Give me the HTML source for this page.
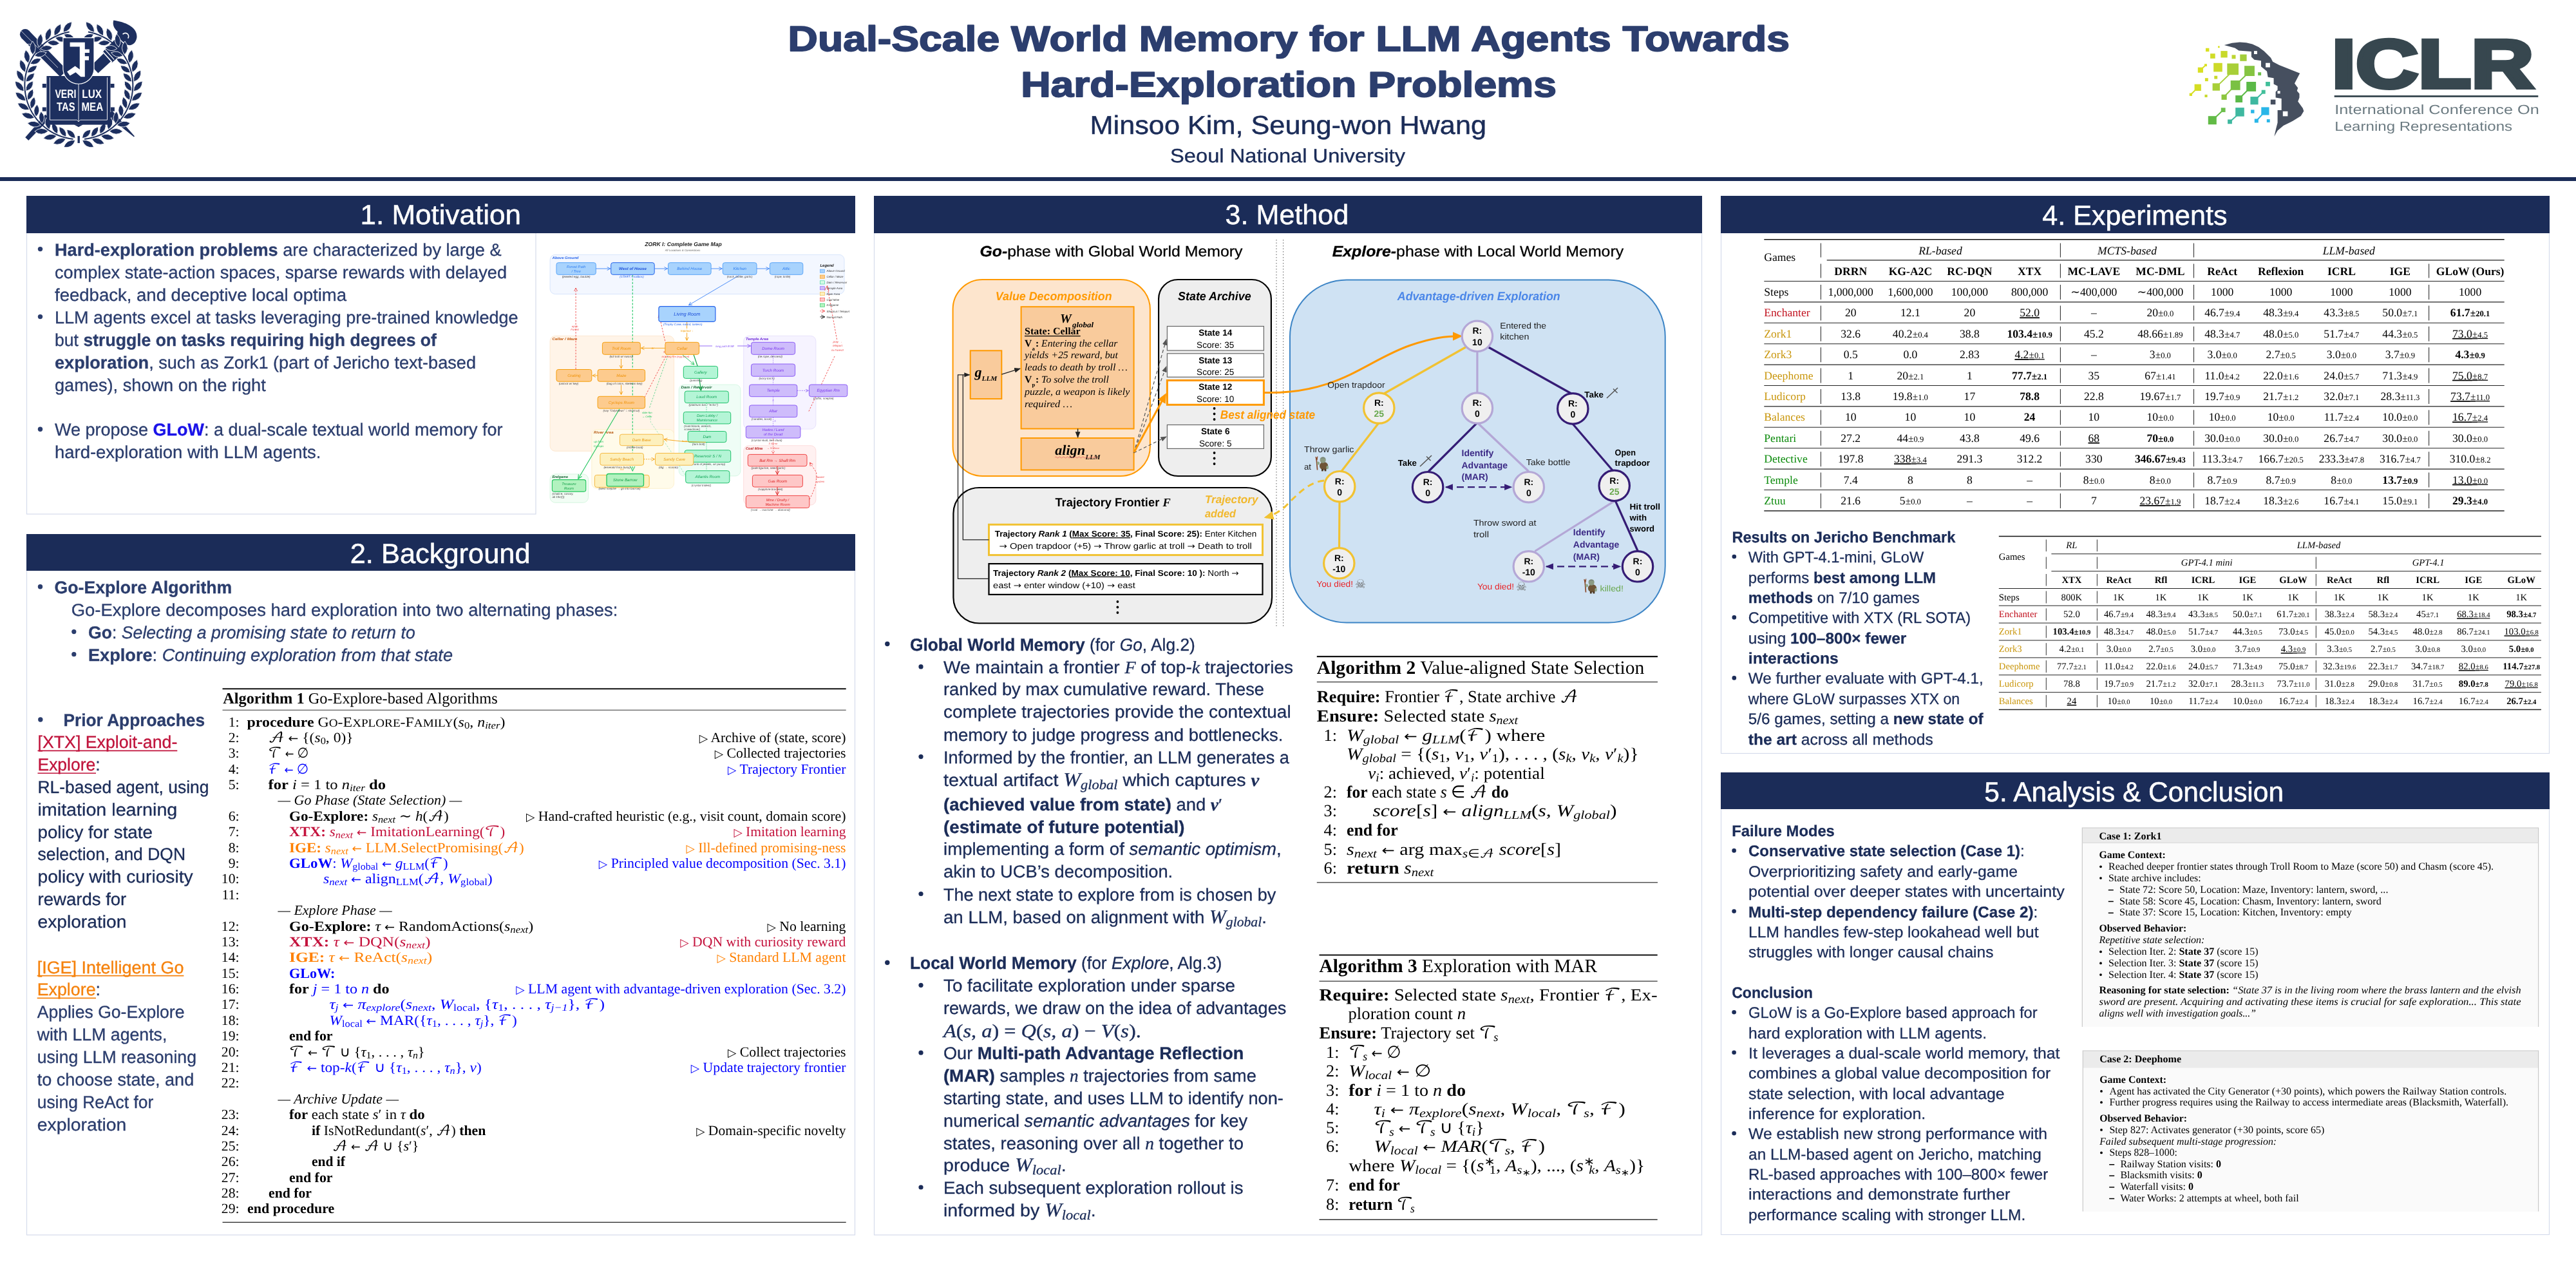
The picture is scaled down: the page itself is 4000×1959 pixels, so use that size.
<!DOCTYPE html>
<html lang="en"><head><meta charset="utf-8">
<title>Dual-Scale World Memory for LLM Agents Towards Hard-Exploration Problems</title>
<style>html,body{margin:0;padding:0;background:#fff}body{width:4000px;height:1959px}svg{display:block;will-change:transform}</style>
</head><body>
<svg width="4000" height="1959" viewBox="0 0 4000 1959" font-family="'Liberation Sans', sans-serif" text-rendering="geometricPrecision">
<rect x="0" y="0" width="4000" height="1959" fill="#ffffff"/>
<text x="1223.6" y="79.2" font-size="55.00" fill="#2c3e6e" font-weight="bold" textLength="1555.4" lengthAdjust="spacingAndGlyphs" stroke="#2c3e6e" stroke-width="1.8" stroke-linejoin="round">Dual-Scale World Memory for LLM Agents Towards</text>
<text x="1585.2" y="149.6" font-size="55.00" fill="#2c3e6e" font-weight="bold" textLength="831.8" lengthAdjust="spacingAndGlyphs" stroke="#2c3e6e" stroke-width="1.8" stroke-linejoin="round">Hard-Exploration Problems</text>
<text x="1692.5" y="207.5" font-size="40.50" fill="#1b2c58" textLength="615.5" lengthAdjust="spacingAndGlyphs" stroke="#1b2c58" stroke-width="0.49">Minsoo Kim, Seung-won Hwang</text>
<text x="1817.0" y="252.0" font-size="30.00" fill="#1b2c58" textLength="365.0" lengthAdjust="spacingAndGlyphs" stroke="#1b2c58" stroke-width="0.36">Seoul National University</text>
<rect x="0.0" y="275.0" width="4000.0" height="6.0" fill="#1b2c58" />
<rect x="41.5" y="361.5" width="790.5" height="436.5" fill="#fff" stroke="#d5dbec" stroke-width="1.2" />
<rect x="41.0" y="304.0" width="1287.0" height="58.0" fill="#1b2c58" />
<text x="559.5" y="348.4" font-size="43.00" fill="#ffffff" textLength="249.5" lengthAdjust="spacingAndGlyphs" stroke="#ffffff" stroke-width="0.52">1. Motivation</text>
<rect x="41.5" y="885.5" width="1286.0" height="1031.5" fill="#fff" stroke="#d5dbec" stroke-width="1.2" />
<rect x="41.0" y="829.0" width="1287.0" height="57.0" fill="#1b2c58" />
<text x="543.7" y="874.3" font-size="43.00" fill="#ffffff" textLength="279.9" lengthAdjust="spacingAndGlyphs" stroke="#ffffff" stroke-width="0.52">2. Background</text>
<rect x="1357.5" y="361.5" width="1285.0" height="1555.5" fill="#fff" stroke="#d5dbec" stroke-width="1.2" />
<rect x="1357.0" y="304.0" width="1286.0" height="58.0" fill="#1b2c58" />
<text x="1902.6" y="348.1" font-size="43.00" fill="#ffffff" textLength="191.7" lengthAdjust="spacingAndGlyphs" stroke="#ffffff" stroke-width="0.52">3. Method</text>
<rect x="2672.5" y="361.5" width="1286.0" height="808.0" fill="#fff" stroke="#d5dbec" stroke-width="1.2" />
<rect x="2672.0" y="304.0" width="1287.0" height="58.0" fill="#1b2c58" />
<text x="3171.3" y="348.6" font-size="43.00" fill="#ffffff" textLength="287.2" lengthAdjust="spacingAndGlyphs" stroke="#ffffff" stroke-width="0.52">4. Experiments</text>
<rect x="2672.5" y="1255.5" width="1286.0" height="661.0" fill="#fff" stroke="#d5dbec" stroke-width="1.2" />
<rect x="2672.0" y="1199.0" width="1287.0" height="57.0" fill="#1b2c58" />
<text x="3081.3" y="1243.9" font-size="43.00" fill="#ffffff" textLength="464.7" lengthAdjust="spacingAndGlyphs" stroke="#ffffff" stroke-width="0.52">5. Analysis &amp; Conclusion</text>
<text x="85.0" y="396.6" font-size="27.00" fill="#2b3d6d" textLength="693.5" lengthAdjust="spacingAndGlyphs" stroke="#2b3d6d" stroke-width="0.32"><tspan font-weight="bold">Hard-exploration problems</tspan> are characterized by large &amp;</text>
<circle cx="62.5" cy="386.6" r="3.7" fill="#2b3d6d" />
<text x="85.0" y="431.7" font-size="27.00" fill="#2b3d6d" textLength="702.0" lengthAdjust="spacingAndGlyphs" stroke="#2b3d6d" stroke-width="0.32">complex state-action spaces, sparse rewards with delayed</text>
<text x="85.0" y="466.6" font-size="27.00" fill="#2b3d6d" textLength="453.0" lengthAdjust="spacingAndGlyphs" stroke="#2b3d6d" stroke-width="0.32">feedback, and deceptive local optima</text>
<text x="85.0" y="501.6" font-size="27.00" fill="#2b3d6d" textLength="719.6" lengthAdjust="spacingAndGlyphs" stroke="#2b3d6d" stroke-width="0.32">LLM agents excel at tasks leveraging pre-trained knowledge</text>
<circle cx="62.5" cy="491.6" r="3.7" fill="#2b3d6d" />
<text x="85.0" y="536.7" font-size="27.00" fill="#2b3d6d" textLength="593.0" lengthAdjust="spacingAndGlyphs" stroke="#2b3d6d" stroke-width="0.32">but <tspan font-weight="bold">struggle on tasks requiring high degrees of</tspan></text>
<text x="85.0" y="571.7" font-size="27.00" fill="#2b3d6d" textLength="654.0" lengthAdjust="spacingAndGlyphs" stroke="#2b3d6d" stroke-width="0.32"><tspan font-weight="bold">exploration</tspan>, such as Zork1 (part of Jericho text-based</text>
<text x="85.0" y="606.6" font-size="27.00" fill="#2b3d6d" textLength="327.7" lengthAdjust="spacingAndGlyphs" stroke="#2b3d6d" stroke-width="0.32">games), shown on the right</text>
<text x="85.0" y="676.2" font-size="27.00" fill="#2b3d6d" textLength="695.4" lengthAdjust="spacingAndGlyphs" stroke="#2b3d6d" stroke-width="0.32">We propose <tspan font-weight="bold"><tspan fill="#1a12e8" stroke="#1a12e8">GLoW</tspan></tspan>: a dual-scale textual world memory for</text>
<circle cx="62.5" cy="666.2" r="3.7" fill="#2b3d6d" />
<text x="85.0" y="711.2" font-size="27.00" fill="#2b3d6d" textLength="413.4" lengthAdjust="spacingAndGlyphs" stroke="#2b3d6d" stroke-width="0.32">hard-exploration with LLM agents.</text>
<circle cx="62.5" cy="910.8" r="3.7" fill="#2b3d6d" />
<text x="84.6" y="920.8" font-size="27.00" fill="#2b3d6d" textLength="275.7" lengthAdjust="spacingAndGlyphs" stroke="#2b3d6d" stroke-width="0.32"><tspan font-weight="bold">Go-Explore Algorithm</tspan></text>
<text x="110.7" y="955.7" font-size="27.00" fill="#2b3d6d" textLength="848.6" lengthAdjust="spacingAndGlyphs" stroke="#2b3d6d" stroke-width="0.32">Go-Explore decomposes hard exploration into two alternating phases:</text>
<circle cx="114.8" cy="980.6" r="3.6" fill="#2b3d6d" />
<text x="137.0" y="990.6" font-size="27.00" fill="#2b3d6d" textLength="507.8" lengthAdjust="spacingAndGlyphs" stroke="#2b3d6d" stroke-width="0.32"><tspan font-weight="bold">Go</tspan>: <tspan font-style="italic">Selecting a promising state to return to</tspan></text>
<circle cx="114.8" cy="1015.6" r="3.6" fill="#2b3d6d" />
<text x="137.0" y="1025.6" font-size="27.00" fill="#2b3d6d" textLength="566.0" lengthAdjust="spacingAndGlyphs" stroke="#2b3d6d" stroke-width="0.32"><tspan font-weight="bold">Explore</tspan>: <tspan font-style="italic">Continuing exploration from that state</tspan></text>
<circle cx="62.8" cy="1117.0" r="3.7" fill="#2b3d6d" />
<text x="98.5" y="1127.0" font-size="27.00" fill="#2b3d6d" textLength="219.5" lengthAdjust="spacingAndGlyphs" stroke="#2b3d6d" stroke-width="0.32"><tspan font-weight="bold">Prior Approaches</tspan></text>
<text x="58.5" y="1161.4" font-size="27.00" fill="#c0143c" textLength="216.8" lengthAdjust="spacingAndGlyphs" stroke="#c0143c" stroke-width="0.32">[XTX] Exploit-and-</text>
<line x1="58.5" y1="1165.4" x2="275.3" y2="1165.4" stroke="#c0143c" stroke-width="1.6" />
<text x="58.5" y="1196.2" font-size="27.00" fill="#2b3d6d" textLength="97.0" lengthAdjust="spacingAndGlyphs" stroke="#2b3d6d" stroke-width="0.32"><tspan fill="#c0143c" stroke="#c0143c">Explore</tspan>:</text>
<line x1="58.5" y1="1200.2" x2="149.0" y2="1200.2" stroke="#c0143c" stroke-width="1.6" />
<text x="58.5" y="1231.2" font-size="27.00" fill="#1b2c58" textLength="265.9" lengthAdjust="spacingAndGlyphs" stroke="#1b2c58" stroke-width="0.32">RL-based agent, using</text>
<text x="58.5" y="1265.8" font-size="27.00" fill="#1b2c58" textLength="216.8" lengthAdjust="spacingAndGlyphs" stroke="#1b2c58" stroke-width="0.32">imitation learning</text>
<text x="58.5" y="1300.6" font-size="27.00" fill="#1b2c58" textLength="178.3" lengthAdjust="spacingAndGlyphs" stroke="#1b2c58" stroke-width="0.32">policy for state</text>
<text x="58.5" y="1335.4" font-size="27.00" fill="#1b2c58" textLength="229.5" lengthAdjust="spacingAndGlyphs" stroke="#1b2c58" stroke-width="0.32">selection, and DQN</text>
<text x="58.5" y="1370.2" font-size="27.00" fill="#1b2c58" textLength="241.1" lengthAdjust="spacingAndGlyphs" stroke="#1b2c58" stroke-width="0.32">policy with curiosity</text>
<text x="58.5" y="1405.0" font-size="27.00" fill="#1b2c58" textLength="137.8" lengthAdjust="spacingAndGlyphs" stroke="#1b2c58" stroke-width="0.32">rewards for</text>
<text x="58.5" y="1439.6" font-size="27.00" fill="#1b2c58" textLength="137.8" lengthAdjust="spacingAndGlyphs" stroke="#1b2c58" stroke-width="0.32">exploration</text>
<text x="57.7" y="1510.6" font-size="27.00" fill="#f5820d" textLength="227.7" lengthAdjust="spacingAndGlyphs" stroke="#f5820d" stroke-width="0.32">[IGE] Intelligent Go</text>
<line x1="57.7" y1="1514.6" x2="285.4" y2="1514.6" stroke="#f5820d" stroke-width="1.6" />
<text x="57.7" y="1545.4" font-size="27.00" fill="#2b3d6d" textLength="98.3" lengthAdjust="spacingAndGlyphs" stroke="#2b3d6d" stroke-width="0.32"><tspan fill="#f5820d" stroke="#f5820d">Explore</tspan>:</text>
<line x1="57.7" y1="1549.4" x2="149.0" y2="1549.4" stroke="#f5820d" stroke-width="1.6" />
<text x="57.7" y="1580.3" font-size="27.00" fill="#2b3d6d" textLength="228.8" lengthAdjust="spacingAndGlyphs" stroke="#2b3d6d" stroke-width="0.32">Applies Go-Explore</text>
<text x="57.7" y="1615.2" font-size="27.00" fill="#2b3d6d" textLength="201.6" lengthAdjust="spacingAndGlyphs" stroke="#2b3d6d" stroke-width="0.32">with LLM agents,</text>
<text x="57.7" y="1650.0" font-size="27.00" fill="#2b3d6d" textLength="247.3" lengthAdjust="spacingAndGlyphs" stroke="#2b3d6d" stroke-width="0.32">using LLM reasoning</text>
<text x="57.7" y="1684.9" font-size="27.00" fill="#2b3d6d" textLength="243.5" lengthAdjust="spacingAndGlyphs" stroke="#2b3d6d" stroke-width="0.32">to choose state, and</text>
<text x="57.7" y="1719.7" font-size="27.00" fill="#2b3d6d" textLength="180.6" lengthAdjust="spacingAndGlyphs" stroke="#2b3d6d" stroke-width="0.32">using ReAct for</text>
<text x="57.7" y="1754.5" font-size="27.00" fill="#2b3d6d" textLength="138.7" lengthAdjust="spacingAndGlyphs" stroke="#2b3d6d" stroke-width="0.32">exploration</text>
<line x1="345.5" y1="1069.3" x2="1313.7" y2="1069.3" stroke="#111" stroke-width="2" />
<text x="346.2" y="1092.4" font-size="24.20" fill="#000000" font-family="'Liberation Serif', serif" textLength="426.5" lengthAdjust="spacingAndGlyphs" stroke-width="0"><tspan font-weight="bold">Algorithm 1</tspan> Go-Explore-based Algorithms</text>
<line x1="345.5" y1="1102.2" x2="1313.7" y2="1102.2" stroke="#333" stroke-width="1.1" />
<line x1="345.5" y1="1897.3" x2="1313.7" y2="1897.3" stroke="#222" stroke-width="1.3" />
<text x="371.5" y="1127.5" font-size="21.70" fill="#000000" font-family="'Liberation Serif', serif" text-anchor="end" stroke-width="0">1:</text>
<text x="383.5" y="1127.5" font-size="21.70" fill="#000000" font-family="'Liberation Serif', serif" textLength="400.9" lengthAdjust="spacingAndGlyphs" stroke-width="0"><tspan font-weight="bold">procedure</tspan> G<tspan style="font-size:.8em">O</tspan>-E<tspan style="font-size:.8em">XPLORE</tspan>-F<tspan style="font-size:.8em">AMILY</tspan>(<tspan font-style="italic">s</tspan><tspan style="font-size:.7em" baseline-shift="-0.22em">0</tspan>, <tspan font-style="italic">n<tspan style="font-size:.7em" baseline-shift="-0.22em">iter</tspan></tspan>)</text>
<text x="371.5" y="1151.9" font-size="21.70" fill="#000000" font-family="'Liberation Serif', serif" text-anchor="end" stroke-width="0">2:</text>
<text x="416.5" y="1151.9" font-size="21.70" fill="#000000" font-family="'Liberation Serif', serif" textLength="132.1" lengthAdjust="spacingAndGlyphs" stroke-width="0"><tspan font-family="'DejaVu Math TeX Gyre', 'DejaVu Serif', serif" font-style="normal" font-weight="normal">𝒜</tspan> <tspan font-family="'DejaVu Sans', sans-serif" font-style="normal"><tspan style="font-size:.8em">←</tspan></tspan> {(<tspan font-style="italic">s</tspan><tspan style="font-size:.7em" baseline-shift="-0.22em">0</tspan>, 0)}</text>
<text x="1085.8" y="1151.9" font-size="21.70" fill="#000000" font-family="'Liberation Serif', serif" textLength="227.7" lengthAdjust="spacingAndGlyphs" stroke-width="0"><tspan font-family="'DejaVu Sans', sans-serif" font-style="normal"><tspan style="font-size:.8em">▷</tspan></tspan> Archive of (state, score)</text>
<text x="371.5" y="1176.3" font-size="21.70" fill="#000000" font-family="'Liberation Serif', serif" text-anchor="end" stroke-width="0">3:</text>
<text x="416.5" y="1176.3" font-size="21.70" fill="#000000" font-family="'Liberation Serif', serif" textLength="62.8" lengthAdjust="spacingAndGlyphs" stroke-width="0"><tspan font-family="'DejaVu Math TeX Gyre', 'DejaVu Serif', serif" font-style="normal" font-weight="normal">𝒯</tspan> <tspan font-family="'DejaVu Sans', sans-serif" font-style="normal"><tspan style="font-size:.8em">←</tspan></tspan> ∅</text>
<text x="1109.8" y="1176.3" font-size="21.70" fill="#000000" font-family="'Liberation Serif', serif" textLength="203.7" lengthAdjust="spacingAndGlyphs" stroke-width="0"><tspan font-family="'DejaVu Sans', sans-serif" font-style="normal"><tspan style="font-size:.8em">▷</tspan></tspan> Collected trajectories</text>
<text x="371.5" y="1200.7" font-size="21.70" fill="#000000" font-family="'Liberation Serif', serif" text-anchor="end" stroke-width="0">4:</text>
<text x="416.5" y="1200.7" font-size="21.70" fill="#0000ff" font-family="'Liberation Serif', serif" textLength="62.8" lengthAdjust="spacingAndGlyphs" stroke-width="0"><tspan font-family="'DejaVu Math TeX Gyre', 'DejaVu Serif', serif" font-style="normal" font-weight="normal">ℱ</tspan> <tspan font-family="'DejaVu Sans', sans-serif" font-style="normal"><tspan style="font-size:.8em">←</tspan></tspan> ∅</text>
<text x="1130.0" y="1200.7" font-size="21.70" fill="#0000ff" font-family="'Liberation Serif', serif" textLength="183.5" lengthAdjust="spacingAndGlyphs" stroke-width="0"><tspan font-family="'DejaVu Sans', sans-serif" font-style="normal"><tspan style="font-size:.8em">▷</tspan></tspan> Trajectory Frontier</text>
<text x="371.5" y="1225.0" font-size="21.70" fill="#000000" font-family="'Liberation Serif', serif" text-anchor="end" stroke-width="0">5:</text>
<text x="416.5" y="1225.0" font-size="21.70" fill="#000000" font-family="'Liberation Serif', serif" textLength="182.5" lengthAdjust="spacingAndGlyphs" stroke-width="0"><tspan font-weight="bold">for</tspan> <tspan font-style="italic">i</tspan> = 1 to <tspan font-style="italic">n<tspan style="font-size:.7em" baseline-shift="-0.22em">iter</tspan></tspan> <tspan font-weight="bold">do</tspan></text>
<text x="431.6" y="1249.4" font-size="21.70" fill="#000000" font-family="'Liberation Serif', serif" textLength="285.6" lengthAdjust="spacingAndGlyphs" stroke-width="0"><tspan font-style="italic">— Go Phase (State Selection) —</tspan></text>
<text x="371.5" y="1273.8" font-size="21.70" fill="#000000" font-family="'Liberation Serif', serif" text-anchor="end" stroke-width="0">6:</text>
<text x="449.0" y="1273.8" font-size="21.70" fill="#000000" font-family="'Liberation Serif', serif" textLength="247.8" lengthAdjust="spacingAndGlyphs" stroke-width="0"><tspan font-weight="bold">Go-Explore:</tspan> <tspan font-style="italic">s<tspan style="font-size:.7em" baseline-shift="-0.22em">next</tspan></tspan> ∼ <tspan font-style="italic">h</tspan>(<tspan font-family="'DejaVu Math TeX Gyre', 'DejaVu Serif', serif" font-style="normal" font-weight="normal">𝒜</tspan>)</text>
<text x="816.9" y="1273.8" font-size="21.70" fill="#000000" font-family="'Liberation Serif', serif" textLength="496.6" lengthAdjust="spacingAndGlyphs" stroke-width="0"><tspan font-family="'DejaVu Sans', sans-serif" font-style="normal"><tspan style="font-size:.8em">▷</tspan></tspan> Hand-crafted heuristic (e.g., visit count, domain score)</text>
<text x="371.5" y="1298.2" font-size="21.70" fill="#000000" font-family="'Liberation Serif', serif" text-anchor="end" stroke-width="0">7:</text>
<text x="449.0" y="1298.2" font-size="21.70" fill="#c4133d" font-family="'Liberation Serif', serif" textLength="335.4" lengthAdjust="spacingAndGlyphs" stroke-width="0"><tspan font-weight="bold">XTX:</tspan> <tspan font-style="italic">s<tspan style="font-size:.7em" baseline-shift="-0.22em">next</tspan></tspan> <tspan font-family="'DejaVu Sans', sans-serif" font-style="normal"><tspan style="font-size:.8em">←</tspan></tspan> ImitationLearning(<tspan font-family="'DejaVu Math TeX Gyre', 'DejaVu Serif', serif" font-style="normal" font-weight="normal">𝒯</tspan>)</text>
<text x="1139.4" y="1298.2" font-size="21.70" fill="#c4133d" font-family="'Liberation Serif', serif" textLength="174.1" lengthAdjust="spacingAndGlyphs" stroke-width="0"><tspan font-family="'DejaVu Sans', sans-serif" font-style="normal"><tspan style="font-size:.8em">▷</tspan></tspan> Imitation learning</text>
<text x="371.5" y="1322.6" font-size="21.70" fill="#000000" font-family="'Liberation Serif', serif" text-anchor="end" stroke-width="0">8:</text>
<text x="449.0" y="1322.6" font-size="21.70" fill="#ff8000" font-family="'Liberation Serif', serif" textLength="364.7" lengthAdjust="spacingAndGlyphs" stroke-width="0"><tspan font-weight="bold">IGE:</tspan> <tspan font-style="italic">s<tspan style="font-size:.7em" baseline-shift="-0.22em">next</tspan></tspan> <tspan font-family="'DejaVu Sans', sans-serif" font-style="normal"><tspan style="font-size:.8em">←</tspan></tspan> LLM.SelectPromising(<tspan font-family="'DejaVu Math TeX Gyre', 'DejaVu Serif', serif" font-style="normal" font-weight="normal">𝒜</tspan>)</text>
<text x="1065.6" y="1322.6" font-size="21.70" fill="#ff8000" font-family="'Liberation Serif', serif" textLength="247.9" lengthAdjust="spacingAndGlyphs" stroke-width="0"><tspan font-family="'DejaVu Sans', sans-serif" font-style="normal"><tspan style="font-size:.8em">▷</tspan></tspan> Ill-defined promising-ness</text>
<text x="371.5" y="1347.0" font-size="21.70" fill="#000000" font-family="'Liberation Serif', serif" text-anchor="end" stroke-width="0">9:</text>
<text x="449.0" y="1347.0" font-size="21.70" fill="#0000ff" font-family="'Liberation Serif', serif" textLength="246.6" lengthAdjust="spacingAndGlyphs" stroke-width="0"><tspan font-weight="bold">GLoW</tspan>: <tspan font-style="italic">W</tspan><tspan style="font-size:.7em" baseline-shift="-0.22em">global</tspan> <tspan font-family="'DejaVu Sans', sans-serif" font-style="normal"><tspan style="font-size:.8em">←</tspan></tspan> <tspan font-style="italic">g</tspan><tspan style="font-size:.7em" baseline-shift="-0.22em">LLM</tspan>(<tspan font-family="'DejaVu Math TeX Gyre', 'DejaVu Serif', serif" font-style="normal" font-weight="normal">ℱ</tspan>)</text>
<text x="929.8" y="1347.0" font-size="21.70" fill="#0000ff" font-family="'Liberation Serif', serif" textLength="383.7" lengthAdjust="spacingAndGlyphs" stroke-width="0"><tspan font-family="'DejaVu Sans', sans-serif" font-style="normal"><tspan style="font-size:.8em">▷</tspan></tspan> Principled value decomposition (Sec. 3.1)</text>
<text x="371.5" y="1371.3" font-size="21.70" fill="#000000" font-family="'Liberation Serif', serif" text-anchor="end" stroke-width="0">10:</text>
<text x="502.0" y="1371.3" font-size="21.70" fill="#0000ff" font-family="'Liberation Serif', serif" textLength="262.8" lengthAdjust="spacingAndGlyphs" stroke-width="0"><tspan font-style="italic">s<tspan style="font-size:.7em" baseline-shift="-0.22em">next</tspan></tspan> <tspan font-family="'DejaVu Sans', sans-serif" font-style="normal"><tspan style="font-size:.8em">←</tspan></tspan> align<tspan style="font-size:.7em" baseline-shift="-0.22em">LLM</tspan>(<tspan font-family="'DejaVu Math TeX Gyre', 'DejaVu Serif', serif" font-style="normal" font-weight="normal">𝒜</tspan>, <tspan font-style="italic">W</tspan><tspan style="font-size:.7em" baseline-shift="-0.22em">global</tspan>)</text>
<text x="371.5" y="1395.7" font-size="21.70" fill="#000000" font-family="'Liberation Serif', serif" text-anchor="end" stroke-width="0">11:</text>
<text x="431.6" y="1420.1" font-size="21.70" fill="#000000" font-family="'Liberation Serif', serif" textLength="177.1" lengthAdjust="spacingAndGlyphs" stroke-width="0"><tspan font-style="italic">— Explore Phase —</tspan></text>
<text x="371.5" y="1444.5" font-size="21.70" fill="#000000" font-family="'Liberation Serif', serif" text-anchor="end" stroke-width="0">12:</text>
<text x="449.0" y="1444.5" font-size="21.70" fill="#000000" font-family="'Liberation Serif', serif" textLength="379.3" lengthAdjust="spacingAndGlyphs" stroke-width="0"><tspan font-weight="bold">Go-Explore:</tspan> <tspan font-style="italic">τ</tspan> <tspan font-family="'DejaVu Sans', sans-serif" font-style="normal"><tspan style="font-size:.8em">←</tspan></tspan> RandomActions(<tspan font-style="italic">s<tspan style="font-size:.7em" baseline-shift="-0.22em">next</tspan></tspan>)</text>
<text x="1191.5" y="1444.5" font-size="21.70" fill="#000000" font-family="'Liberation Serif', serif" textLength="122.0" lengthAdjust="spacingAndGlyphs" stroke-width="0"><tspan font-family="'DejaVu Sans', sans-serif" font-style="normal"><tspan style="font-size:.8em">▷</tspan></tspan> No learning</text>
<text x="371.5" y="1468.9" font-size="21.70" fill="#000000" font-family="'Liberation Serif', serif" text-anchor="end" stroke-width="0">13:</text>
<text x="449.0" y="1468.9" font-size="21.70" fill="#c4133d" font-family="'Liberation Serif', serif" textLength="219.6" lengthAdjust="spacingAndGlyphs" stroke-width="0"><tspan font-weight="bold">XTX:</tspan> <tspan font-style="italic">τ</tspan> <tspan font-family="'DejaVu Sans', sans-serif" font-style="normal"><tspan style="font-size:.8em">←</tspan></tspan> DQN(<tspan font-style="italic">s<tspan style="font-size:.7em" baseline-shift="-0.22em">next</tspan></tspan>)</text>
<text x="1056.2" y="1468.9" font-size="21.70" fill="#c4133d" font-family="'Liberation Serif', serif" textLength="257.3" lengthAdjust="spacingAndGlyphs" stroke-width="0"><tspan font-family="'DejaVu Sans', sans-serif" font-style="normal"><tspan style="font-size:.8em">▷</tspan></tspan> DQN with curiosity reward</text>
<text x="371.5" y="1493.3" font-size="21.70" fill="#000000" font-family="'Liberation Serif', serif" text-anchor="end" stroke-width="0">14:</text>
<text x="449.0" y="1493.3" font-size="21.70" fill="#ff8000" font-family="'Liberation Serif', serif" textLength="222.2" lengthAdjust="spacingAndGlyphs" stroke-width="0"><tspan font-weight="bold">IGE:</tspan> <tspan font-style="italic">τ</tspan> <tspan font-family="'DejaVu Sans', sans-serif" font-style="normal"><tspan style="font-size:.8em">←</tspan></tspan> ReAct(<tspan font-style="italic">s<tspan style="font-size:.7em" baseline-shift="-0.22em">next</tspan></tspan>)</text>
<text x="1113.4" y="1493.3" font-size="21.70" fill="#ff8000" font-family="'Liberation Serif', serif" textLength="200.1" lengthAdjust="spacingAndGlyphs" stroke-width="0"><tspan font-family="'DejaVu Sans', sans-serif" font-style="normal"><tspan style="font-size:.8em">▷</tspan></tspan> Standard LLM agent</text>
<text x="371.5" y="1517.7" font-size="21.70" fill="#000000" font-family="'Liberation Serif', serif" text-anchor="end" stroke-width="0">15:</text>
<text x="449.0" y="1517.7" font-size="21.70" fill="#0000ff" font-family="'Liberation Serif', serif" textLength="71.3" lengthAdjust="spacingAndGlyphs" stroke-width="0"><tspan font-weight="bold">GLoW:</tspan></text>
<text x="371.5" y="1542.0" font-size="21.70" fill="#000000" font-family="'Liberation Serif', serif" text-anchor="end" stroke-width="0">16:</text>
<text x="449.0" y="1542.0" font-size="21.70" fill="#0000ff" font-family="'Liberation Serif', serif" textLength="155.6" lengthAdjust="spacingAndGlyphs" stroke-width="0"><tspan fill="#000" stroke="#000"><tspan font-weight="bold">for</tspan></tspan> <tspan font-style="italic">j</tspan> = 1 to <tspan font-style="italic">n</tspan> <tspan fill="#000" stroke="#000"><tspan font-weight="bold">do</tspan></tspan></text>
<text x="801.2" y="1542.0" font-size="21.70" fill="#0000ff" font-family="'Liberation Serif', serif" textLength="512.3" lengthAdjust="spacingAndGlyphs" stroke-width="0"><tspan font-family="'DejaVu Sans', sans-serif" font-style="normal"><tspan style="font-size:.8em">▷</tspan></tspan> LLM agent with advantage-driven exploration (Sec. 3.2)</text>
<text x="371.5" y="1566.4" font-size="21.70" fill="#000000" font-family="'Liberation Serif', serif" text-anchor="end" stroke-width="0">17:</text>
<text x="511.4" y="1566.4" font-size="21.70" fill="#0000ff" font-family="'Liberation Serif', serif" textLength="427.6" lengthAdjust="spacingAndGlyphs" stroke-width="0"><tspan font-style="italic">τ<tspan style="font-size:.7em" baseline-shift="-0.22em">j</tspan></tspan> <tspan font-family="'DejaVu Sans', sans-serif" font-style="normal"><tspan style="font-size:.8em">←</tspan></tspan> <tspan font-style="italic">π<tspan style="font-size:.7em" baseline-shift="-0.22em">explore</tspan></tspan>(<tspan font-style="italic">s<tspan style="font-size:.7em" baseline-shift="-0.22em">next</tspan></tspan>, <tspan font-style="italic">W</tspan><tspan style="font-size:.7em" baseline-shift="-0.22em">local</tspan>, {<tspan font-style="italic">τ</tspan><tspan style="font-size:.7em" baseline-shift="-0.22em">1</tspan>, . . . , <tspan font-style="italic">τ<tspan style="font-size:.7em" baseline-shift="-0.22em">j−1</tspan></tspan>}, <tspan font-family="'DejaVu Math TeX Gyre', 'DejaVu Serif', serif" font-style="normal" font-weight="normal">ℱ</tspan>)</text>
<text x="371.5" y="1590.8" font-size="21.70" fill="#000000" font-family="'Liberation Serif', serif" text-anchor="end" stroke-width="0">18:</text>
<text x="511.4" y="1590.8" font-size="21.70" fill="#0000ff" font-family="'Liberation Serif', serif" textLength="291.4" lengthAdjust="spacingAndGlyphs" stroke-width="0"><tspan font-style="italic">W</tspan><tspan style="font-size:.7em" baseline-shift="-0.22em">local</tspan> <tspan font-family="'DejaVu Sans', sans-serif" font-style="normal"><tspan style="font-size:.8em">←</tspan></tspan> MAR({<tspan font-style="italic">τ</tspan><tspan style="font-size:.7em" baseline-shift="-0.22em">1</tspan>, . . . , <tspan font-style="italic">τ<tspan style="font-size:.7em" baseline-shift="-0.22em">j</tspan></tspan>}, <tspan font-family="'DejaVu Math TeX Gyre', 'DejaVu Serif', serif" font-style="normal" font-weight="normal">ℱ</tspan>)</text>
<text x="371.5" y="1615.2" font-size="21.70" fill="#000000" font-family="'Liberation Serif', serif" text-anchor="end" stroke-width="0">19:</text>
<text x="449.0" y="1615.2" font-size="21.70" fill="#000000" font-family="'Liberation Serif', serif" textLength="67.6" lengthAdjust="spacingAndGlyphs" stroke-width="0"><tspan font-weight="bold">end for</tspan></text>
<text x="371.5" y="1639.6" font-size="21.70" fill="#000000" font-family="'Liberation Serif', serif" text-anchor="end" stroke-width="0">20:</text>
<text x="449.0" y="1639.6" font-size="21.70" fill="#000000" font-family="'Liberation Serif', serif" textLength="210.7" lengthAdjust="spacingAndGlyphs" stroke-width="0"><tspan font-family="'DejaVu Math TeX Gyre', 'DejaVu Serif', serif" font-style="normal" font-weight="normal">𝒯</tspan> <tspan font-family="'DejaVu Sans', sans-serif" font-style="normal"><tspan style="font-size:.8em">←</tspan></tspan> <tspan font-family="'DejaVu Math TeX Gyre', 'DejaVu Serif', serif" font-style="normal" font-weight="normal">𝒯</tspan> ∪ {<tspan font-style="italic">τ</tspan><tspan style="font-size:.7em" baseline-shift="-0.22em">1</tspan>, . . . , <tspan font-style="italic">τ<tspan style="font-size:.7em" baseline-shift="-0.22em">n</tspan></tspan>}</text>
<text x="1130.0" y="1639.6" font-size="21.70" fill="#000000" font-family="'Liberation Serif', serif" textLength="183.5" lengthAdjust="spacingAndGlyphs" stroke-width="0"><tspan font-family="'DejaVu Sans', sans-serif" font-style="normal"><tspan style="font-size:.8em">▷</tspan></tspan> Collect trajectories</text>
<text x="371.5" y="1664.0" font-size="21.70" fill="#000000" font-family="'Liberation Serif', serif" text-anchor="end" stroke-width="0">21:</text>
<text x="449.0" y="1664.0" font-size="21.70" fill="#0000ff" font-family="'Liberation Serif', serif" textLength="298.7" lengthAdjust="spacingAndGlyphs" stroke-width="0"><tspan font-family="'DejaVu Math TeX Gyre', 'DejaVu Serif', serif" font-style="normal" font-weight="normal">ℱ</tspan> <tspan font-family="'DejaVu Sans', sans-serif" font-style="normal"><tspan style="font-size:.8em">←</tspan></tspan> top-<tspan font-style="italic">k</tspan>(<tspan font-family="'DejaVu Math TeX Gyre', 'DejaVu Serif', serif" font-style="normal" font-weight="normal">ℱ</tspan> ∪ {<tspan font-style="italic">τ</tspan><tspan style="font-size:.7em" baseline-shift="-0.22em">1</tspan>, . . . , <tspan font-style="italic">τ<tspan style="font-size:.7em" baseline-shift="-0.22em">n</tspan></tspan>}, <tspan font-style="italic">v</tspan>)</text>
<text x="1072.8" y="1664.0" font-size="21.70" fill="#0000ff" font-family="'Liberation Serif', serif" textLength="240.7" lengthAdjust="spacingAndGlyphs" stroke-width="0"><tspan font-family="'DejaVu Sans', sans-serif" font-style="normal"><tspan style="font-size:.8em">▷</tspan></tspan> Update trajectory frontier</text>
<text x="371.5" y="1688.4" font-size="21.70" fill="#000000" font-family="'Liberation Serif', serif" text-anchor="end" stroke-width="0">22:</text>
<text x="431.6" y="1712.7" font-size="21.70" fill="#000000" font-family="'Liberation Serif', serif" textLength="187.4" lengthAdjust="spacingAndGlyphs" stroke-width="0"><tspan font-style="italic">— Archive Update —</tspan></text>
<text x="371.5" y="1737.1" font-size="21.70" fill="#000000" font-family="'Liberation Serif', serif" text-anchor="end" stroke-width="0">23:</text>
<text x="449.0" y="1737.1" font-size="21.70" fill="#000000" font-family="'Liberation Serif', serif" textLength="210.7" lengthAdjust="spacingAndGlyphs" stroke-width="0"><tspan font-weight="bold">for</tspan> each state <tspan font-style="italic">s</tspan>′ in <tspan font-style="italic">τ</tspan> <tspan font-weight="bold">do</tspan></text>
<text x="371.5" y="1761.5" font-size="21.70" fill="#000000" font-family="'Liberation Serif', serif" text-anchor="end" stroke-width="0">24:</text>
<text x="484.0" y="1761.5" font-size="21.70" fill="#000000" font-family="'Liberation Serif', serif" textLength="270.4" lengthAdjust="spacingAndGlyphs" stroke-width="0"><tspan font-weight="bold">if</tspan> IsNotRedundant(<tspan font-style="italic">s</tspan>′, <tspan font-family="'DejaVu Math TeX Gyre', 'DejaVu Serif', serif" font-style="normal" font-weight="normal">𝒜</tspan>) <tspan font-weight="bold">then</tspan></text>
<text x="1081.2" y="1761.5" font-size="21.70" fill="#000000" font-family="'Liberation Serif', serif" textLength="232.3" lengthAdjust="spacingAndGlyphs" stroke-width="0"><tspan font-family="'DejaVu Sans', sans-serif" font-style="normal"><tspan style="font-size:.8em">▷</tspan></tspan> Domain-specific novelty</text>
<text x="371.5" y="1785.9" font-size="21.70" fill="#000000" font-family="'Liberation Serif', serif" text-anchor="end" stroke-width="0">25:</text>
<text x="516.0" y="1785.9" font-size="21.70" fill="#000000" font-family="'Liberation Serif', serif" textLength="134.4" lengthAdjust="spacingAndGlyphs" stroke-width="0"><tspan font-family="'DejaVu Math TeX Gyre', 'DejaVu Serif', serif" font-style="normal" font-weight="normal">𝒜</tspan> <tspan font-family="'DejaVu Sans', sans-serif" font-style="normal"><tspan style="font-size:.8em">←</tspan></tspan> <tspan font-family="'DejaVu Math TeX Gyre', 'DejaVu Serif', serif" font-style="normal" font-weight="normal">𝒜</tspan> ∪ {<tspan font-style="italic">s</tspan>′}</text>
<text x="371.5" y="1810.3" font-size="21.70" fill="#000000" font-family="'Liberation Serif', serif" text-anchor="end" stroke-width="0">26:</text>
<text x="484.0" y="1810.3" font-size="21.70" fill="#000000" font-family="'Liberation Serif', serif" textLength="51.9" lengthAdjust="spacingAndGlyphs" stroke-width="0"><tspan font-weight="bold">end if</tspan></text>
<text x="371.5" y="1834.7" font-size="21.70" fill="#000000" font-family="'Liberation Serif', serif" text-anchor="end" stroke-width="0">27:</text>
<text x="449.0" y="1834.7" font-size="21.70" fill="#000000" font-family="'Liberation Serif', serif" textLength="67.6" lengthAdjust="spacingAndGlyphs" stroke-width="0"><tspan font-weight="bold">end for</tspan></text>
<text x="371.5" y="1859.1" font-size="21.70" fill="#000000" font-family="'Liberation Serif', serif" text-anchor="end" stroke-width="0">28:</text>
<text x="417.0" y="1859.1" font-size="21.70" fill="#000000" font-family="'Liberation Serif', serif" textLength="66.9" lengthAdjust="spacingAndGlyphs" stroke-width="0"><tspan font-weight="bold">end for</tspan></text>
<text x="371.5" y="1883.4" font-size="21.70" fill="#000000" font-family="'Liberation Serif', serif" text-anchor="end" stroke-width="0">29:</text>
<text x="384.0" y="1883.4" font-size="21.70" fill="#000000" font-family="'Liberation Serif', serif" textLength="135.3" lengthAdjust="spacingAndGlyphs" stroke-width="0"><tspan font-weight="bold">end procedure</tspan></text>
<circle cx="1377.8" cy="999.5" r="3.7" fill="#1b2c58" />
<text x="1413.0" y="1009.5" font-size="27.00" fill="#1b2c58" textLength="442.8" lengthAdjust="spacingAndGlyphs" stroke="#1b2c58" stroke-width="0.32"><tspan font-weight="bold">Global World Memory</tspan> (for <tspan font-style="italic">Go</tspan>, Alg.2)</text>
<text x="1465.0" y="1044.9" font-size="27.00" fill="#1b2c58" textLength="543.0" lengthAdjust="spacingAndGlyphs" stroke="#1b2c58" stroke-width="0.32">We maintain a frontier <tspan font-family="'Liberation Serif', serif"><tspan font-style="italic">F</tspan></tspan> of top-<tspan font-family="'Liberation Serif', serif"><tspan font-style="italic">k</tspan></tspan> trajectories</text>
<circle cx="1430.0" cy="1034.9" r="3.6" fill="#1b2c58" />
<text x="1465.0" y="1079.3" font-size="27.00" fill="#1b2c58" textLength="498.0" lengthAdjust="spacingAndGlyphs" stroke="#1b2c58" stroke-width="0.32">ranked by max cumulative reward. These</text>
<text x="1465.0" y="1114.4" font-size="27.00" fill="#1b2c58" textLength="539.6" lengthAdjust="spacingAndGlyphs" stroke="#1b2c58" stroke-width="0.32">complete trajectories provide the contextual</text>
<text x="1465.0" y="1149.5" font-size="27.00" fill="#1b2c58" textLength="527.4" lengthAdjust="spacingAndGlyphs" stroke="#1b2c58" stroke-width="0.32">memory to judge progress and bottlenecks.</text>
<text x="1465.0" y="1184.6" font-size="27.00" fill="#1b2c58" textLength="537.0" lengthAdjust="spacingAndGlyphs" stroke="#1b2c58" stroke-width="0.32">Informed by the frontier, an LLM generates a</text>
<circle cx="1430.0" cy="1174.6" r="3.6" fill="#1b2c58" />
<text x="1465.0" y="1220.4" font-size="27.00" fill="#1b2c58" textLength="490.2" lengthAdjust="spacingAndGlyphs" stroke="#1b2c58" stroke-width="0.32">textual artifact <tspan font-family="'Liberation Serif', serif"><tspan style="font-size:1.12em"><tspan font-style="italic">W<tspan style="font-size:.7em" baseline-shift="-0.22em">global</tspan></tspan></tspan></tspan> which captures <tspan font-family="'Liberation Serif', serif"><tspan font-weight="bold"><tspan font-style="italic">v</tspan></tspan></tspan></text>
<text x="1465.0" y="1257.6" font-size="27.00" fill="#1b2c58" textLength="433.0" lengthAdjust="spacingAndGlyphs" stroke="#1b2c58" stroke-width="0.32"><tspan font-weight="bold">(achieved value from state)</tspan> and <tspan font-family="'Liberation Serif', serif"><tspan font-weight="bold"><tspan font-style="italic">v</tspan></tspan>′</tspan></text>
<text x="1465.0" y="1292.7" font-size="27.00" fill="#1b2c58" textLength="374.4" lengthAdjust="spacingAndGlyphs" stroke="#1b2c58" stroke-width="0.32"><tspan font-weight="bold">(estimate of future potential)</tspan></text>
<text x="1465.0" y="1327.4" font-size="27.00" fill="#1b2c58" textLength="524.8" lengthAdjust="spacingAndGlyphs" stroke="#1b2c58" stroke-width="0.32">implementing a form of <tspan font-style="italic">semantic optimism</tspan>,</text>
<text x="1465.0" y="1362.4" font-size="27.00" fill="#1b2c58" textLength="356.2" lengthAdjust="spacingAndGlyphs" stroke="#1b2c58" stroke-width="0.32">akin to UCB’s decomposition.</text>
<text x="1465.0" y="1397.5" font-size="27.00" fill="#1b2c58" textLength="516.2" lengthAdjust="spacingAndGlyphs" stroke="#1b2c58" stroke-width="0.32">The next state to explore from is chosen by</text>
<circle cx="1430.0" cy="1387.5" r="3.6" fill="#1b2c58" />
<text x="1465.0" y="1433.2" font-size="27.00" fill="#1b2c58" textLength="501.9" lengthAdjust="spacingAndGlyphs" stroke="#1b2c58" stroke-width="0.32">an LLM, based on alignment with <tspan font-family="'Liberation Serif', serif"><tspan style="font-size:1.12em"><tspan font-style="italic">W<tspan style="font-size:.7em" baseline-shift="-0.22em">global</tspan></tspan></tspan></tspan>.</text>
<circle cx="1377.8" cy="1494.2" r="3.7" fill="#1b2c58" />
<text x="1413.0" y="1504.2" font-size="27.00" fill="#1b2c58" textLength="484.4" lengthAdjust="spacingAndGlyphs" stroke="#1b2c58" stroke-width="0.32"><tspan font-weight="bold">Local World Memory</tspan> (for <tspan font-style="italic">Explore</tspan>, Alg.3)</text>
<text x="1465.0" y="1539.3" font-size="27.00" fill="#1b2c58" textLength="453.0" lengthAdjust="spacingAndGlyphs" stroke="#1b2c58" stroke-width="0.32">To facilitate exploration under sparse</text>
<circle cx="1430.0" cy="1529.3" r="3.6" fill="#1b2c58" />
<text x="1465.0" y="1574.4" font-size="27.00" fill="#1b2c58" textLength="532.3" lengthAdjust="spacingAndGlyphs" stroke="#1b2c58" stroke-width="0.32">rewards, we draw on the idea of advantages</text>
<text x="1465.0" y="1609.5" font-size="29.00" fill="#1b2c58" textLength="306.8" lengthAdjust="spacingAndGlyphs" stroke="#1b2c58" stroke-width="0.35"><tspan font-family="'Liberation Serif', serif"><tspan font-style="italic">A</tspan>(<tspan font-style="italic">s</tspan>, <tspan font-style="italic">a</tspan>) = <tspan font-style="italic">Q</tspan>(<tspan font-style="italic">s</tspan>, <tspan font-style="italic">a</tspan>) − <tspan font-style="italic">V</tspan>(<tspan font-style="italic">s</tspan>).</tspan></text>
<text x="1465.0" y="1644.2" font-size="27.00" fill="#1b2c58" textLength="466.3" lengthAdjust="spacingAndGlyphs" stroke="#1b2c58" stroke-width="0.32">Our <tspan font-weight="bold">Multi-path Advantage Reflection</tspan></text>
<circle cx="1430.0" cy="1634.2" r="3.6" fill="#1b2c58" />
<text x="1465.0" y="1679.2" font-size="27.00" fill="#1b2c58" textLength="485.8" lengthAdjust="spacingAndGlyphs" stroke="#1b2c58" stroke-width="0.32"><tspan font-weight="bold">(MAR)</tspan> samples <tspan font-family="'Liberation Serif', serif"><tspan font-style="italic">n</tspan></tspan> trajectories from same</text>
<text x="1465.0" y="1714.3" font-size="27.00" fill="#1b2c58" textLength="527.9" lengthAdjust="spacingAndGlyphs" stroke="#1b2c58" stroke-width="0.32">starting state, and uses LLM to identify non-</text>
<text x="1465.0" y="1749.4" font-size="27.00" fill="#1b2c58" textLength="472.0" lengthAdjust="spacingAndGlyphs" stroke="#1b2c58" stroke-width="0.32">numerical <tspan font-style="italic">semantic advantages</tspan> for key</text>
<text x="1465.0" y="1784.0" font-size="27.00" fill="#1b2c58" textLength="466.0" lengthAdjust="spacingAndGlyphs" stroke="#1b2c58" stroke-width="0.32">states, reasoning over all <tspan font-family="'Liberation Serif', serif"><tspan font-style="italic">n</tspan></tspan> together to</text>
<text x="1465.0" y="1818.4" font-size="27.00" fill="#1b2c58" textLength="190.6" lengthAdjust="spacingAndGlyphs" stroke="#1b2c58" stroke-width="0.32">produce <tspan font-family="'Liberation Serif', serif"><tspan style="font-size:1.12em"><tspan font-style="italic">W<tspan style="font-size:.7em" baseline-shift="-0.22em">local</tspan></tspan></tspan></tspan>.</text>
<text x="1465.0" y="1853.0" font-size="27.00" fill="#1b2c58" textLength="465.5" lengthAdjust="spacingAndGlyphs" stroke="#1b2c58" stroke-width="0.32">Each subsequent exploration rollout is</text>
<circle cx="1430.0" cy="1843.0" r="3.6" fill="#1b2c58" />
<text x="1465.0" y="1888.0" font-size="27.00" fill="#1b2c58" textLength="236.6" lengthAdjust="spacingAndGlyphs" stroke="#1b2c58" stroke-width="0.32">informed by <tspan font-family="'Liberation Serif', serif"><tspan style="font-size:1.12em"><tspan font-style="italic">W<tspan style="font-size:.7em" baseline-shift="-0.22em">local</tspan></tspan></tspan></tspan>.</text>
<line x1="2044.8" y1="1019.2" x2="2574.0" y2="1019.2" stroke="#111" stroke-width="2.2" />
<text x="2044.8" y="1046.4" font-size="29.30" fill="#000000" font-family="'Liberation Serif', serif" textLength="508.4" lengthAdjust="spacingAndGlyphs" stroke-width="0"><tspan font-weight="bold">Algorithm 2</tspan> Value-aligned State Selection</text>
<line x1="2044.8" y1="1058.7" x2="2574.0" y2="1058.7" stroke="#333" stroke-width="1.2" />
<line x1="2044.8" y1="1369.9" x2="2574.0" y2="1369.9" stroke="#333" stroke-width="1.4" />
<text x="2044.8" y="1089.6" font-size="26.30" fill="#000000" font-family="'Liberation Serif', serif" textLength="405.5" lengthAdjust="spacingAndGlyphs" stroke-width="0"><tspan font-weight="bold">Require:</tspan>  Frontier <tspan font-family="'DejaVu Math TeX Gyre', 'DejaVu Serif', serif" font-style="normal" font-weight="normal">ℱ</tspan>, State archive <tspan font-family="'DejaVu Math TeX Gyre', 'DejaVu Serif', serif" font-style="normal" font-weight="normal">𝒜</tspan></text>
<text x="2044.8" y="1119.9" font-size="26.30" fill="#000000" font-family="'Liberation Serif', serif" textLength="312.2" lengthAdjust="spacingAndGlyphs" stroke-width="0"><tspan font-weight="bold">Ensure:</tspan>  Selected state <tspan font-style="italic">s<tspan style="font-size:.7em" baseline-shift="-0.22em">next</tspan></tspan></text>
<text x="2076.0" y="1149.9" font-size="26.30" fill="#000000" font-family="'Liberation Serif', serif" text-anchor="end" stroke-width="0">1:</text>
<text x="2091.0" y="1149.9" font-size="26.30" fill="#000000" font-family="'Liberation Serif', serif" textLength="308.3" lengthAdjust="spacingAndGlyphs" stroke-width="0"><tspan font-style="italic">W<tspan style="font-size:.7em" baseline-shift="-0.22em">global</tspan></tspan> <tspan font-family="'DejaVu Sans', sans-serif" font-style="normal"><tspan style="font-size:.8em">←</tspan></tspan> <tspan font-style="italic">g<tspan style="font-size:.7em" baseline-shift="-0.22em">LLM</tspan></tspan>(<tspan font-family="'DejaVu Math TeX Gyre', 'DejaVu Serif', serif" font-style="normal" font-weight="normal">ℱ</tspan>) where</text>
<text x="2091.0" y="1179.3" font-size="26.30" fill="#000000" font-family="'Liberation Serif', serif" textLength="453.5" lengthAdjust="spacingAndGlyphs" stroke-width="0"><tspan font-style="italic">W<tspan style="font-size:.7em" baseline-shift="-0.22em">global</tspan></tspan> = {(<tspan font-style="italic">s</tspan><tspan style="font-size:.7em" baseline-shift="-0.22em">1</tspan>, <tspan font-style="italic">v</tspan><tspan style="font-size:.7em" baseline-shift="-0.22em">1</tspan>, <tspan font-style="italic">v</tspan>′<tspan style="font-size:.7em" baseline-shift="-0.22em">1</tspan>), . . . , (<tspan font-style="italic">s<tspan style="font-size:.7em" baseline-shift="-0.22em">k</tspan></tspan>, <tspan font-style="italic">v<tspan style="font-size:.7em" baseline-shift="-0.22em">k</tspan></tspan>, <tspan font-style="italic">v</tspan>′<tspan font-style="italic"><tspan style="font-size:.7em" baseline-shift="-0.22em">k</tspan></tspan>)}</text>
<text x="2124.3" y="1208.6" font-size="26.30" fill="#000000" font-family="'Liberation Serif', serif" textLength="274.4" lengthAdjust="spacingAndGlyphs" stroke-width="0"><tspan font-style="italic">v<tspan style="font-size:.7em" baseline-shift="-0.22em">i</tspan></tspan>: achieved, <tspan font-style="italic">v</tspan>′<tspan font-style="italic"><tspan style="font-size:.7em" baseline-shift="-0.22em">i</tspan></tspan>: potential</text>
<text x="2076.0" y="1238.0" font-size="26.30" fill="#000000" font-family="'Liberation Serif', serif" text-anchor="end" stroke-width="0">2:</text>
<text x="2091.0" y="1238.0" font-size="26.30" fill="#000000" font-family="'Liberation Serif', serif" textLength="251.7" lengthAdjust="spacingAndGlyphs" stroke-width="0"><tspan font-weight="bold">for</tspan> each state <tspan font-style="italic">s</tspan> ∈ <tspan font-family="'DejaVu Math TeX Gyre', 'DejaVu Serif', serif" font-style="normal" font-weight="normal">𝒜</tspan> <tspan font-weight="bold">do</tspan></text>
<text x="2076.0" y="1267.4" font-size="26.30" fill="#000000" font-family="'Liberation Serif', serif" text-anchor="end" stroke-width="0">3:</text>
<text x="2131.4" y="1267.4" font-size="26.30" fill="#000000" font-family="'Liberation Serif', serif" textLength="379.1" lengthAdjust="spacingAndGlyphs" stroke-width="0"><tspan font-style="italic">score</tspan>[<tspan font-style="italic">s</tspan>] <tspan font-family="'DejaVu Sans', sans-serif" font-style="normal"><tspan style="font-size:.8em">←</tspan></tspan> <tspan font-style="italic">align<tspan style="font-size:.7em" baseline-shift="-0.22em">LLM</tspan></tspan>(<tspan font-style="italic">s</tspan>, <tspan font-style="italic">W<tspan style="font-size:.7em" baseline-shift="-0.22em">global</tspan></tspan>)</text>
<text x="2076.0" y="1296.8" font-size="26.30" fill="#000000" font-family="'Liberation Serif', serif" text-anchor="end" stroke-width="0">4:</text>
<text x="2091.0" y="1296.8" font-size="26.30" fill="#000000" font-family="'Liberation Serif', serif" textLength="79.6" lengthAdjust="spacingAndGlyphs" stroke-width="0"><tspan font-weight="bold">end for</tspan></text>
<text x="2076.0" y="1326.6" font-size="26.30" fill="#000000" font-family="'Liberation Serif', serif" text-anchor="end" stroke-width="0">5:</text>
<text x="2091.0" y="1326.6" font-size="26.30" fill="#000000" font-family="'Liberation Serif', serif" textLength="333.0" lengthAdjust="spacingAndGlyphs" stroke-width="0"><tspan font-style="italic">s<tspan style="font-size:.7em" baseline-shift="-0.22em">next</tspan></tspan> <tspan font-family="'DejaVu Sans', sans-serif" font-style="normal"><tspan style="font-size:.8em">←</tspan></tspan> arg max<tspan style="font-size:.7em" baseline-shift="-0.22em"><tspan font-style="italic">s</tspan>∈<tspan font-family="'DejaVu Math TeX Gyre', 'DejaVu Serif', serif" font-style="normal" font-weight="normal">𝒜</tspan></tspan> <tspan font-style="italic">score</tspan>[<tspan font-style="italic">s</tspan>]</text>
<text x="2076.0" y="1356.0" font-size="26.30" fill="#000000" font-family="'Liberation Serif', serif" text-anchor="end" stroke-width="0">6:</text>
<text x="2091.0" y="1356.0" font-size="26.30" fill="#000000" font-family="'Liberation Serif', serif" textLength="135.2" lengthAdjust="spacingAndGlyphs" stroke-width="0"><tspan font-weight="bold">return</tspan> <tspan font-style="italic">s<tspan style="font-size:.7em" baseline-shift="-0.22em">next</tspan></tspan></text>
<line x1="2048.5" y1="1482.5" x2="2573.7" y2="1482.5" stroke="#111" stroke-width="2.2" />
<text x="2048.5" y="1509.2" font-size="29.30" fill="#000000" font-family="'Liberation Serif', serif" textLength="431.5" lengthAdjust="spacingAndGlyphs" stroke-width="0"><tspan font-weight="bold">Algorithm 3</tspan> Exploration with MAR</text>
<line x1="2048.5" y1="1523.1" x2="2573.7" y2="1523.1" stroke="#333" stroke-width="1.2" />
<line x1="2048.5" y1="1893.2" x2="2573.7" y2="1893.2" stroke="#333" stroke-width="1.4" />
<text x="2048.5" y="1553.4" font-size="26.30" fill="#000000" font-family="'Liberation Serif', serif" textLength="525.2" lengthAdjust="spacingAndGlyphs" stroke-width="0"><tspan font-weight="bold">Require:</tspan>  Selected  state  <tspan font-style="italic">s<tspan style="font-size:.7em" baseline-shift="-0.22em">next</tspan></tspan>,  Frontier  <tspan font-family="'DejaVu Math TeX Gyre', 'DejaVu Serif', serif" font-style="normal" font-weight="normal">ℱ</tspan>,  Ex-</text>
<text x="2093.5" y="1582.3" font-size="26.30" fill="#000000" font-family="'Liberation Serif', serif" textLength="182.5" lengthAdjust="spacingAndGlyphs" stroke-width="0">ploration count <tspan font-style="italic">n</tspan></text>
<text x="2048.5" y="1612.2" font-size="26.30" fill="#000000" font-family="'Liberation Serif', serif" textLength="278.1" lengthAdjust="spacingAndGlyphs" stroke-width="0"><tspan font-weight="bold">Ensure:</tspan>  Trajectory set <tspan font-family="'DejaVu Math TeX Gyre', 'DejaVu Serif', serif" font-style="normal" font-weight="normal">𝒯</tspan><tspan dx="-4.5"><tspan font-style="italic"><tspan style="font-size:.7em" baseline-shift="-0.22em">s</tspan></tspan></tspan></text>
<text x="2079.5" y="1641.8" font-size="26.30" fill="#000000" font-family="'Liberation Serif', serif" text-anchor="end" stroke-width="0">1:</text>
<text x="2094.2" y="1641.8" font-size="26.30" fill="#000000" font-family="'Liberation Serif', serif" textLength="81.3" lengthAdjust="spacingAndGlyphs" stroke-width="0"><tspan font-family="'DejaVu Math TeX Gyre', 'DejaVu Serif', serif" font-style="normal" font-weight="normal">𝒯</tspan><tspan dx="-4.5"><tspan font-style="italic"><tspan style="font-size:.7em" baseline-shift="-0.22em">s</tspan></tspan></tspan> <tspan font-family="'DejaVu Sans', sans-serif" font-style="normal"><tspan style="font-size:.8em">←</tspan></tspan> ∅</text>
<text x="2079.5" y="1671.1" font-size="26.30" fill="#000000" font-family="'Liberation Serif', serif" text-anchor="end" stroke-width="0">2:</text>
<text x="2094.2" y="1671.1" font-size="26.30" fill="#000000" font-family="'Liberation Serif', serif" textLength="128.3" lengthAdjust="spacingAndGlyphs" stroke-width="0"><tspan font-style="italic">W<tspan style="font-size:.7em" baseline-shift="-0.22em">local</tspan></tspan> <tspan font-family="'DejaVu Sans', sans-serif" font-style="normal"><tspan style="font-size:.8em">←</tspan></tspan> ∅</text>
<text x="2079.5" y="1700.6" font-size="26.30" fill="#000000" font-family="'Liberation Serif', serif" text-anchor="end" stroke-width="0">3:</text>
<text x="2094.2" y="1700.6" font-size="26.30" fill="#000000" font-family="'Liberation Serif', serif" textLength="181.8" lengthAdjust="spacingAndGlyphs" stroke-width="0"><tspan font-weight="bold">for</tspan> <tspan font-style="italic">i</tspan> = 1 to <tspan font-style="italic">n</tspan> <tspan font-weight="bold">do</tspan></text>
<text x="2079.5" y="1729.9" font-size="26.30" fill="#000000" font-family="'Liberation Serif', serif" text-anchor="end" stroke-width="0">4:</text>
<text x="2133.4" y="1729.9" font-size="26.30" fill="#000000" font-family="'Liberation Serif', serif" textLength="390.4" lengthAdjust="spacingAndGlyphs" stroke-width="0"><tspan font-style="italic">τ<tspan style="font-size:.7em" baseline-shift="-0.22em">i</tspan></tspan> <tspan font-family="'DejaVu Sans', sans-serif" font-style="normal"><tspan style="font-size:.8em">←</tspan></tspan> <tspan font-style="italic">π<tspan style="font-size:.7em" baseline-shift="-0.22em">explore</tspan></tspan>(<tspan font-style="italic">s<tspan style="font-size:.7em" baseline-shift="-0.22em">next</tspan></tspan>, <tspan font-style="italic">W<tspan style="font-size:.7em" baseline-shift="-0.22em">local</tspan></tspan>, <tspan font-family="'DejaVu Math TeX Gyre', 'DejaVu Serif', serif" font-style="normal" font-weight="normal">𝒯</tspan><tspan dx="-4.5"><tspan font-style="italic"><tspan style="font-size:.7em" baseline-shift="-0.22em">s</tspan></tspan></tspan>, <tspan font-family="'DejaVu Math TeX Gyre', 'DejaVu Serif', serif" font-style="normal" font-weight="normal">ℱ</tspan>)</text>
<text x="2079.5" y="1758.8" font-size="26.30" fill="#000000" font-family="'Liberation Serif', serif" text-anchor="end" stroke-width="0">5:</text>
<text x="2133.4" y="1758.8" font-size="26.30" fill="#000000" font-family="'Liberation Serif', serif" textLength="171.1" lengthAdjust="spacingAndGlyphs" stroke-width="0"><tspan font-family="'DejaVu Math TeX Gyre', 'DejaVu Serif', serif" font-style="normal" font-weight="normal">𝒯</tspan><tspan dx="-4.5"><tspan font-style="italic"><tspan style="font-size:.7em" baseline-shift="-0.22em">s</tspan></tspan></tspan> <tspan font-family="'DejaVu Sans', sans-serif" font-style="normal"><tspan style="font-size:.8em">←</tspan></tspan> <tspan font-family="'DejaVu Math TeX Gyre', 'DejaVu Serif', serif" font-style="normal" font-weight="normal">𝒯</tspan><tspan dx="-4.5"><tspan font-style="italic"><tspan style="font-size:.7em" baseline-shift="-0.22em">s</tspan></tspan></tspan> ∪ {<tspan font-style="italic">τ<tspan style="font-size:.7em" baseline-shift="-0.22em">i</tspan></tspan>}</text>
<text x="2079.5" y="1787.5" font-size="26.30" fill="#000000" font-family="'Liberation Serif', serif" text-anchor="end" stroke-width="0">6:</text>
<text x="2133.4" y="1787.5" font-size="26.30" fill="#000000" font-family="'Liberation Serif', serif" textLength="265.6" lengthAdjust="spacingAndGlyphs" stroke-width="0"><tspan font-style="italic">W<tspan style="font-size:.7em" baseline-shift="-0.22em">local</tspan></tspan> <tspan font-family="'DejaVu Sans', sans-serif" font-style="normal"><tspan style="font-size:.8em">←</tspan></tspan> <tspan font-style="italic">MAR</tspan>(<tspan font-family="'DejaVu Math TeX Gyre', 'DejaVu Serif', serif" font-style="normal" font-weight="normal">𝒯</tspan><tspan dx="-4.5"><tspan font-style="italic"><tspan style="font-size:.7em" baseline-shift="-0.22em">s</tspan></tspan></tspan>, <tspan font-family="'DejaVu Math TeX Gyre', 'DejaVu Serif', serif" font-style="normal" font-weight="normal">ℱ</tspan>)</text>
<text x="2094.2" y="1817.6" font-size="26.30" fill="#000000" font-family="'Liberation Serif', serif" textLength="459.8" lengthAdjust="spacingAndGlyphs" stroke-width="0">where <tspan font-style="italic">W<tspan style="font-size:.7em" baseline-shift="-0.22em">local</tspan></tspan> = {(<tspan font-style="italic">s</tspan><tspan style="font-size:.7em" baseline-shift="0.5em">∗</tspan><tspan dx="-8"><tspan style="font-size:.7em" baseline-shift="-0.22em">1</tspan></tspan>, <tspan font-style="italic">A<tspan style="font-size:.7em" baseline-shift="-0.22em">s</tspan></tspan><tspan style="font-size:.55em" baseline-shift="-0.5em">∗</tspan>), ..., (<tspan font-style="italic">s</tspan><tspan style="font-size:.7em" baseline-shift="0.5em">∗</tspan><tspan dx="-8"><tspan style="font-size:.7em" baseline-shift="-0.22em"><tspan font-style="italic">k</tspan></tspan></tspan>, <tspan font-style="italic">A<tspan style="font-size:.7em" baseline-shift="-0.22em">s</tspan></tspan><tspan style="font-size:.55em" baseline-shift="-0.5em">∗</tspan>)}</text>
<text x="2079.5" y="1847.9" font-size="26.30" fill="#000000" font-family="'Liberation Serif', serif" text-anchor="end" stroke-width="0">7:</text>
<text x="2094.2" y="1847.9" font-size="26.30" fill="#000000" font-family="'Liberation Serif', serif" textLength="79.5" lengthAdjust="spacingAndGlyphs" stroke-width="0"><tspan font-weight="bold">end for</tspan></text>
<text x="2079.5" y="1877.8" font-size="26.30" fill="#000000" font-family="'Liberation Serif', serif" text-anchor="end" stroke-width="0">8:</text>
<text x="2094.2" y="1877.8" font-size="26.30" fill="#000000" font-family="'Liberation Serif', serif" textLength="102.6" lengthAdjust="spacingAndGlyphs" stroke-width="0"><tspan font-weight="bold">return</tspan> <tspan font-family="'DejaVu Math TeX Gyre', 'DejaVu Serif', serif" font-style="normal" font-weight="normal">𝒯</tspan><tspan dx="-4.5"><tspan font-style="italic"><tspan style="font-size:.7em" baseline-shift="-0.22em">s</tspan></tspan></tspan></text>
<defs><marker id="ak" viewBox="0 0 10 10" refX="9" refY="5" markerWidth="7" markerHeight="7" orient="auto-start-reverse"><path d="M0,1 L10,5 L0,9 z" fill="#222"/></marker><marker id="ag" viewBox="0 0 10 10" refX="9" refY="5" markerWidth="8" markerHeight="8" orient="auto-start-reverse"><path d="M0,1 L10,5 L0,9 z" fill="#555"/></marker><marker id="ao" viewBox="0 0 10 10" refX="8" refY="5" markerWidth="5" markerHeight="5" orient="auto-start-reverse"><path d="M0,0.5 L10,5 L0,9.5 z" fill="#ff9900"/></marker><marker id="ay" viewBox="0 0 10 10" refX="8" refY="5" markerWidth="5" markerHeight="5" orient="auto-start-reverse"><path d="M0,0.5 L10,5 L0,9.5 z" fill="#f1c232"/></marker><marker id="ap" viewBox="0 0 10 10" refX="9" refY="5" markerWidth="5.5" markerHeight="5.5" orient="auto-start-reverse"><path d="M0,1 L10,5 L0,9 z" fill="#351c75"/></marker></defs>
<text x="1521.5" y="398.3" font-size="23.30" fill="#000000" textLength="407.9" lengthAdjust="spacingAndGlyphs" stroke="#000000" stroke-width="0.28"><tspan font-weight="bold"><tspan font-style="italic">Go-</tspan></tspan>phase with Global World Memory</text>
<text x="2068.7" y="398.3" font-size="23.30" fill="#000000" textLength="452.4" lengthAdjust="spacingAndGlyphs" stroke="#000000" stroke-width="0.28"><tspan font-weight="bold"><tspan font-style="italic">Explore-</tspan></tspan>phase with Local World Memory</text>
<line x1="1982.0" y1="372.0" x2="1982.0" y2="972.0" stroke="#777" stroke-width="1.2" stroke-dasharray="1.5 3"/>
<line x1="1992.6" y1="372.0" x2="1992.6" y2="972.0" stroke="#777" stroke-width="1.2" stroke-dasharray="1.5 3"/>
<rect x="1479.6" y="434.0" width="306.3" height="305.0" fill="#fde5cd" stroke="#ff9900" stroke-width="2" rx="46" />
<text x="1545.8" y="465.5" font-size="18.50" fill="#ff9900" textLength="180.8" lengthAdjust="spacingAndGlyphs" stroke-width="0"><tspan font-weight="bold"><tspan font-style="italic">Value Decomposition</tspan></tspan></text>
<rect x="1585.6" y="476.2" width="175.0" height="189.3" fill="#f9cb9c" stroke="#ff9900" stroke-width="2" />
<rect x="1506.7" y="544.3" width="48.6" height="74.8" fill="#f9cb9c" stroke="#ff9900" stroke-width="2" />
<rect x="1585.6" y="680.0" width="175.0" height="49.5" fill="#f9cb9c" stroke="#ff9900" stroke-width="2" />
<text x="1646.0" y="500.5" font-size="20.00" fill="#000000" font-family="'Liberation Serif', serif" stroke-width="0"><tspan font-weight="bold"><tspan font-style="italic">W</tspan></tspan></text>
<text x="1665.0" y="507.5" font-size="11.50" fill="#000000" font-family="'Liberation Serif', serif" textLength="33.0" lengthAdjust="spacingAndGlyphs" stroke-width="0"><tspan font-weight="bold"><tspan font-style="italic">global</tspan></tspan></text>
<text x="1591.0" y="519.3" font-size="15.50" fill="#000000" font-family="'Liberation Serif', serif" textLength="86.7" lengthAdjust="spacingAndGlyphs" stroke-width="0"><tspan font-weight="bold">State: Cellar</tspan></text>
<line x1="1591.0" y1="521.6" x2="1677.7" y2="521.6" stroke="#000000" stroke-width="1.1" />
<text x="1591.0" y="537.8" font-size="15.50" fill="#000000" font-family="'Liberation Serif', serif" textLength="144.4" lengthAdjust="spacingAndGlyphs" stroke-width="0"><tspan font-weight="bold">V</tspan><tspan dx="7"><tspan font-weight="bold">:</tspan></tspan><tspan font-style="italic"> Entering the cellar</tspan></text>
<text x="1602.5" y="543.5" font-size="8.50" fill="#000000" font-family="'Liberation Serif', serif" stroke-width="0"><tspan font-weight="bold">a</tspan></text>
<text x="1591.0" y="556.2" font-size="15.50" fill="#000000" font-family="'Liberation Serif', serif" textLength="145.0" lengthAdjust="spacingAndGlyphs" stroke-width="0"><tspan font-style="italic">yields +25 reward, but</tspan></text>
<text x="1591.0" y="575.0" font-size="15.50" fill="#000000" font-family="'Liberation Serif', serif" textLength="160.0" lengthAdjust="spacingAndGlyphs" stroke-width="0"><tspan font-style="italic">leads to death by troll …</tspan></text>
<text x="1591.0" y="594.0" font-size="15.50" fill="#000000" font-family="'Liberation Serif', serif" textLength="130.8" lengthAdjust="spacingAndGlyphs" stroke-width="0"><tspan font-weight="bold">V</tspan><tspan dx="7"><tspan font-weight="bold">:</tspan></tspan><tspan font-style="italic"> To solve the troll</tspan></text>
<text x="1602.5" y="599.7" font-size="8.50" fill="#000000" font-family="'Liberation Serif', serif" stroke-width="0"><tspan font-weight="bold">p</tspan></text>
<text x="1591.0" y="612.9" font-size="15.50" fill="#000000" font-family="'Liberation Serif', serif" textLength="163.3" lengthAdjust="spacingAndGlyphs" stroke-width="0"><tspan font-style="italic">puzzle, a weapon is likely</tspan></text>
<text x="1591.0" y="631.8" font-size="15.50" fill="#000000" font-family="'Liberation Serif', serif" textLength="74.0" lengthAdjust="spacingAndGlyphs" stroke-width="0"><tspan font-style="italic">required …</tspan></text>
<text x="1513.5" y="584.5" font-size="22.00" fill="#000000" font-family="'Liberation Serif', serif" stroke-width="0"><tspan font-weight="bold"><tspan font-style="italic">g</tspan></tspan></text>
<text x="1524.5" y="590.5" font-size="10.50" fill="#000000" font-family="'Liberation Serif', serif" textLength="23.8" lengthAdjust="spacingAndGlyphs" stroke-width="0"><tspan font-weight="bold"><tspan font-style="italic">LLM</tspan></tspan></text>
<text x="1638.2" y="706.0" font-size="22.00" fill="#000000" font-family="'Liberation Serif', serif" textLength="46.8" lengthAdjust="spacingAndGlyphs" stroke-width="0"><tspan font-weight="bold"><tspan font-style="italic">align</tspan></tspan></text>
<text x="1685.5" y="713.0" font-size="10.50" fill="#000000" font-family="'Liberation Serif', serif" textLength="23.1" lengthAdjust="spacingAndGlyphs" stroke-width="0"><tspan font-weight="bold"><tspan font-style="italic">LLM</tspan></tspan></text>
<path d="M1638 710 q1.5 -2 3 0 t3 0 t3 0 t3 0 t3 0 t3 0 t3 0 t3 0 t3 0 t3 0 t3 0 t3 0 t3 0 t3 0 t3 0 t3 0 t3 0 t3 0 t3 0 t3 0 t3 0 t3 0" fill="none" stroke="#e06666" stroke-width="0.8" />
<line x1="1555.3" y1="581.2" x2="1584.0" y2="572.2" stroke="#222" stroke-width="1.4" marker-end="url(#ak)"/>
<line x1="1673.6" y1="665.5" x2="1673.6" y2="679.0" stroke="#222" stroke-width="1.4" marker-end="url(#ak)"/>
<rect x="1799.1" y="434.0" width="174.8" height="305.0" fill="#eeeeee" stroke="#000000" stroke-width="2.2" rx="30" />
<text x="1829.1" y="465.5" font-size="18.50" fill="#000000" textLength="113.5" lengthAdjust="spacingAndGlyphs" stroke-width="0"><tspan font-weight="bold"><tspan font-style="italic">State Archive</tspan></tspan></text>
<rect x="1812.4" y="506.5" width="150.0" height="37.5" fill="#fff" stroke="#666" stroke-width="1.2" />
<text x="1887.2" y="521.3" font-size="13.60" fill="#000000" text-anchor="middle" stroke-width="0"><tspan font-weight="bold">State 14</tspan></text>
<text x="1887.2" y="540.1" font-size="13.60" fill="#000000" text-anchor="middle" stroke-width="0">Score: 35</text>
<rect x="1812.4" y="548.8" width="150.0" height="36.5" fill="#fff" stroke="#666" stroke-width="1.2" />
<text x="1887.2" y="563.6" font-size="13.60" fill="#000000" text-anchor="middle" stroke-width="0"><tspan font-weight="bold">State 13</tspan></text>
<text x="1887.2" y="582.4" font-size="13.60" fill="#000000" text-anchor="middle" stroke-width="0">Score: 25</text>
<rect x="1812.4" y="659.5" width="150.0" height="36.9" fill="#fff" stroke="#666" stroke-width="1.2" />
<text x="1887.2" y="674.3" font-size="13.60" fill="#000000" text-anchor="middle" stroke-width="0"><tspan font-weight="bold">State 6</tspan></text>
<text x="1887.2" y="693.1" font-size="13.60" fill="#000000" text-anchor="middle" stroke-width="0">Score: 5</text>
<rect x="1812.4" y="590.5" width="150.0" height="37.8" fill="#fff" stroke="#ff9900" stroke-width="3" />
<text x="1887.2" y="605.3" font-size="13.60" fill="#000000" text-anchor="middle" stroke-width="0"><tspan font-weight="bold">State 12</tspan></text>
<text x="1887.2" y="624.1" font-size="13.60" fill="#000000" text-anchor="middle" stroke-width="0">Score: 10</text>
<circle cx="1885.6" cy="634.0" r="1.9" fill="#000000" />
<circle cx="1885.6" cy="642.5" r="1.9" fill="#000000" />
<circle cx="1885.6" cy="651.0" r="1.9" fill="#000000" />
<circle cx="1885.6" cy="703.0" r="1.9" fill="#000000" />
<circle cx="1885.6" cy="711.5" r="1.9" fill="#000000" />
<circle cx="1885.6" cy="720.0" r="1.9" fill="#000000" />
<line x1="1760.6" y1="703.0" x2="1811.0" y2="527.0" stroke="#555" stroke-width="1.2" stroke-dasharray="5 3.5" marker-end="url(#ag)"/>
<line x1="1760.6" y1="703.0" x2="1811.0" y2="569.0" stroke="#555" stroke-width="1.2" stroke-dasharray="5 3.5" marker-end="url(#ag)"/>
<line x1="1760.6" y1="703.0" x2="1811.0" y2="678.0" stroke="#555" stroke-width="1.2" stroke-dasharray="5 3.5" marker-end="url(#ag)"/>
<line x1="1761.0" y1="702.0" x2="1809.5" y2="613.0" stroke="#ff9900" stroke-width="3" marker-end="url(#ao)"/>
<rect x="1480.4" y="757.0" width="494.7" height="210.5" fill="#eeeeee" stroke="#000000" stroke-width="2.2" rx="40" />
<text x="1638.4" y="786.0" font-size="18.50" fill="#000000" textLength="179.2" lengthAdjust="spacingAndGlyphs" stroke-width="0"><tspan font-weight="bold">Trajectory Frontier <tspan font-family="'Liberation Serif', serif"><tspan font-style="italic">F</tspan></tspan></tspan></text>
<text x="1870.9" y="781.3" font-size="17.00" fill="#f1b82d" textLength="82.7" lengthAdjust="spacingAndGlyphs" stroke-width="0"><tspan font-weight="bold"><tspan font-style="italic">Trajectory</tspan></tspan></text>
<text x="1870.9" y="803.0" font-size="17.00" fill="#f1b82d" textLength="48.1" lengthAdjust="spacingAndGlyphs" stroke-width="0"><tspan font-weight="bold"><tspan font-style="italic">added</tspan></tspan></text>
<rect x="1535.5" y="814.3" width="425.0" height="47.3" fill="#fff" stroke="#f1c232" stroke-width="3" />
<text x="1544.7" y="833.2" font-size="13.00" fill="#000000" textLength="406.6" lengthAdjust="spacingAndGlyphs" stroke-width="0"><tspan font-weight="bold">Trajectory <tspan font-style="italic">Rank 1</tspan> (<tspan text-decoration="underline">Max Score: 35</tspan>, Final Score: 25):</tspan> Enter Kitchen</text>
<text x="1551.6" y="851.6" font-size="13.00" fill="#000000" textLength="392.3" lengthAdjust="spacingAndGlyphs" stroke-width="0"><tspan font-family="'DejaVu Sans', sans-serif" font-style="normal">→</tspan> Open trapdoor (+5) <tspan font-family="'DejaVu Sans', sans-serif" font-style="normal">→</tspan> Throw garlic at troll <tspan font-family="'DejaVu Sans', sans-serif" font-style="normal">→</tspan> Death to troll</text>
<rect x="1535.5" y="875.1" width="425.0" height="47.8" fill="#fff" stroke="#000000" stroke-width="2.2" />
<text x="1542.0" y="893.8" font-size="13.00" fill="#000000" textLength="381.7" lengthAdjust="spacingAndGlyphs" stroke-width="0"><tspan font-weight="bold">Trajectory <tspan font-style="italic">Rank 2</tspan> (<tspan text-decoration="underline">Max Score: 10</tspan>, Final Score: 10 ):</tspan> North <tspan font-family="'DejaVu Sans', sans-serif" font-style="normal">→</tspan></text>
<text x="1542.0" y="913.2" font-size="13.00" fill="#000000" textLength="220.9" lengthAdjust="spacingAndGlyphs" stroke-width="0">east <tspan font-family="'DejaVu Sans', sans-serif" font-style="normal">→</tspan> enter window (+10) <tspan font-family="'DejaVu Sans', sans-serif" font-style="normal">→</tspan> east</text>
<circle cx="1735.4" cy="934.0" r="1.9" fill="#000000" />
<circle cx="1735.4" cy="942.5" r="1.9" fill="#000000" />
<circle cx="1735.4" cy="951.0" r="1.9" fill="#000000" />
<path d="M1535.5 837.8 H1495.3 V581.8" fill="none" stroke="#222" stroke-width="1.3" />
<path d="M1535.5 898.4 H1487.5 V581.8 H1505.5" fill="none" stroke="#222" stroke-width="1.3" marker-end="url(#ak)"/>
<rect x="2003.0" y="434.5" width="582.7" height="532.0" fill="#cfe2f3" stroke="#3d85c6" stroke-width="2" rx="88" />
<text x="2169.8" y="465.7" font-size="18.50" fill="#4a86e8" textLength="252.8" lengthAdjust="spacingAndGlyphs" stroke-width="0"><tspan font-weight="bold"><tspan font-style="italic">Advantage-driven Exploration</tspan></tspan></text>
<line x1="2277.5" y1="538.0" x2="2150.0" y2="610.5" stroke="#f1c232" stroke-width="3.2" stroke-linecap="round"/>
<line x1="2293.9" y1="544.0" x2="2293.9" y2="611.0" stroke="#b4a7d6" stroke-width="3.2" stroke-linecap="round"/>
<line x1="2141.3" y1="656.0" x2="2083.4" y2="731.0" stroke="#f1c232" stroke-width="3.2" stroke-linecap="round"/>
<line x1="2080.0" y1="778.0" x2="2079.5" y2="852.0" stroke="#f1c232" stroke-width="3.2" stroke-linecap="round"/>
<line x1="2293.9" y1="656.0" x2="2372.9" y2="731.0" stroke="#b4a7d6" stroke-width="3.2" stroke-linecap="round"/>
<line x1="2506.7" y1="777.8" x2="2384.4" y2="855.0" stroke="#b4a7d6" stroke-width="3.2" stroke-linecap="round"/>
<line x1="2310.5" y1="538.5" x2="2440.0" y2="611.0" stroke="#351c75" stroke-width="3.2" stroke-linecap="round"/>
<line x1="2293.9" y1="656.0" x2="2219.0" y2="731.0" stroke="#351c75" stroke-width="3.2" stroke-linecap="round"/>
<line x1="2442.3" y1="658.3" x2="2503.9" y2="730.0" stroke="#351c75" stroke-width="3.2" stroke-linecap="round"/>
<line x1="2508.5" y1="777.8" x2="2543.0" y2="855.0" stroke="#351c75" stroke-width="3.2" stroke-linecap="round"/>
<path d="M1962.5 609.5 C2080 612 2120 560 2190 536 C2225 524 2245 522 2268 521.8" fill="none" stroke="#ff9900" stroke-width="3" marker-end="url(#ao)"/>
<path d="M2056 746 C2032 748 2014 768 1996 786 Q1981 799 1965.5 803" fill="none" stroke="#f1c232" stroke-width="3" stroke-dasharray="10 7" marker-end="url(#ay)"/>
<line x1="2245.0" y1="756.2" x2="2347.0" y2="756.2" stroke="#351c75" stroke-width="2.2" stroke-dasharray="11 6" marker-start="url(#ap)" marker-end="url(#ap)"/>
<line x1="2401.0" y1="879.3" x2="2516.0" y2="879.3" stroke="#351c75" stroke-width="2.2" stroke-dasharray="11 6" marker-start="url(#ap)" marker-end="url(#ap)"/>
<circle cx="2293.9" cy="521.8" r="23.7" fill="#efefef" stroke="#b4a7d6" stroke-width="3.2" />
<text x="2293.9" y="518.4" font-size="14.00" fill="#000000" text-anchor="middle" stroke-width="0"><tspan font-weight="bold">R:</tspan></text>
<text x="2293.9" y="535.6" font-size="14.00" fill="#000000" text-anchor="middle" stroke-width="0"><tspan font-weight="bold">10</tspan></text>
<circle cx="2141.3" cy="633.5" r="23.7" fill="#efefef" stroke="#f1c232" stroke-width="3.2" />
<text x="2141.3" y="630.1" font-size="14.00" fill="#000000" text-anchor="middle" stroke-width="0"><tspan font-weight="bold">R:</tspan></text>
<text x="2141.3" y="647.3" font-size="14.00" fill="#6aa84f" text-anchor="middle" stroke-width="0"><tspan font-weight="bold">25</tspan></text>
<circle cx="2293.9" cy="633.5" r="23.7" fill="#efefef" stroke="#b4a7d6" stroke-width="3.2" />
<text x="2293.9" y="630.1" font-size="14.00" fill="#000000" text-anchor="middle" stroke-width="0"><tspan font-weight="bold">R:</tspan></text>
<text x="2293.9" y="647.3" font-size="14.00" fill="#000000" text-anchor="middle" stroke-width="0"><tspan font-weight="bold">0</tspan></text>
<circle cx="2442.3" cy="634.4" r="23.7" fill="#efefef" stroke="#351c75" stroke-width="3.2" />
<text x="2442.3" y="631.0" font-size="14.00" fill="#000000" text-anchor="middle" stroke-width="0"><tspan font-weight="bold">R:</tspan></text>
<text x="2442.3" y="648.2" font-size="14.00" fill="#000000" text-anchor="middle" stroke-width="0"><tspan font-weight="bold">0</tspan></text>
<circle cx="2080.2" cy="755.2" r="23.7" fill="#efefef" stroke="#f1c232" stroke-width="3.2" />
<text x="2080.2" y="751.8" font-size="14.00" fill="#000000" text-anchor="middle" stroke-width="0"><tspan font-weight="bold">R:</tspan></text>
<text x="2080.2" y="769.0" font-size="14.00" fill="#000000" text-anchor="middle" stroke-width="0"><tspan font-weight="bold">0</tspan></text>
<circle cx="2217.1" cy="756.2" r="23.7" fill="#efefef" stroke="#351c75" stroke-width="3.2" />
<text x="2217.1" y="752.8" font-size="14.00" fill="#000000" text-anchor="middle" stroke-width="0"><tspan font-weight="bold">R:</tspan></text>
<text x="2217.1" y="770.0" font-size="14.00" fill="#000000" text-anchor="middle" stroke-width="0"><tspan font-weight="bold">0</tspan></text>
<circle cx="2373.8" cy="756.2" r="23.7" fill="#efefef" stroke="#b4a7d6" stroke-width="3.2" />
<text x="2373.8" y="752.8" font-size="14.00" fill="#000000" text-anchor="middle" stroke-width="0"><tspan font-weight="bold">R:</tspan></text>
<text x="2373.8" y="770.0" font-size="14.00" fill="#000000" text-anchor="middle" stroke-width="0"><tspan font-weight="bold">0</tspan></text>
<circle cx="2506.7" cy="753.9" r="23.7" fill="#efefef" stroke="#351c75" stroke-width="3.2" />
<text x="2506.7" y="750.5" font-size="14.00" fill="#000000" text-anchor="middle" stroke-width="0"><tspan font-weight="bold">R:</tspan></text>
<text x="2506.7" y="767.7" font-size="14.00" fill="#6aa84f" text-anchor="middle" stroke-width="0"><tspan font-weight="bold">25</tspan></text>
<circle cx="2079.3" cy="874.3" r="23.7" fill="#efefef" stroke="#f1c232" stroke-width="3.2" />
<text x="2079.3" y="870.9" font-size="14.00" fill="#000000" text-anchor="middle" stroke-width="0"><tspan font-weight="bold">R:</tspan></text>
<text x="2079.3" y="888.1" font-size="14.00" fill="#000000" text-anchor="middle" stroke-width="0"><tspan font-weight="bold">-10</tspan></text>
<circle cx="2373.8" cy="879.3" r="23.7" fill="#efefef" stroke="#b4a7d6" stroke-width="3.2" />
<text x="2373.8" y="875.9" font-size="14.00" fill="#000000" text-anchor="middle" stroke-width="0"><tspan font-weight="bold">R:</tspan></text>
<text x="2373.8" y="893.1" font-size="14.00" fill="#000000" text-anchor="middle" stroke-width="0"><tspan font-weight="bold">-10</tspan></text>
<circle cx="2543.0" cy="879.3" r="23.7" fill="#efefef" stroke="#351c75" stroke-width="3.2" />
<text x="2543.0" y="875.9" font-size="14.00" fill="#000000" text-anchor="middle" stroke-width="0"><tspan font-weight="bold">R:</tspan></text>
<text x="2543.0" y="893.1" font-size="14.00" fill="#000000" text-anchor="middle" stroke-width="0"><tspan font-weight="bold">0</tspan></text>
<text x="2329.3" y="510.3" font-size="13.20" fill="#222" textLength="71.7" lengthAdjust="spacingAndGlyphs" stroke-width="0">Entered the</text>
<text x="2329.3" y="527.4" font-size="13.20" fill="#222" textLength="45.2" lengthAdjust="spacingAndGlyphs" stroke-width="0">kitchen</text>
<text x="2061.3" y="602.3" font-size="13.20" fill="#222" textLength="89.2" lengthAdjust="spacingAndGlyphs" stroke-width="0">Open trapdoor</text>
<text x="2460.2" y="617.0" font-size="13.20" fill="#000000" textLength="29.8" lengthAdjust="spacingAndGlyphs" stroke-width="0"><tspan font-weight="bold">Take</tspan></text>
<line x1="2495.0" y1="618.0" x2="2512.0" y2="602.0" stroke="#555" stroke-width="1.6" />
<line x1="2505.0" y1="603.5" x2="2511.5" y2="610.0" stroke="#555" stroke-width="1.4" />
<text x="2025.0" y="702.4" font-size="13.20" fill="#222" textLength="77.5" lengthAdjust="spacingAndGlyphs" stroke-width="0">Throw garlic</text>
<text x="2025.0" y="728.6" font-size="13.20" fill="#222" stroke-width="0">at</text>
<text x="2170.7" y="723.0" font-size="13.20" fill="#000000" textLength="29.3" lengthAdjust="spacingAndGlyphs" stroke-width="0"><tspan font-weight="bold">Take</tspan></text>
<line x1="2205.0" y1="724.0" x2="2223.0" y2="707.0" stroke="#555" stroke-width="1.6" />
<line x1="2215.0" y1="708.5" x2="2221.5" y2="715.0" stroke="#555" stroke-width="1.4" />
<text x="2269.5" y="708.0" font-size="14.00" fill="#3c2a86" stroke-width="0"><tspan font-weight="bold">Identify</tspan></text>
<text x="2442.8" y="831.2" font-size="14.00" fill="#3c2a86" stroke-width="0"><tspan font-weight="bold">Identify</tspan></text>
<text x="2269.5" y="726.5" font-size="14.00" fill="#3c2a86" stroke-width="0"><tspan font-weight="bold">Advantage</tspan></text>
<text x="2442.8" y="850.0" font-size="14.00" fill="#3c2a86" stroke-width="0"><tspan font-weight="bold">Advantage</tspan></text>
<text x="2269.5" y="745.0" font-size="14.00" fill="#3c2a86" stroke-width="0"><tspan font-weight="bold">(MAR)</tspan></text>
<text x="2442.8" y="868.8" font-size="14.00" fill="#3c2a86" stroke-width="0"><tspan font-weight="bold">(MAR)</tspan></text>
<text x="2369.7" y="721.8" font-size="13.20" fill="#222" textLength="68.8" lengthAdjust="spacingAndGlyphs" stroke-width="0">Take bottle</text>
<text x="2507.6" y="706.6" font-size="13.20" fill="#000000" textLength="32.4" lengthAdjust="spacingAndGlyphs" stroke-width="0"><tspan font-weight="bold">Open</tspan></text>
<text x="2507.6" y="723.2" font-size="13.20" fill="#000000" textLength="54.4" lengthAdjust="spacingAndGlyphs" stroke-width="0"><tspan font-weight="bold">trapdoor</tspan></text>
<text x="2530.6" y="790.8" font-size="13.20" fill="#000000" textLength="47.4" lengthAdjust="spacingAndGlyphs" stroke-width="0"><tspan font-weight="bold">Hit troll</tspan></text>
<text x="2530.6" y="807.8" font-size="13.20" fill="#000000" textLength="26.4" lengthAdjust="spacingAndGlyphs" stroke-width="0"><tspan font-weight="bold">with</tspan></text>
<text x="2530.6" y="825.0" font-size="13.20" fill="#000000" textLength="38.4" lengthAdjust="spacingAndGlyphs" stroke-width="0"><tspan font-weight="bold">sword</tspan></text>
<text x="2287.9" y="816.0" font-size="13.20" fill="#222" textLength="97.6" lengthAdjust="spacingAndGlyphs" stroke-width="0">Throw sword at</text>
<text x="2287.9" y="833.5" font-size="13.20" fill="#222" textLength="24.1" lengthAdjust="spacingAndGlyphs" stroke-width="0">troll</text>
<text x="2044.3" y="911.0" font-size="13.20" fill="#e8262a" textLength="56.7" lengthAdjust="spacingAndGlyphs" stroke-width="0">You died!</text>
<text x="2104.0" y="912.5" font-size="19.00" fill="#666" font-family="'DejaVu Sans', sans-serif" stroke-width="0">☠</text>
<text x="2293.9" y="914.8" font-size="13.20" fill="#e8262a" textLength="57.1" lengthAdjust="spacingAndGlyphs" stroke-width="0">You died!</text>
<text x="2354.0" y="916.5" font-size="19.00" fill="#666" font-family="'DejaVu Sans', sans-serif" stroke-width="0">☠</text>
<text x="2484.6" y="918.0" font-size="13.20" fill="#6aa84f" textLength="36.4" lengthAdjust="spacingAndGlyphs" stroke-width="0">killed!</text>
<text x="1894.8" y="650.3" font-size="18.50" fill="#ff9900" textLength="147.2" lengthAdjust="spacingAndGlyphs" stroke-width="0"><tspan font-weight="bold"><tspan font-style="italic">Best aligned state</tspan></tspan></text>
<g transform="translate(2052.6 720.0) scale(1.00)"><path d="M-8.6 -10 L-7 9.5" stroke="#8b4a2b" stroke-width="1.7" fill="none"/><path d="M-9.6 -11 L-8.4 -6 M-6.8 -11.5 L-7.6 -6" stroke="#8b4a2b" stroke-width="1.2" fill="none"/><ellipse cx="3" cy="3.2" rx="6.6" ry="6.2" fill="#6e5537"/><ellipse cx="1.6" cy="-6" rx="4.6" ry="4.8" fill="#8c9c84"/><path d="M-3 -7.5 Q1.6 -13 6.2 -7.5 Q1.6 -10 -3 -7.5Z" fill="#77807a"/><ellipse cx="-5.6" cy="-1" rx="2.2" ry="2.6" fill="#8fa88a"/><ellipse cx="8.6" cy="5.5" rx="1.8" ry="2.8" fill="#8fa88a"/><rect x="-0.6" y="8" width="2.8" height="3.4" fill="#4a3520"/><rect x="4" y="8" width="2.8" height="3.4" fill="#4a3520"/></g>
<g transform="translate(2469.5 910.0) scale(1.00)"><path d="M-8.6 -10 L-7 9.5" stroke="#8b4a2b" stroke-width="1.7" fill="none"/><path d="M-9.6 -11 L-8.4 -6 M-6.8 -11.5 L-7.6 -6" stroke="#8b4a2b" stroke-width="1.2" fill="none"/><ellipse cx="3" cy="3.2" rx="6.6" ry="6.2" fill="#6e5537"/><ellipse cx="1.6" cy="-6" rx="4.6" ry="4.8" fill="#8c9c84"/><path d="M-3 -7.5 Q1.6 -13 6.2 -7.5 Q1.6 -10 -3 -7.5Z" fill="#77807a"/><ellipse cx="-5.6" cy="-1" rx="2.2" ry="2.6" fill="#8fa88a"/><ellipse cx="8.6" cy="5.5" rx="1.8" ry="2.8" fill="#8fa88a"/><rect x="-0.6" y="8" width="2.8" height="3.4" fill="#4a3520"/><rect x="4" y="8" width="2.8" height="3.4" fill="#4a3520"/></g>
<line x1="2739.3" y1="371.7" x2="3888.7" y2="371.7" stroke="#111" stroke-width="1.6" />
<line x1="2836.7" y1="403.9" x2="3888.7" y2="403.9" stroke="#222" stroke-width="1.1" />
<line x1="2739.3" y1="436.5" x2="3888.7" y2="436.5" stroke="#222" stroke-width="1.1" />
<text x="2739.3" y="405.4" font-size="17.60" fill="#000000" font-family="'Liberation Serif', serif" stroke-width="0">Games</text>
<text x="3013.0" y="395.0" font-size="17.60" fill="#000000" font-family="'Liberation Serif', serif" text-anchor="middle" stroke-width="0"><tspan font-style="italic">RL-based</tspan></text>
<text x="3303.0" y="395.0" font-size="17.60" fill="#000000" font-family="'Liberation Serif', serif" text-anchor="middle" stroke-width="0"><tspan font-style="italic">MCTS-based</tspan></text>
<text x="3647.3" y="395.0" font-size="17.60" fill="#000000" font-family="'Liberation Serif', serif" text-anchor="middle" stroke-width="0"><tspan font-style="italic">LLM-based</tspan></text>
<text x="2873.7" y="426.9" font-size="17.60" fill="#000000" font-family="'Liberation Serif', serif" text-anchor="middle" stroke-width="0"><tspan font-weight="bold">DRRN</tspan></text>
<text x="2966.4" y="426.9" font-size="17.60" fill="#000000" font-family="'Liberation Serif', serif" text-anchor="middle" stroke-width="0"><tspan font-weight="bold">KG-A2C</tspan></text>
<text x="3058.4" y="426.9" font-size="17.60" fill="#000000" font-family="'Liberation Serif', serif" text-anchor="middle" stroke-width="0"><tspan font-weight="bold">RC-DQN</tspan></text>
<text x="3151.6" y="426.9" font-size="17.60" fill="#000000" font-family="'Liberation Serif', serif" text-anchor="middle" stroke-width="0"><tspan font-weight="bold">XTX</tspan></text>
<text x="3251.3" y="426.9" font-size="17.60" fill="#000000" font-family="'Liberation Serif', serif" text-anchor="middle" stroke-width="0"><tspan font-weight="bold">MC-LAVE</tspan></text>
<text x="3354.4" y="426.9" font-size="17.60" fill="#000000" font-family="'Liberation Serif', serif" text-anchor="middle" stroke-width="0"><tspan font-weight="bold">MC-DML</tspan></text>
<text x="3450.7" y="426.9" font-size="17.60" fill="#000000" font-family="'Liberation Serif', serif" text-anchor="middle" stroke-width="0"><tspan font-weight="bold">ReAct</tspan></text>
<text x="3541.7" y="426.9" font-size="17.60" fill="#000000" font-family="'Liberation Serif', serif" text-anchor="middle" stroke-width="0"><tspan font-weight="bold">Reflexion</tspan></text>
<text x="3635.9" y="426.9" font-size="17.60" fill="#000000" font-family="'Liberation Serif', serif" text-anchor="middle" stroke-width="0"><tspan font-weight="bold">ICRL</tspan></text>
<text x="3726.9" y="426.9" font-size="17.60" fill="#000000" font-family="'Liberation Serif', serif" text-anchor="middle" stroke-width="0"><tspan font-weight="bold">IGE</tspan></text>
<text x="3835.6" y="426.9" font-size="17.60" fill="#000000" font-family="'Liberation Serif', serif" text-anchor="middle" stroke-width="0"><tspan font-weight="bold">GLoW (Ours)</tspan></text>
<line x1="2827.4" y1="377.5" x2="2827.4" y2="399.5" stroke="#333" stroke-width="1.1" />
<line x1="2827.4" y1="409.5" x2="2827.4" y2="431.5" stroke="#333" stroke-width="1.1" />
<line x1="3199.4" y1="377.5" x2="3199.4" y2="399.5" stroke="#333" stroke-width="1.1" />
<line x1="3199.4" y1="409.5" x2="3199.4" y2="431.5" stroke="#333" stroke-width="1.1" />
<line x1="3406.5" y1="377.5" x2="3406.5" y2="399.5" stroke="#333" stroke-width="1.1" />
<line x1="3406.5" y1="409.5" x2="3406.5" y2="431.5" stroke="#333" stroke-width="1.1" />
<line x1="3771.6" y1="409.5" x2="3771.6" y2="431.5" stroke="#333" stroke-width="1.1" />
<text x="2739.3" y="459.0" font-size="17.60" fill="#000000" font-family="'Liberation Serif', serif" stroke-width="0">Steps</text>
<text x="2873.7" y="459.0" font-size="17.60" fill="#000000" font-family="'Liberation Serif', serif" text-anchor="middle" stroke-width="0">1,000,000</text>
<text x="2966.4" y="459.0" font-size="17.60" fill="#000000" font-family="'Liberation Serif', serif" text-anchor="middle" stroke-width="0">1,600,000</text>
<text x="3058.4" y="459.0" font-size="17.60" fill="#000000" font-family="'Liberation Serif', serif" text-anchor="middle" stroke-width="0">100,000</text>
<text x="3151.6" y="459.0" font-size="17.60" fill="#000000" font-family="'Liberation Serif', serif" text-anchor="middle" stroke-width="0">800,000</text>
<text x="3251.3" y="459.0" font-size="17.60" fill="#000000" font-family="'Liberation Serif', serif" text-anchor="middle" stroke-width="0">∼400,000</text>
<text x="3354.4" y="459.0" font-size="17.60" fill="#000000" font-family="'Liberation Serif', serif" text-anchor="middle" stroke-width="0">∼400,000</text>
<text x="3450.7" y="459.0" font-size="17.60" fill="#000000" font-family="'Liberation Serif', serif" text-anchor="middle" stroke-width="0">1000</text>
<text x="3541.7" y="459.0" font-size="17.60" fill="#000000" font-family="'Liberation Serif', serif" text-anchor="middle" stroke-width="0">1000</text>
<text x="3635.9" y="459.0" font-size="17.60" fill="#000000" font-family="'Liberation Serif', serif" text-anchor="middle" stroke-width="0">1000</text>
<text x="3726.9" y="459.0" font-size="17.60" fill="#000000" font-family="'Liberation Serif', serif" text-anchor="middle" stroke-width="0">1000</text>
<text x="3835.6" y="459.0" font-size="17.60" fill="#000000" font-family="'Liberation Serif', serif" text-anchor="middle" stroke-width="0">1000</text>
<line x1="2827.4" y1="442.0" x2="2827.4" y2="465.0" stroke="#333" stroke-width="1.1" />
<line x1="3199.4" y1="442.0" x2="3199.4" y2="465.0" stroke="#333" stroke-width="1.1" />
<line x1="3406.5" y1="442.0" x2="3406.5" y2="465.0" stroke="#333" stroke-width="1.1" />
<line x1="3771.6" y1="442.0" x2="3771.6" y2="465.0" stroke="#333" stroke-width="1.1" />
<line x1="2739.3" y1="468.9" x2="3888.7" y2="468.9" stroke="#222" stroke-width="1.1" />
<text x="2739.3" y="491.4" font-size="17.60" fill="#c1121f" font-family="'Liberation Serif', serif" stroke-width="0">Enchanter</text>
<text x="2873.7" y="491.4" font-size="17.60" fill="#000000" font-family="'Liberation Serif', serif" text-anchor="middle" stroke-width="0">20</text>
<text x="2966.4" y="491.4" font-size="17.60" fill="#000000" font-family="'Liberation Serif', serif" text-anchor="middle" stroke-width="0">12.1</text>
<text x="3058.4" y="491.4" font-size="17.60" fill="#000000" font-family="'Liberation Serif', serif" text-anchor="middle" stroke-width="0">20</text>
<text x="3151.6" y="491.4" font-size="17.60" fill="#000000" font-family="'Liberation Serif', serif" text-anchor="middle" stroke-width="0"><tspan text-decoration="underline">52.0</tspan></text>
<text x="3251.3" y="491.4" font-size="17.60" fill="#000000" font-family="'Liberation Serif', serif" text-anchor="middle" stroke-width="0">–</text>
<text x="3354.4" y="491.4" font-size="17.60" fill="#000000" font-family="'Liberation Serif', serif" text-anchor="middle" stroke-width="0">20<tspan style="font-size:.88em">±</tspan><tspan style="font-size:.72em">0.0</tspan></text>
<text x="3450.7" y="491.4" font-size="17.60" fill="#000000" font-family="'Liberation Serif', serif" text-anchor="middle" stroke-width="0">46.7<tspan style="font-size:.88em">±</tspan><tspan style="font-size:.72em">9.4</tspan></text>
<text x="3541.7" y="491.4" font-size="17.60" fill="#000000" font-family="'Liberation Serif', serif" text-anchor="middle" stroke-width="0">48.3<tspan style="font-size:.88em">±</tspan><tspan style="font-size:.72em">9.4</tspan></text>
<text x="3635.9" y="491.4" font-size="17.60" fill="#000000" font-family="'Liberation Serif', serif" text-anchor="middle" stroke-width="0">43.3<tspan style="font-size:.88em">±</tspan><tspan style="font-size:.72em">8.5</tspan></text>
<text x="3726.9" y="491.4" font-size="17.60" fill="#000000" font-family="'Liberation Serif', serif" text-anchor="middle" stroke-width="0">50.0<tspan style="font-size:.88em">±</tspan><tspan style="font-size:.72em">7.1</tspan></text>
<text x="3835.6" y="491.4" font-size="17.60" fill="#000000" font-family="'Liberation Serif', serif" text-anchor="middle" stroke-width="0"><tspan font-weight="bold">61.7<tspan style="font-size:.88em">±</tspan><tspan style="font-size:.72em">20.1</tspan></tspan></text>
<line x1="2827.4" y1="474.4" x2="2827.4" y2="497.4" stroke="#333" stroke-width="1.1" />
<line x1="3199.4" y1="474.4" x2="3199.4" y2="497.4" stroke="#333" stroke-width="1.1" />
<line x1="3406.5" y1="474.4" x2="3406.5" y2="497.4" stroke="#333" stroke-width="1.1" />
<line x1="3771.6" y1="474.4" x2="3771.6" y2="497.4" stroke="#333" stroke-width="1.1" />
<line x1="2739.3" y1="501.3" x2="3888.7" y2="501.3" stroke="#222" stroke-width="1.1" />
<text x="2739.3" y="523.8" font-size="17.60" fill="#c9960c" font-family="'Liberation Serif', serif" stroke-width="0">Zork1</text>
<text x="2873.7" y="523.8" font-size="17.60" fill="#000000" font-family="'Liberation Serif', serif" text-anchor="middle" stroke-width="0">32.6</text>
<text x="2966.4" y="523.8" font-size="17.60" fill="#000000" font-family="'Liberation Serif', serif" text-anchor="middle" stroke-width="0">40.2<tspan style="font-size:.88em">±</tspan><tspan style="font-size:.72em">0.4</tspan></text>
<text x="3058.4" y="523.8" font-size="17.60" fill="#000000" font-family="'Liberation Serif', serif" text-anchor="middle" stroke-width="0">38.8</text>
<text x="3151.6" y="523.8" font-size="17.60" fill="#000000" font-family="'Liberation Serif', serif" text-anchor="middle" stroke-width="0"><tspan font-weight="bold">103.4<tspan style="font-size:.88em">±</tspan><tspan style="font-size:.72em">10.9</tspan></tspan></text>
<text x="3251.3" y="523.8" font-size="17.60" fill="#000000" font-family="'Liberation Serif', serif" text-anchor="middle" stroke-width="0">45.2</text>
<text x="3354.4" y="523.8" font-size="17.60" fill="#000000" font-family="'Liberation Serif', serif" text-anchor="middle" stroke-width="0">48.66<tspan style="font-size:.88em">±</tspan><tspan style="font-size:.72em">1.89</tspan></text>
<text x="3450.7" y="523.8" font-size="17.60" fill="#000000" font-family="'Liberation Serif', serif" text-anchor="middle" stroke-width="0">48.3<tspan style="font-size:.88em">±</tspan><tspan style="font-size:.72em">4.7</tspan></text>
<text x="3541.7" y="523.8" font-size="17.60" fill="#000000" font-family="'Liberation Serif', serif" text-anchor="middle" stroke-width="0">48.0<tspan style="font-size:.88em">±</tspan><tspan style="font-size:.72em">5.0</tspan></text>
<text x="3635.9" y="523.8" font-size="17.60" fill="#000000" font-family="'Liberation Serif', serif" text-anchor="middle" stroke-width="0">51.7<tspan style="font-size:.88em">±</tspan><tspan style="font-size:.72em">4.7</tspan></text>
<text x="3726.9" y="523.8" font-size="17.60" fill="#000000" font-family="'Liberation Serif', serif" text-anchor="middle" stroke-width="0">44.3<tspan style="font-size:.88em">±</tspan><tspan style="font-size:.72em">0.5</tspan></text>
<text x="3835.6" y="523.8" font-size="17.60" fill="#000000" font-family="'Liberation Serif', serif" text-anchor="middle" stroke-width="0"><tspan text-decoration="underline">73.0<tspan style="font-size:.88em">±</tspan><tspan style="font-size:.72em">4.5</tspan></tspan></text>
<line x1="2827.4" y1="506.8" x2="2827.4" y2="529.8" stroke="#333" stroke-width="1.1" />
<line x1="3199.4" y1="506.8" x2="3199.4" y2="529.8" stroke="#333" stroke-width="1.1" />
<line x1="3406.5" y1="506.8" x2="3406.5" y2="529.8" stroke="#333" stroke-width="1.1" />
<line x1="3771.6" y1="506.8" x2="3771.6" y2="529.8" stroke="#333" stroke-width="1.1" />
<line x1="2739.3" y1="533.7" x2="3888.7" y2="533.7" stroke="#222" stroke-width="1.1" />
<text x="2739.3" y="556.2" font-size="17.60" fill="#c9960c" font-family="'Liberation Serif', serif" stroke-width="0">Zork3</text>
<text x="2873.7" y="556.2" font-size="17.60" fill="#000000" font-family="'Liberation Serif', serif" text-anchor="middle" stroke-width="0">0.5</text>
<text x="2966.4" y="556.2" font-size="17.60" fill="#000000" font-family="'Liberation Serif', serif" text-anchor="middle" stroke-width="0">0.0</text>
<text x="3058.4" y="556.2" font-size="17.60" fill="#000000" font-family="'Liberation Serif', serif" text-anchor="middle" stroke-width="0">2.83</text>
<text x="3151.6" y="556.2" font-size="17.60" fill="#000000" font-family="'Liberation Serif', serif" text-anchor="middle" stroke-width="0"><tspan text-decoration="underline">4.2<tspan style="font-size:.88em">±</tspan><tspan style="font-size:.72em">0.1</tspan></tspan></text>
<text x="3251.3" y="556.2" font-size="17.60" fill="#000000" font-family="'Liberation Serif', serif" text-anchor="middle" stroke-width="0">–</text>
<text x="3354.4" y="556.2" font-size="17.60" fill="#000000" font-family="'Liberation Serif', serif" text-anchor="middle" stroke-width="0">3<tspan style="font-size:.88em">±</tspan><tspan style="font-size:.72em">0.0</tspan></text>
<text x="3450.7" y="556.2" font-size="17.60" fill="#000000" font-family="'Liberation Serif', serif" text-anchor="middle" stroke-width="0">3.0<tspan style="font-size:.88em">±</tspan><tspan style="font-size:.72em">0.0</tspan></text>
<text x="3541.7" y="556.2" font-size="17.60" fill="#000000" font-family="'Liberation Serif', serif" text-anchor="middle" stroke-width="0">2.7<tspan style="font-size:.88em">±</tspan><tspan style="font-size:.72em">0.5</tspan></text>
<text x="3635.9" y="556.2" font-size="17.60" fill="#000000" font-family="'Liberation Serif', serif" text-anchor="middle" stroke-width="0">3.0<tspan style="font-size:.88em">±</tspan><tspan style="font-size:.72em">0.0</tspan></text>
<text x="3726.9" y="556.2" font-size="17.60" fill="#000000" font-family="'Liberation Serif', serif" text-anchor="middle" stroke-width="0">3.7<tspan style="font-size:.88em">±</tspan><tspan style="font-size:.72em">0.9</tspan></text>
<text x="3835.6" y="556.2" font-size="17.60" fill="#000000" font-family="'Liberation Serif', serif" text-anchor="middle" stroke-width="0"><tspan font-weight="bold">4.3<tspan style="font-size:.88em">±</tspan><tspan style="font-size:.72em">0.9</tspan></tspan></text>
<line x1="2827.4" y1="539.2" x2="2827.4" y2="562.2" stroke="#333" stroke-width="1.1" />
<line x1="3199.4" y1="539.2" x2="3199.4" y2="562.2" stroke="#333" stroke-width="1.1" />
<line x1="3406.5" y1="539.2" x2="3406.5" y2="562.2" stroke="#333" stroke-width="1.1" />
<line x1="3771.6" y1="539.2" x2="3771.6" y2="562.2" stroke="#333" stroke-width="1.1" />
<line x1="2739.3" y1="566.1" x2="3888.7" y2="566.1" stroke="#222" stroke-width="1.1" />
<text x="2739.3" y="588.6" font-size="17.60" fill="#c9960c" font-family="'Liberation Serif', serif" stroke-width="0">Deephome</text>
<text x="2873.7" y="588.6" font-size="17.60" fill="#000000" font-family="'Liberation Serif', serif" text-anchor="middle" stroke-width="0">1</text>
<text x="2966.4" y="588.6" font-size="17.60" fill="#000000" font-family="'Liberation Serif', serif" text-anchor="middle" stroke-width="0">20<tspan style="font-size:.88em">±</tspan><tspan style="font-size:.72em">2.1</tspan></text>
<text x="3058.4" y="588.6" font-size="17.60" fill="#000000" font-family="'Liberation Serif', serif" text-anchor="middle" stroke-width="0">1</text>
<text x="3151.6" y="588.6" font-size="17.60" fill="#000000" font-family="'Liberation Serif', serif" text-anchor="middle" stroke-width="0"><tspan font-weight="bold">77.7<tspan style="font-size:.88em">±</tspan><tspan style="font-size:.72em">2.1</tspan></tspan></text>
<text x="3251.3" y="588.6" font-size="17.60" fill="#000000" font-family="'Liberation Serif', serif" text-anchor="middle" stroke-width="0">35</text>
<text x="3354.4" y="588.6" font-size="17.60" fill="#000000" font-family="'Liberation Serif', serif" text-anchor="middle" stroke-width="0">67<tspan style="font-size:.88em">±</tspan><tspan style="font-size:.72em">1.41</tspan></text>
<text x="3450.7" y="588.6" font-size="17.60" fill="#000000" font-family="'Liberation Serif', serif" text-anchor="middle" stroke-width="0">11.0<tspan style="font-size:.88em">±</tspan><tspan style="font-size:.72em">4.2</tspan></text>
<text x="3541.7" y="588.6" font-size="17.60" fill="#000000" font-family="'Liberation Serif', serif" text-anchor="middle" stroke-width="0">22.0<tspan style="font-size:.88em">±</tspan><tspan style="font-size:.72em">1.6</tspan></text>
<text x="3635.9" y="588.6" font-size="17.60" fill="#000000" font-family="'Liberation Serif', serif" text-anchor="middle" stroke-width="0">24.0<tspan style="font-size:.88em">±</tspan><tspan style="font-size:.72em">5.7</tspan></text>
<text x="3726.9" y="588.6" font-size="17.60" fill="#000000" font-family="'Liberation Serif', serif" text-anchor="middle" stroke-width="0">71.3<tspan style="font-size:.88em">±</tspan><tspan style="font-size:.72em">4.9</tspan></text>
<text x="3835.6" y="588.6" font-size="17.60" fill="#000000" font-family="'Liberation Serif', serif" text-anchor="middle" stroke-width="0"><tspan text-decoration="underline">75.0<tspan style="font-size:.88em">±</tspan><tspan style="font-size:.72em">8.7</tspan></tspan></text>
<line x1="2827.4" y1="571.6" x2="2827.4" y2="594.6" stroke="#333" stroke-width="1.1" />
<line x1="3199.4" y1="571.6" x2="3199.4" y2="594.6" stroke="#333" stroke-width="1.1" />
<line x1="3406.5" y1="571.6" x2="3406.5" y2="594.6" stroke="#333" stroke-width="1.1" />
<line x1="3771.6" y1="571.6" x2="3771.6" y2="594.6" stroke="#333" stroke-width="1.1" />
<line x1="2739.3" y1="598.5" x2="3888.7" y2="598.5" stroke="#222" stroke-width="1.1" />
<text x="2739.3" y="621.0" font-size="17.60" fill="#c9960c" font-family="'Liberation Serif', serif" stroke-width="0">Ludicorp</text>
<text x="2873.7" y="621.0" font-size="17.60" fill="#000000" font-family="'Liberation Serif', serif" text-anchor="middle" stroke-width="0">13.8</text>
<text x="2966.4" y="621.0" font-size="17.60" fill="#000000" font-family="'Liberation Serif', serif" text-anchor="middle" stroke-width="0">19.8<tspan style="font-size:.88em">±</tspan><tspan style="font-size:.72em">1.0</tspan></text>
<text x="3058.4" y="621.0" font-size="17.60" fill="#000000" font-family="'Liberation Serif', serif" text-anchor="middle" stroke-width="0">17</text>
<text x="3151.6" y="621.0" font-size="17.60" fill="#000000" font-family="'Liberation Serif', serif" text-anchor="middle" stroke-width="0"><tspan font-weight="bold">78.8</tspan></text>
<text x="3251.3" y="621.0" font-size="17.60" fill="#000000" font-family="'Liberation Serif', serif" text-anchor="middle" stroke-width="0">22.8</text>
<text x="3354.4" y="621.0" font-size="17.60" fill="#000000" font-family="'Liberation Serif', serif" text-anchor="middle" stroke-width="0">19.67<tspan style="font-size:.88em">±</tspan><tspan style="font-size:.72em">1.7</tspan></text>
<text x="3450.7" y="621.0" font-size="17.60" fill="#000000" font-family="'Liberation Serif', serif" text-anchor="middle" stroke-width="0">19.7<tspan style="font-size:.88em">±</tspan><tspan style="font-size:.72em">0.9</tspan></text>
<text x="3541.7" y="621.0" font-size="17.60" fill="#000000" font-family="'Liberation Serif', serif" text-anchor="middle" stroke-width="0">21.7<tspan style="font-size:.88em">±</tspan><tspan style="font-size:.72em">1.2</tspan></text>
<text x="3635.9" y="621.0" font-size="17.60" fill="#000000" font-family="'Liberation Serif', serif" text-anchor="middle" stroke-width="0">32.0<tspan style="font-size:.88em">±</tspan><tspan style="font-size:.72em">7.1</tspan></text>
<text x="3726.9" y="621.0" font-size="17.60" fill="#000000" font-family="'Liberation Serif', serif" text-anchor="middle" stroke-width="0">28.3<tspan style="font-size:.88em">±</tspan><tspan style="font-size:.72em">11.3</tspan></text>
<text x="3835.6" y="621.0" font-size="17.60" fill="#000000" font-family="'Liberation Serif', serif" text-anchor="middle" stroke-width="0"><tspan text-decoration="underline">73.7<tspan style="font-size:.88em">±</tspan><tspan style="font-size:.72em">11.0</tspan></tspan></text>
<line x1="2827.4" y1="604.0" x2="2827.4" y2="627.0" stroke="#333" stroke-width="1.1" />
<line x1="3199.4" y1="604.0" x2="3199.4" y2="627.0" stroke="#333" stroke-width="1.1" />
<line x1="3406.5" y1="604.0" x2="3406.5" y2="627.0" stroke="#333" stroke-width="1.1" />
<line x1="3771.6" y1="604.0" x2="3771.6" y2="627.0" stroke="#333" stroke-width="1.1" />
<line x1="2739.3" y1="630.9" x2="3888.7" y2="630.9" stroke="#222" stroke-width="1.1" />
<text x="2739.3" y="653.4" font-size="17.60" fill="#c9960c" font-family="'Liberation Serif', serif" stroke-width="0">Balances</text>
<text x="2873.7" y="653.4" font-size="17.60" fill="#000000" font-family="'Liberation Serif', serif" text-anchor="middle" stroke-width="0">10</text>
<text x="2966.4" y="653.4" font-size="17.60" fill="#000000" font-family="'Liberation Serif', serif" text-anchor="middle" stroke-width="0">10</text>
<text x="3058.4" y="653.4" font-size="17.60" fill="#000000" font-family="'Liberation Serif', serif" text-anchor="middle" stroke-width="0">10</text>
<text x="3151.6" y="653.4" font-size="17.60" fill="#000000" font-family="'Liberation Serif', serif" text-anchor="middle" stroke-width="0"><tspan font-weight="bold">24</tspan></text>
<text x="3251.3" y="653.4" font-size="17.60" fill="#000000" font-family="'Liberation Serif', serif" text-anchor="middle" stroke-width="0">10</text>
<text x="3354.4" y="653.4" font-size="17.60" fill="#000000" font-family="'Liberation Serif', serif" text-anchor="middle" stroke-width="0">10<tspan style="font-size:.88em">±</tspan><tspan style="font-size:.72em">0.0</tspan></text>
<text x="3450.7" y="653.4" font-size="17.60" fill="#000000" font-family="'Liberation Serif', serif" text-anchor="middle" stroke-width="0">10<tspan style="font-size:.88em">±</tspan><tspan style="font-size:.72em">0.0</tspan></text>
<text x="3541.7" y="653.4" font-size="17.60" fill="#000000" font-family="'Liberation Serif', serif" text-anchor="middle" stroke-width="0">10<tspan style="font-size:.88em">±</tspan><tspan style="font-size:.72em">0.0</tspan></text>
<text x="3635.9" y="653.4" font-size="17.60" fill="#000000" font-family="'Liberation Serif', serif" text-anchor="middle" stroke-width="0">11.7<tspan style="font-size:.88em">±</tspan><tspan style="font-size:.72em">2.4</tspan></text>
<text x="3726.9" y="653.4" font-size="17.60" fill="#000000" font-family="'Liberation Serif', serif" text-anchor="middle" stroke-width="0">10.0<tspan style="font-size:.88em">±</tspan><tspan style="font-size:.72em">0.0</tspan></text>
<text x="3835.6" y="653.4" font-size="17.60" fill="#000000" font-family="'Liberation Serif', serif" text-anchor="middle" stroke-width="0"><tspan text-decoration="underline">16.7<tspan style="font-size:.88em">±</tspan><tspan style="font-size:.72em">2.4</tspan></tspan></text>
<line x1="2827.4" y1="636.4" x2="2827.4" y2="659.4" stroke="#333" stroke-width="1.1" />
<line x1="3199.4" y1="636.4" x2="3199.4" y2="659.4" stroke="#333" stroke-width="1.1" />
<line x1="3406.5" y1="636.4" x2="3406.5" y2="659.4" stroke="#333" stroke-width="1.1" />
<line x1="3771.6" y1="636.4" x2="3771.6" y2="659.4" stroke="#333" stroke-width="1.1" />
<line x1="2739.3" y1="663.3" x2="3888.7" y2="663.3" stroke="#222" stroke-width="1.1" />
<text x="2739.3" y="685.8" font-size="17.60" fill="#0b8a0b" font-family="'Liberation Serif', serif" stroke-width="0">Pentari</text>
<text x="2873.7" y="685.8" font-size="17.60" fill="#000000" font-family="'Liberation Serif', serif" text-anchor="middle" stroke-width="0">27.2</text>
<text x="2966.4" y="685.8" font-size="17.60" fill="#000000" font-family="'Liberation Serif', serif" text-anchor="middle" stroke-width="0">44<tspan style="font-size:.88em">±</tspan><tspan style="font-size:.72em">0.9</tspan></text>
<text x="3058.4" y="685.8" font-size="17.60" fill="#000000" font-family="'Liberation Serif', serif" text-anchor="middle" stroke-width="0">43.8</text>
<text x="3151.6" y="685.8" font-size="17.60" fill="#000000" font-family="'Liberation Serif', serif" text-anchor="middle" stroke-width="0">49.6</text>
<text x="3251.3" y="685.8" font-size="17.60" fill="#000000" font-family="'Liberation Serif', serif" text-anchor="middle" stroke-width="0"><tspan text-decoration="underline">68</tspan></text>
<text x="3354.4" y="685.8" font-size="17.60" fill="#000000" font-family="'Liberation Serif', serif" text-anchor="middle" stroke-width="0"><tspan font-weight="bold">70<tspan style="font-size:.88em">±</tspan><tspan style="font-size:.72em">0.0</tspan></tspan></text>
<text x="3450.7" y="685.8" font-size="17.60" fill="#000000" font-family="'Liberation Serif', serif" text-anchor="middle" stroke-width="0">30.0<tspan style="font-size:.88em">±</tspan><tspan style="font-size:.72em">0.0</tspan></text>
<text x="3541.7" y="685.8" font-size="17.60" fill="#000000" font-family="'Liberation Serif', serif" text-anchor="middle" stroke-width="0">30.0<tspan style="font-size:.88em">±</tspan><tspan style="font-size:.72em">0.0</tspan></text>
<text x="3635.9" y="685.8" font-size="17.60" fill="#000000" font-family="'Liberation Serif', serif" text-anchor="middle" stroke-width="0">26.7<tspan style="font-size:.88em">±</tspan><tspan style="font-size:.72em">4.7</tspan></text>
<text x="3726.9" y="685.8" font-size="17.60" fill="#000000" font-family="'Liberation Serif', serif" text-anchor="middle" stroke-width="0">30.0<tspan style="font-size:.88em">±</tspan><tspan style="font-size:.72em">0.0</tspan></text>
<text x="3835.6" y="685.8" font-size="17.60" fill="#000000" font-family="'Liberation Serif', serif" text-anchor="middle" stroke-width="0">30.0<tspan style="font-size:.88em">±</tspan><tspan style="font-size:.72em">0.0</tspan></text>
<line x1="2827.4" y1="668.8" x2="2827.4" y2="691.8" stroke="#333" stroke-width="1.1" />
<line x1="3199.4" y1="668.8" x2="3199.4" y2="691.8" stroke="#333" stroke-width="1.1" />
<line x1="3406.5" y1="668.8" x2="3406.5" y2="691.8" stroke="#333" stroke-width="1.1" />
<line x1="3771.6" y1="668.8" x2="3771.6" y2="691.8" stroke="#333" stroke-width="1.1" />
<line x1="2739.3" y1="695.7" x2="3888.7" y2="695.7" stroke="#222" stroke-width="1.1" />
<text x="2739.3" y="718.2" font-size="17.60" fill="#0b8a0b" font-family="'Liberation Serif', serif" stroke-width="0">Detective</text>
<text x="2873.7" y="718.2" font-size="17.60" fill="#000000" font-family="'Liberation Serif', serif" text-anchor="middle" stroke-width="0">197.8</text>
<text x="2966.4" y="718.2" font-size="17.60" fill="#000000" font-family="'Liberation Serif', serif" text-anchor="middle" stroke-width="0"><tspan text-decoration="underline">338<tspan style="font-size:.88em">±</tspan><tspan style="font-size:.72em">3.4</tspan></tspan></text>
<text x="3058.4" y="718.2" font-size="17.60" fill="#000000" font-family="'Liberation Serif', serif" text-anchor="middle" stroke-width="0">291.3</text>
<text x="3151.6" y="718.2" font-size="17.60" fill="#000000" font-family="'Liberation Serif', serif" text-anchor="middle" stroke-width="0">312.2</text>
<text x="3251.3" y="718.2" font-size="17.60" fill="#000000" font-family="'Liberation Serif', serif" text-anchor="middle" stroke-width="0">330</text>
<text x="3354.4" y="718.2" font-size="17.60" fill="#000000" font-family="'Liberation Serif', serif" text-anchor="middle" stroke-width="0"><tspan font-weight="bold">346.67<tspan style="font-size:.88em">±</tspan><tspan style="font-size:.72em">9.43</tspan></tspan></text>
<text x="3450.7" y="718.2" font-size="17.60" fill="#000000" font-family="'Liberation Serif', serif" text-anchor="middle" stroke-width="0">113.3<tspan style="font-size:.88em">±</tspan><tspan style="font-size:.72em">4.7</tspan></text>
<text x="3541.7" y="718.2" font-size="17.60" fill="#000000" font-family="'Liberation Serif', serif" text-anchor="middle" stroke-width="0">166.7<tspan style="font-size:.88em">±</tspan><tspan style="font-size:.72em">20.5</tspan></text>
<text x="3635.9" y="718.2" font-size="17.60" fill="#000000" font-family="'Liberation Serif', serif" text-anchor="middle" stroke-width="0">233.3<tspan style="font-size:.88em">±</tspan><tspan style="font-size:.72em">47.8</tspan></text>
<text x="3726.9" y="718.2" font-size="17.60" fill="#000000" font-family="'Liberation Serif', serif" text-anchor="middle" stroke-width="0">316.7<tspan style="font-size:.88em">±</tspan><tspan style="font-size:.72em">4.7</tspan></text>
<text x="3835.6" y="718.2" font-size="17.60" fill="#000000" font-family="'Liberation Serif', serif" text-anchor="middle" stroke-width="0">310.0<tspan style="font-size:.88em">±</tspan><tspan style="font-size:.72em">8.2</tspan></text>
<line x1="2827.4" y1="701.2" x2="2827.4" y2="724.2" stroke="#333" stroke-width="1.1" />
<line x1="3199.4" y1="701.2" x2="3199.4" y2="724.2" stroke="#333" stroke-width="1.1" />
<line x1="3406.5" y1="701.2" x2="3406.5" y2="724.2" stroke="#333" stroke-width="1.1" />
<line x1="3771.6" y1="701.2" x2="3771.6" y2="724.2" stroke="#333" stroke-width="1.1" />
<line x1="2739.3" y1="728.1" x2="3888.7" y2="728.1" stroke="#222" stroke-width="1.1" />
<text x="2739.3" y="750.6" font-size="17.60" fill="#0b8a0b" font-family="'Liberation Serif', serif" stroke-width="0">Temple</text>
<text x="2873.7" y="750.6" font-size="17.60" fill="#000000" font-family="'Liberation Serif', serif" text-anchor="middle" stroke-width="0">7.4</text>
<text x="2966.4" y="750.6" font-size="17.60" fill="#000000" font-family="'Liberation Serif', serif" text-anchor="middle" stroke-width="0">8</text>
<text x="3058.4" y="750.6" font-size="17.60" fill="#000000" font-family="'Liberation Serif', serif" text-anchor="middle" stroke-width="0">8</text>
<text x="3151.6" y="750.6" font-size="17.60" fill="#000000" font-family="'Liberation Serif', serif" text-anchor="middle" stroke-width="0">–</text>
<text x="3251.3" y="750.6" font-size="17.60" fill="#000000" font-family="'Liberation Serif', serif" text-anchor="middle" stroke-width="0">8<tspan style="font-size:.88em">±</tspan><tspan style="font-size:.72em">0.0</tspan></text>
<text x="3354.4" y="750.6" font-size="17.60" fill="#000000" font-family="'Liberation Serif', serif" text-anchor="middle" stroke-width="0">8<tspan style="font-size:.88em">±</tspan><tspan style="font-size:.72em">0.0</tspan></text>
<text x="3450.7" y="750.6" font-size="17.60" fill="#000000" font-family="'Liberation Serif', serif" text-anchor="middle" stroke-width="0">8.7<tspan style="font-size:.88em">±</tspan><tspan style="font-size:.72em">0.9</tspan></text>
<text x="3541.7" y="750.6" font-size="17.60" fill="#000000" font-family="'Liberation Serif', serif" text-anchor="middle" stroke-width="0">8.7<tspan style="font-size:.88em">±</tspan><tspan style="font-size:.72em">0.9</tspan></text>
<text x="3635.9" y="750.6" font-size="17.60" fill="#000000" font-family="'Liberation Serif', serif" text-anchor="middle" stroke-width="0">8<tspan style="font-size:.88em">±</tspan><tspan style="font-size:.72em">0.0</tspan></text>
<text x="3726.9" y="750.6" font-size="17.60" fill="#000000" font-family="'Liberation Serif', serif" text-anchor="middle" stroke-width="0"><tspan font-weight="bold">13.7<tspan style="font-size:.88em">±</tspan><tspan style="font-size:.72em">0.9</tspan></tspan></text>
<text x="3835.6" y="750.6" font-size="17.60" fill="#000000" font-family="'Liberation Serif', serif" text-anchor="middle" stroke-width="0"><tspan text-decoration="underline">13.0<tspan style="font-size:.88em">±</tspan><tspan style="font-size:.72em">0.0</tspan></tspan></text>
<line x1="2827.4" y1="733.6" x2="2827.4" y2="756.6" stroke="#333" stroke-width="1.1" />
<line x1="3199.4" y1="733.6" x2="3199.4" y2="756.6" stroke="#333" stroke-width="1.1" />
<line x1="3406.5" y1="733.6" x2="3406.5" y2="756.6" stroke="#333" stroke-width="1.1" />
<line x1="3771.6" y1="733.6" x2="3771.6" y2="756.6" stroke="#333" stroke-width="1.1" />
<line x1="2739.3" y1="760.5" x2="3888.7" y2="760.5" stroke="#222" stroke-width="1.1" />
<text x="2739.3" y="783.0" font-size="17.60" fill="#0b8a0b" font-family="'Liberation Serif', serif" stroke-width="0">Ztuu</text>
<text x="2873.7" y="783.0" font-size="17.60" fill="#000000" font-family="'Liberation Serif', serif" text-anchor="middle" stroke-width="0">21.6</text>
<text x="2966.4" y="783.0" font-size="17.60" fill="#000000" font-family="'Liberation Serif', serif" text-anchor="middle" stroke-width="0">5<tspan style="font-size:.88em">±</tspan><tspan style="font-size:.72em">0.0</tspan></text>
<text x="3058.4" y="783.0" font-size="17.60" fill="#000000" font-family="'Liberation Serif', serif" text-anchor="middle" stroke-width="0">–</text>
<text x="3151.6" y="783.0" font-size="17.60" fill="#000000" font-family="'Liberation Serif', serif" text-anchor="middle" stroke-width="0">–</text>
<text x="3251.3" y="783.0" font-size="17.60" fill="#000000" font-family="'Liberation Serif', serif" text-anchor="middle" stroke-width="0">7</text>
<text x="3354.4" y="783.0" font-size="17.60" fill="#000000" font-family="'Liberation Serif', serif" text-anchor="middle" stroke-width="0"><tspan text-decoration="underline">23.67<tspan style="font-size:.88em">±</tspan><tspan style="font-size:.72em">1.9</tspan></tspan></text>
<text x="3450.7" y="783.0" font-size="17.60" fill="#000000" font-family="'Liberation Serif', serif" text-anchor="middle" stroke-width="0">18.7<tspan style="font-size:.88em">±</tspan><tspan style="font-size:.72em">2.4</tspan></text>
<text x="3541.7" y="783.0" font-size="17.60" fill="#000000" font-family="'Liberation Serif', serif" text-anchor="middle" stroke-width="0">18.3<tspan style="font-size:.88em">±</tspan><tspan style="font-size:.72em">2.6</tspan></text>
<text x="3635.9" y="783.0" font-size="17.60" fill="#000000" font-family="'Liberation Serif', serif" text-anchor="middle" stroke-width="0">16.7<tspan style="font-size:.88em">±</tspan><tspan style="font-size:.72em">4.1</tspan></text>
<text x="3726.9" y="783.0" font-size="17.60" fill="#000000" font-family="'Liberation Serif', serif" text-anchor="middle" stroke-width="0">15.0<tspan style="font-size:.88em">±</tspan><tspan style="font-size:.72em">9.1</tspan></text>
<text x="3835.6" y="783.0" font-size="17.60" fill="#000000" font-family="'Liberation Serif', serif" text-anchor="middle" stroke-width="0"><tspan font-weight="bold">29.3<tspan style="font-size:.88em">±</tspan><tspan style="font-size:.72em">4.0</tspan></tspan></text>
<line x1="2827.4" y1="766.0" x2="2827.4" y2="789.0" stroke="#333" stroke-width="1.1" />
<line x1="3199.4" y1="766.0" x2="3199.4" y2="789.0" stroke="#333" stroke-width="1.1" />
<line x1="3406.5" y1="766.0" x2="3406.5" y2="789.0" stroke="#333" stroke-width="1.1" />
<line x1="3771.6" y1="766.0" x2="3771.6" y2="789.0" stroke="#333" stroke-width="1.1" />
<line x1="2739.3" y1="792.9" x2="3888.7" y2="792.9" stroke="#222" stroke-width="1.5" />
<line x1="3103.8" y1="832.6" x2="3946.0" y2="832.6" stroke="#111" stroke-width="1.5" />
<line x1="3185.4" y1="859.8" x2="3946.0" y2="859.8" stroke="#222" stroke-width="1" />
<line x1="3185.4" y1="886.7" x2="3946.0" y2="886.7" stroke="#222" stroke-width="1" />
<line x1="3103.8" y1="913.5" x2="3946.0" y2="913.5" stroke="#222" stroke-width="1" />
<text x="3103.8" y="869.4" font-size="14.70" fill="#000000" font-family="'Liberation Serif', serif" stroke-width="0">Games</text>
<text x="3216.9" y="851.0" font-size="14.70" fill="#000000" font-family="'Liberation Serif', serif" text-anchor="middle" stroke-width="0"><tspan font-style="italic">RL</tspan></text>
<text x="3600.5" y="851.0" font-size="14.70" fill="#000000" font-family="'Liberation Serif', serif" text-anchor="middle" stroke-width="0"><tspan font-style="italic">LLM-based</tspan></text>
<text x="3426.7" y="878.1" font-size="14.70" fill="#000000" font-family="'Liberation Serif', serif" text-anchor="middle" stroke-width="0"><tspan font-style="italic">GPT-4.1 mini</tspan></text>
<text x="3770.6" y="878.1" font-size="14.70" fill="#000000" font-family="'Liberation Serif', serif" text-anchor="middle" stroke-width="0"><tspan font-style="italic">GPT-4.1</tspan></text>
<text x="3216.9" y="904.6" font-size="14.70" fill="#000000" font-family="'Liberation Serif', serif" text-anchor="middle" stroke-width="0"><tspan font-weight="bold">XTX</tspan></text>
<text x="3290.0" y="904.6" font-size="14.70" fill="#000000" font-family="'Liberation Serif', serif" text-anchor="middle" stroke-width="0"><tspan font-weight="bold">ReAct</tspan></text>
<text x="3355.5" y="904.6" font-size="14.70" fill="#000000" font-family="'Liberation Serif', serif" text-anchor="middle" stroke-width="0"><tspan font-weight="bold">Rfl</tspan></text>
<text x="3421.0" y="904.6" font-size="14.70" fill="#000000" font-family="'Liberation Serif', serif" text-anchor="middle" stroke-width="0"><tspan font-weight="bold">ICRL</tspan></text>
<text x="3489.9" y="904.6" font-size="14.70" fill="#000000" font-family="'Liberation Serif', serif" text-anchor="middle" stroke-width="0"><tspan font-weight="bold">IGE</tspan></text>
<text x="3561.0" y="904.6" font-size="14.70" fill="#000000" font-family="'Liberation Serif', serif" text-anchor="middle" stroke-width="0"><tspan font-weight="bold">GLoW</tspan></text>
<text x="3632.7" y="904.6" font-size="14.70" fill="#000000" font-family="'Liberation Serif', serif" text-anchor="middle" stroke-width="0"><tspan font-weight="bold">ReAct</tspan></text>
<text x="3700.4" y="904.6" font-size="14.70" fill="#000000" font-family="'Liberation Serif', serif" text-anchor="middle" stroke-width="0"><tspan font-weight="bold">Rfl</tspan></text>
<text x="3769.6" y="904.6" font-size="14.70" fill="#000000" font-family="'Liberation Serif', serif" text-anchor="middle" stroke-width="0"><tspan font-weight="bold">ICRL</tspan></text>
<text x="3840.8" y="904.6" font-size="14.70" fill="#000000" font-family="'Liberation Serif', serif" text-anchor="middle" stroke-width="0"><tspan font-weight="bold">IGE</tspan></text>
<text x="3915.2" y="904.6" font-size="14.70" fill="#000000" font-family="'Liberation Serif', serif" text-anchor="middle" stroke-width="0"><tspan font-weight="bold">GLoW</tspan></text>
<line x1="3177.3" y1="837.5" x2="3177.3" y2="856.0" stroke="#333" stroke-width="1" />
<line x1="3177.3" y1="864.5" x2="3177.3" y2="883.0" stroke="#333" stroke-width="1" />
<line x1="3177.3" y1="891.0" x2="3177.3" y2="909.5" stroke="#333" stroke-width="1" />
<line x1="3256.4" y1="837.5" x2="3256.4" y2="856.0" stroke="#333" stroke-width="1" />
<line x1="3256.4" y1="864.5" x2="3256.4" y2="883.0" stroke="#333" stroke-width="1" />
<line x1="3256.4" y1="891.0" x2="3256.4" y2="909.5" stroke="#333" stroke-width="1" />
<line x1="3596.3" y1="864.5" x2="3596.3" y2="883.0" stroke="#333" stroke-width="1" />
<line x1="3596.3" y1="891.0" x2="3596.3" y2="909.5" stroke="#333" stroke-width="1" />
<text x="3103.8" y="931.5" font-size="14.70" fill="#000000" font-family="'Liberation Serif', serif" stroke-width="0">Steps</text>
<text x="3216.9" y="931.5" font-size="14.70" fill="#000000" font-family="'Liberation Serif', serif" text-anchor="middle" stroke-width="0">800K</text>
<text x="3290.0" y="931.5" font-size="14.70" fill="#000000" font-family="'Liberation Serif', serif" text-anchor="middle" stroke-width="0">1K</text>
<text x="3355.5" y="931.5" font-size="14.70" fill="#000000" font-family="'Liberation Serif', serif" text-anchor="middle" stroke-width="0">1K</text>
<text x="3421.0" y="931.5" font-size="14.70" fill="#000000" font-family="'Liberation Serif', serif" text-anchor="middle" stroke-width="0">1K</text>
<text x="3489.9" y="931.5" font-size="14.70" fill="#000000" font-family="'Liberation Serif', serif" text-anchor="middle" stroke-width="0">1K</text>
<text x="3561.0" y="931.5" font-size="14.70" fill="#000000" font-family="'Liberation Serif', serif" text-anchor="middle" stroke-width="0">1K</text>
<text x="3632.7" y="931.5" font-size="14.70" fill="#000000" font-family="'Liberation Serif', serif" text-anchor="middle" stroke-width="0">1K</text>
<text x="3700.4" y="931.5" font-size="14.70" fill="#000000" font-family="'Liberation Serif', serif" text-anchor="middle" stroke-width="0">1K</text>
<text x="3769.6" y="931.5" font-size="14.70" fill="#000000" font-family="'Liberation Serif', serif" text-anchor="middle" stroke-width="0">1K</text>
<text x="3840.8" y="931.5" font-size="14.70" fill="#000000" font-family="'Liberation Serif', serif" text-anchor="middle" stroke-width="0">1K</text>
<text x="3915.2" y="931.5" font-size="14.70" fill="#000000" font-family="'Liberation Serif', serif" text-anchor="middle" stroke-width="0">1K</text>
<line x1="3177.3" y1="917.5" x2="3177.3" y2="936.5" stroke="#333" stroke-width="1" />
<line x1="3256.4" y1="917.5" x2="3256.4" y2="936.5" stroke="#333" stroke-width="1" />
<line x1="3596.3" y1="917.5" x2="3596.3" y2="936.5" stroke="#333" stroke-width="1" />
<line x1="3103.8" y1="940.2" x2="3946.0" y2="940.2" stroke="#222" stroke-width="1" />
<text x="3103.8" y="958.4" font-size="14.70" fill="#c1121f" font-family="'Liberation Serif', serif" stroke-width="0">Enchanter</text>
<text x="3216.9" y="958.4" font-size="14.70" fill="#000000" font-family="'Liberation Serif', serif" text-anchor="middle" stroke-width="0">52.0</text>
<text x="3290.0" y="958.4" font-size="14.70" fill="#000000" font-family="'Liberation Serif', serif" text-anchor="middle" stroke-width="0">46.7<tspan style="font-size:.88em">±</tspan><tspan style="font-size:.72em">9.4</tspan></text>
<text x="3355.5" y="958.4" font-size="14.70" fill="#000000" font-family="'Liberation Serif', serif" text-anchor="middle" stroke-width="0">48.3<tspan style="font-size:.88em">±</tspan><tspan style="font-size:.72em">9.4</tspan></text>
<text x="3421.0" y="958.4" font-size="14.70" fill="#000000" font-family="'Liberation Serif', serif" text-anchor="middle" stroke-width="0">43.3<tspan style="font-size:.88em">±</tspan><tspan style="font-size:.72em">8.5</tspan></text>
<text x="3489.9" y="958.4" font-size="14.70" fill="#000000" font-family="'Liberation Serif', serif" text-anchor="middle" stroke-width="0">50.0<tspan style="font-size:.88em">±</tspan><tspan style="font-size:.72em">7.1</tspan></text>
<text x="3561.0" y="958.4" font-size="14.70" fill="#000000" font-family="'Liberation Serif', serif" text-anchor="middle" stroke-width="0">61.7<tspan style="font-size:.88em">±</tspan><tspan style="font-size:.72em">20.1</tspan></text>
<text x="3632.7" y="958.4" font-size="14.70" fill="#000000" font-family="'Liberation Serif', serif" text-anchor="middle" stroke-width="0">38.3<tspan style="font-size:.88em">±</tspan><tspan style="font-size:.72em">2.4</tspan></text>
<text x="3700.4" y="958.4" font-size="14.70" fill="#000000" font-family="'Liberation Serif', serif" text-anchor="middle" stroke-width="0">58.3<tspan style="font-size:.88em">±</tspan><tspan style="font-size:.72em">2.4</tspan></text>
<text x="3769.6" y="958.4" font-size="14.70" fill="#000000" font-family="'Liberation Serif', serif" text-anchor="middle" stroke-width="0">45<tspan style="font-size:.88em">±</tspan><tspan style="font-size:.72em">7.1</tspan></text>
<text x="3840.8" y="958.4" font-size="14.70" fill="#000000" font-family="'Liberation Serif', serif" text-anchor="middle" stroke-width="0"><tspan text-decoration="underline">68.3<tspan style="font-size:.88em">±</tspan><tspan style="font-size:.72em">18.4</tspan></tspan></text>
<text x="3915.2" y="958.4" font-size="14.70" fill="#000000" font-family="'Liberation Serif', serif" text-anchor="middle" stroke-width="0"><tspan font-weight="bold">98.3<tspan style="font-size:.88em">±</tspan><tspan style="font-size:.72em">4.7</tspan></tspan></text>
<line x1="3177.3" y1="944.4" x2="3177.3" y2="963.4" stroke="#333" stroke-width="1" />
<line x1="3256.4" y1="944.4" x2="3256.4" y2="963.4" stroke="#333" stroke-width="1" />
<line x1="3596.3" y1="944.4" x2="3596.3" y2="963.4" stroke="#333" stroke-width="1" />
<line x1="3103.8" y1="967.1" x2="3946.0" y2="967.1" stroke="#222" stroke-width="1" />
<text x="3103.8" y="985.3" font-size="14.70" fill="#c9960c" font-family="'Liberation Serif', serif" stroke-width="0">Zork1</text>
<text x="3216.9" y="985.3" font-size="14.70" fill="#000000" font-family="'Liberation Serif', serif" text-anchor="middle" stroke-width="0"><tspan font-weight="bold">103.4<tspan style="font-size:.88em">±</tspan><tspan style="font-size:.72em">10.9</tspan></tspan></text>
<text x="3290.0" y="985.3" font-size="14.70" fill="#000000" font-family="'Liberation Serif', serif" text-anchor="middle" stroke-width="0">48.3<tspan style="font-size:.88em">±</tspan><tspan style="font-size:.72em">4.7</tspan></text>
<text x="3355.5" y="985.3" font-size="14.70" fill="#000000" font-family="'Liberation Serif', serif" text-anchor="middle" stroke-width="0">48.0<tspan style="font-size:.88em">±</tspan><tspan style="font-size:.72em">5.0</tspan></text>
<text x="3421.0" y="985.3" font-size="14.70" fill="#000000" font-family="'Liberation Serif', serif" text-anchor="middle" stroke-width="0">51.7<tspan style="font-size:.88em">±</tspan><tspan style="font-size:.72em">4.7</tspan></text>
<text x="3489.9" y="985.3" font-size="14.70" fill="#000000" font-family="'Liberation Serif', serif" text-anchor="middle" stroke-width="0">44.3<tspan style="font-size:.88em">±</tspan><tspan style="font-size:.72em">0.5</tspan></text>
<text x="3561.0" y="985.3" font-size="14.70" fill="#000000" font-family="'Liberation Serif', serif" text-anchor="middle" stroke-width="0">73.0<tspan style="font-size:.88em">±</tspan><tspan style="font-size:.72em">4.5</tspan></text>
<text x="3632.7" y="985.3" font-size="14.70" fill="#000000" font-family="'Liberation Serif', serif" text-anchor="middle" stroke-width="0">45.0<tspan style="font-size:.88em">±</tspan><tspan style="font-size:.72em">0.0</tspan></text>
<text x="3700.4" y="985.3" font-size="14.70" fill="#000000" font-family="'Liberation Serif', serif" text-anchor="middle" stroke-width="0">54.3<tspan style="font-size:.88em">±</tspan><tspan style="font-size:.72em">4.5</tspan></text>
<text x="3769.6" y="985.3" font-size="14.70" fill="#000000" font-family="'Liberation Serif', serif" text-anchor="middle" stroke-width="0">48.0<tspan style="font-size:.88em">±</tspan><tspan style="font-size:.72em">2.8</tspan></text>
<text x="3840.8" y="985.3" font-size="14.70" fill="#000000" font-family="'Liberation Serif', serif" text-anchor="middle" stroke-width="0">86.7<tspan style="font-size:.88em">±</tspan><tspan style="font-size:.72em">24.1</tspan></text>
<text x="3915.2" y="985.3" font-size="14.70" fill="#000000" font-family="'Liberation Serif', serif" text-anchor="middle" stroke-width="0"><tspan text-decoration="underline">103.0<tspan style="font-size:.88em">±</tspan><tspan style="font-size:.72em">6.8</tspan></tspan></text>
<line x1="3177.3" y1="971.3" x2="3177.3" y2="990.3" stroke="#333" stroke-width="1" />
<line x1="3256.4" y1="971.3" x2="3256.4" y2="990.3" stroke="#333" stroke-width="1" />
<line x1="3596.3" y1="971.3" x2="3596.3" y2="990.3" stroke="#333" stroke-width="1" />
<line x1="3103.8" y1="994.0" x2="3946.0" y2="994.0" stroke="#222" stroke-width="1" />
<text x="3103.8" y="1012.2" font-size="14.70" fill="#c9960c" font-family="'Liberation Serif', serif" stroke-width="0">Zork3</text>
<text x="3216.9" y="1012.2" font-size="14.70" fill="#000000" font-family="'Liberation Serif', serif" text-anchor="middle" stroke-width="0">4.2<tspan style="font-size:.88em">±</tspan><tspan style="font-size:.72em">0.1</tspan></text>
<text x="3290.0" y="1012.2" font-size="14.70" fill="#000000" font-family="'Liberation Serif', serif" text-anchor="middle" stroke-width="0">3.0<tspan style="font-size:.88em">±</tspan><tspan style="font-size:.72em">0.0</tspan></text>
<text x="3355.5" y="1012.2" font-size="14.70" fill="#000000" font-family="'Liberation Serif', serif" text-anchor="middle" stroke-width="0">2.7<tspan style="font-size:.88em">±</tspan><tspan style="font-size:.72em">0.5</tspan></text>
<text x="3421.0" y="1012.2" font-size="14.70" fill="#000000" font-family="'Liberation Serif', serif" text-anchor="middle" stroke-width="0">3.0<tspan style="font-size:.88em">±</tspan><tspan style="font-size:.72em">0.0</tspan></text>
<text x="3489.9" y="1012.2" font-size="14.70" fill="#000000" font-family="'Liberation Serif', serif" text-anchor="middle" stroke-width="0">3.7<tspan style="font-size:.88em">±</tspan><tspan style="font-size:.72em">0.9</tspan></text>
<text x="3561.0" y="1012.2" font-size="14.70" fill="#000000" font-family="'Liberation Serif', serif" text-anchor="middle" stroke-width="0"><tspan text-decoration="underline">4.3<tspan style="font-size:.88em">±</tspan><tspan style="font-size:.72em">0.9</tspan></tspan></text>
<text x="3632.7" y="1012.2" font-size="14.70" fill="#000000" font-family="'Liberation Serif', serif" text-anchor="middle" stroke-width="0">3.3<tspan style="font-size:.88em">±</tspan><tspan style="font-size:.72em">0.5</tspan></text>
<text x="3700.4" y="1012.2" font-size="14.70" fill="#000000" font-family="'Liberation Serif', serif" text-anchor="middle" stroke-width="0">2.7<tspan style="font-size:.88em">±</tspan><tspan style="font-size:.72em">0.5</tspan></text>
<text x="3769.6" y="1012.2" font-size="14.70" fill="#000000" font-family="'Liberation Serif', serif" text-anchor="middle" stroke-width="0">3.0<tspan style="font-size:.88em">±</tspan><tspan style="font-size:.72em">0.8</tspan></text>
<text x="3840.8" y="1012.2" font-size="14.70" fill="#000000" font-family="'Liberation Serif', serif" text-anchor="middle" stroke-width="0">3.0<tspan style="font-size:.88em">±</tspan><tspan style="font-size:.72em">0.0</tspan></text>
<text x="3915.2" y="1012.2" font-size="14.70" fill="#000000" font-family="'Liberation Serif', serif" text-anchor="middle" stroke-width="0"><tspan font-weight="bold">5.0<tspan style="font-size:.88em">±</tspan><tspan style="font-size:.72em">0.0</tspan></tspan></text>
<line x1="3177.3" y1="998.2" x2="3177.3" y2="1017.2" stroke="#333" stroke-width="1" />
<line x1="3256.4" y1="998.2" x2="3256.4" y2="1017.2" stroke="#333" stroke-width="1" />
<line x1="3596.3" y1="998.2" x2="3596.3" y2="1017.2" stroke="#333" stroke-width="1" />
<line x1="3103.8" y1="1020.9" x2="3946.0" y2="1020.9" stroke="#222" stroke-width="1" />
<text x="3103.8" y="1039.1" font-size="14.70" fill="#c9960c" font-family="'Liberation Serif', serif" stroke-width="0">Deephome</text>
<text x="3216.9" y="1039.1" font-size="14.70" fill="#000000" font-family="'Liberation Serif', serif" text-anchor="middle" stroke-width="0">77.7<tspan style="font-size:.88em">±</tspan><tspan style="font-size:.72em">2.1</tspan></text>
<text x="3290.0" y="1039.1" font-size="14.70" fill="#000000" font-family="'Liberation Serif', serif" text-anchor="middle" stroke-width="0">11.0<tspan style="font-size:.88em">±</tspan><tspan style="font-size:.72em">4.2</tspan></text>
<text x="3355.5" y="1039.1" font-size="14.70" fill="#000000" font-family="'Liberation Serif', serif" text-anchor="middle" stroke-width="0">22.0<tspan style="font-size:.88em">±</tspan><tspan style="font-size:.72em">1.6</tspan></text>
<text x="3421.0" y="1039.1" font-size="14.70" fill="#000000" font-family="'Liberation Serif', serif" text-anchor="middle" stroke-width="0">24.0<tspan style="font-size:.88em">±</tspan><tspan style="font-size:.72em">5.7</tspan></text>
<text x="3489.9" y="1039.1" font-size="14.70" fill="#000000" font-family="'Liberation Serif', serif" text-anchor="middle" stroke-width="0">71.3<tspan style="font-size:.88em">±</tspan><tspan style="font-size:.72em">4.9</tspan></text>
<text x="3561.0" y="1039.1" font-size="14.70" fill="#000000" font-family="'Liberation Serif', serif" text-anchor="middle" stroke-width="0">75.0<tspan style="font-size:.88em">±</tspan><tspan style="font-size:.72em">8.7</tspan></text>
<text x="3632.7" y="1039.1" font-size="14.70" fill="#000000" font-family="'Liberation Serif', serif" text-anchor="middle" stroke-width="0">32.3<tspan style="font-size:.88em">±</tspan><tspan style="font-size:.72em">19.6</tspan></text>
<text x="3700.4" y="1039.1" font-size="14.70" fill="#000000" font-family="'Liberation Serif', serif" text-anchor="middle" stroke-width="0">22.3<tspan style="font-size:.88em">±</tspan><tspan style="font-size:.72em">1.7</tspan></text>
<text x="3769.6" y="1039.1" font-size="14.70" fill="#000000" font-family="'Liberation Serif', serif" text-anchor="middle" stroke-width="0">34.7<tspan style="font-size:.88em">±</tspan><tspan style="font-size:.72em">18.7</tspan></text>
<text x="3840.8" y="1039.1" font-size="14.70" fill="#000000" font-family="'Liberation Serif', serif" text-anchor="middle" stroke-width="0"><tspan text-decoration="underline">82.0<tspan style="font-size:.88em">±</tspan><tspan style="font-size:.72em">8.6</tspan></tspan></text>
<text x="3915.2" y="1039.1" font-size="14.70" fill="#000000" font-family="'Liberation Serif', serif" text-anchor="middle" stroke-width="0"><tspan font-weight="bold">114.7<tspan style="font-size:.88em">±</tspan><tspan style="font-size:.72em">27.8</tspan></tspan></text>
<line x1="3177.3" y1="1025.1" x2="3177.3" y2="1044.1" stroke="#333" stroke-width="1" />
<line x1="3256.4" y1="1025.1" x2="3256.4" y2="1044.1" stroke="#333" stroke-width="1" />
<line x1="3596.3" y1="1025.1" x2="3596.3" y2="1044.1" stroke="#333" stroke-width="1" />
<line x1="3103.8" y1="1047.8" x2="3946.0" y2="1047.8" stroke="#222" stroke-width="1" />
<text x="3103.8" y="1066.0" font-size="14.70" fill="#c9960c" font-family="'Liberation Serif', serif" stroke-width="0">Ludicorp</text>
<text x="3216.9" y="1066.0" font-size="14.70" fill="#000000" font-family="'Liberation Serif', serif" text-anchor="middle" stroke-width="0">78.8</text>
<text x="3290.0" y="1066.0" font-size="14.70" fill="#000000" font-family="'Liberation Serif', serif" text-anchor="middle" stroke-width="0">19.7<tspan style="font-size:.88em">±</tspan><tspan style="font-size:.72em">0.9</tspan></text>
<text x="3355.5" y="1066.0" font-size="14.70" fill="#000000" font-family="'Liberation Serif', serif" text-anchor="middle" stroke-width="0">21.7<tspan style="font-size:.88em">±</tspan><tspan style="font-size:.72em">1.2</tspan></text>
<text x="3421.0" y="1066.0" font-size="14.70" fill="#000000" font-family="'Liberation Serif', serif" text-anchor="middle" stroke-width="0">32.0<tspan style="font-size:.88em">±</tspan><tspan style="font-size:.72em">7.1</tspan></text>
<text x="3489.9" y="1066.0" font-size="14.70" fill="#000000" font-family="'Liberation Serif', serif" text-anchor="middle" stroke-width="0">28.3<tspan style="font-size:.88em">±</tspan><tspan style="font-size:.72em">11.3</tspan></text>
<text x="3561.0" y="1066.0" font-size="14.70" fill="#000000" font-family="'Liberation Serif', serif" text-anchor="middle" stroke-width="0">73.7<tspan style="font-size:.88em">±</tspan><tspan style="font-size:.72em">11.0</tspan></text>
<text x="3632.7" y="1066.0" font-size="14.70" fill="#000000" font-family="'Liberation Serif', serif" text-anchor="middle" stroke-width="0">31.0<tspan style="font-size:.88em">±</tspan><tspan style="font-size:.72em">2.8</tspan></text>
<text x="3700.4" y="1066.0" font-size="14.70" fill="#000000" font-family="'Liberation Serif', serif" text-anchor="middle" stroke-width="0">29.0<tspan style="font-size:.88em">±</tspan><tspan style="font-size:.72em">0.8</tspan></text>
<text x="3769.6" y="1066.0" font-size="14.70" fill="#000000" font-family="'Liberation Serif', serif" text-anchor="middle" stroke-width="0">31.7<tspan style="font-size:.88em">±</tspan><tspan style="font-size:.72em">0.5</tspan></text>
<text x="3840.8" y="1066.0" font-size="14.70" fill="#000000" font-family="'Liberation Serif', serif" text-anchor="middle" stroke-width="0"><tspan font-weight="bold">89.0<tspan style="font-size:.88em">±</tspan><tspan style="font-size:.72em">7.8</tspan></tspan></text>
<text x="3915.2" y="1066.0" font-size="14.70" fill="#000000" font-family="'Liberation Serif', serif" text-anchor="middle" stroke-width="0"><tspan text-decoration="underline">79.0<tspan style="font-size:.88em">±</tspan><tspan style="font-size:.72em">16.8</tspan></tspan></text>
<line x1="3177.3" y1="1052.0" x2="3177.3" y2="1071.0" stroke="#333" stroke-width="1" />
<line x1="3256.4" y1="1052.0" x2="3256.4" y2="1071.0" stroke="#333" stroke-width="1" />
<line x1="3596.3" y1="1052.0" x2="3596.3" y2="1071.0" stroke="#333" stroke-width="1" />
<line x1="3103.8" y1="1074.7" x2="3946.0" y2="1074.7" stroke="#222" stroke-width="1" />
<text x="3103.8" y="1092.9" font-size="14.70" fill="#c9960c" font-family="'Liberation Serif', serif" stroke-width="0">Balances</text>
<text x="3216.9" y="1092.9" font-size="14.70" fill="#000000" font-family="'Liberation Serif', serif" text-anchor="middle" stroke-width="0"><tspan text-decoration="underline">24</tspan></text>
<text x="3290.0" y="1092.9" font-size="14.70" fill="#000000" font-family="'Liberation Serif', serif" text-anchor="middle" stroke-width="0">10<tspan style="font-size:.88em">±</tspan><tspan style="font-size:.72em">0.0</tspan></text>
<text x="3355.5" y="1092.9" font-size="14.70" fill="#000000" font-family="'Liberation Serif', serif" text-anchor="middle" stroke-width="0">10<tspan style="font-size:.88em">±</tspan><tspan style="font-size:.72em">0.0</tspan></text>
<text x="3421.0" y="1092.9" font-size="14.70" fill="#000000" font-family="'Liberation Serif', serif" text-anchor="middle" stroke-width="0">11.7<tspan style="font-size:.88em">±</tspan><tspan style="font-size:.72em">2.4</tspan></text>
<text x="3489.9" y="1092.9" font-size="14.70" fill="#000000" font-family="'Liberation Serif', serif" text-anchor="middle" stroke-width="0">10.0<tspan style="font-size:.88em">±</tspan><tspan style="font-size:.72em">0.0</tspan></text>
<text x="3561.0" y="1092.9" font-size="14.70" fill="#000000" font-family="'Liberation Serif', serif" text-anchor="middle" stroke-width="0">16.7<tspan style="font-size:.88em">±</tspan><tspan style="font-size:.72em">2.4</tspan></text>
<text x="3632.7" y="1092.9" font-size="14.70" fill="#000000" font-family="'Liberation Serif', serif" text-anchor="middle" stroke-width="0">18.3<tspan style="font-size:.88em">±</tspan><tspan style="font-size:.72em">2.4</tspan></text>
<text x="3700.4" y="1092.9" font-size="14.70" fill="#000000" font-family="'Liberation Serif', serif" text-anchor="middle" stroke-width="0">18.3<tspan style="font-size:.88em">±</tspan><tspan style="font-size:.72em">2.4</tspan></text>
<text x="3769.6" y="1092.9" font-size="14.70" fill="#000000" font-family="'Liberation Serif', serif" text-anchor="middle" stroke-width="0">16.7<tspan style="font-size:.88em">±</tspan><tspan style="font-size:.72em">2.4</tspan></text>
<text x="3840.8" y="1092.9" font-size="14.70" fill="#000000" font-family="'Liberation Serif', serif" text-anchor="middle" stroke-width="0">16.7<tspan style="font-size:.88em">±</tspan><tspan style="font-size:.72em">2.4</tspan></text>
<text x="3915.2" y="1092.9" font-size="14.70" fill="#000000" font-family="'Liberation Serif', serif" text-anchor="middle" stroke-width="0"><tspan font-weight="bold">26.7<tspan style="font-size:.88em">±</tspan><tspan style="font-size:.72em">2.4</tspan></tspan></text>
<line x1="3177.3" y1="1078.9" x2="3177.3" y2="1097.9" stroke="#333" stroke-width="1" />
<line x1="3256.4" y1="1078.9" x2="3256.4" y2="1097.9" stroke="#333" stroke-width="1" />
<line x1="3596.3" y1="1078.9" x2="3596.3" y2="1097.9" stroke="#333" stroke-width="1" />
<line x1="3103.8" y1="1101.6" x2="3946.0" y2="1101.6" stroke="#222" stroke-width="1.5" />
<text x="2689.4" y="841.8" font-size="24.10" fill="#1b2c58" textLength="347.0" lengthAdjust="spacingAndGlyphs" stroke="#1b2c58" stroke-width="0.29"><tspan font-weight="bold">Results on Jericho Benchmark</tspan></text>
<text x="2714.8" y="873.0" font-size="24.10" fill="#1b2c58" textLength="272.4" lengthAdjust="spacingAndGlyphs" stroke="#1b2c58" stroke-width="0.29">With GPT-4.1-mini, GLoW</text>
<circle cx="2692.8" cy="864.0" r="3.3" fill="#1b2c58" />
<text x="2714.8" y="904.5" font-size="24.10" fill="#1b2c58" textLength="291.2" lengthAdjust="spacingAndGlyphs" stroke="#1b2c58" stroke-width="0.29">performs <tspan font-weight="bold">best among LLM</tspan></text>
<text x="2714.8" y="935.9" font-size="24.10" fill="#1b2c58" textLength="266.0" lengthAdjust="spacingAndGlyphs" stroke="#1b2c58" stroke-width="0.29"><tspan font-weight="bold">methods</tspan> on 7/10 games</text>
<text x="2714.8" y="967.4" font-size="24.10" fill="#1b2c58" textLength="345.2" lengthAdjust="spacingAndGlyphs" stroke="#1b2c58" stroke-width="0.29">Competitive with XTX (RL SOTA)</text>
<circle cx="2692.8" cy="958.4" r="3.3" fill="#1b2c58" />
<text x="2714.8" y="998.8" font-size="24.10" fill="#1b2c58" textLength="245.5" lengthAdjust="spacingAndGlyphs" stroke="#1b2c58" stroke-width="0.29">using <tspan font-weight="bold">100–800× fewer</tspan></text>
<text x="2714.8" y="1030.2" font-size="24.10" fill="#1b2c58" textLength="140.0" lengthAdjust="spacingAndGlyphs" stroke="#1b2c58" stroke-width="0.29"><tspan font-weight="bold">interactions</tspan></text>
<text x="2714.8" y="1061.4" font-size="24.10" fill="#1b2c58" textLength="364.9" lengthAdjust="spacingAndGlyphs" stroke="#1b2c58" stroke-width="0.29">We further evaluate with GPT-4.1,</text>
<circle cx="2692.8" cy="1052.4" r="3.3" fill="#1b2c58" />
<text x="2714.8" y="1092.7" font-size="24.10" fill="#1b2c58" textLength="328.2" lengthAdjust="spacingAndGlyphs" stroke="#1b2c58" stroke-width="0.29">where GLoW surpasses XTX on</text>
<text x="2714.8" y="1124.0" font-size="24.10" fill="#1b2c58" textLength="364.9" lengthAdjust="spacingAndGlyphs" stroke="#1b2c58" stroke-width="0.29">5/6 games, setting a <tspan font-weight="bold">new state of</tspan></text>
<text x="2714.8" y="1155.5" font-size="24.10" fill="#1b2c58" textLength="286.9" lengthAdjust="spacingAndGlyphs" stroke="#1b2c58" stroke-width="0.29"><tspan font-weight="bold">the art</tspan> across all methods</text>
<text x="2689.2" y="1298.3" font-size="24.10" fill="#1b2c58" textLength="159.6" lengthAdjust="spacingAndGlyphs" stroke="#1b2c58" stroke-width="0.29"><tspan font-weight="bold">Failure Modes</tspan></text>
<text x="2715.1" y="1329.4" font-size="24.10" fill="#1b2c58" textLength="428.5" lengthAdjust="spacingAndGlyphs" stroke="#1b2c58" stroke-width="0.29"><tspan font-weight="bold">Conservative state selection (Case 1)</tspan>:</text>
<circle cx="2692.6" cy="1320.4" r="3.3" fill="#1b2c58" />
<text x="2715.1" y="1360.9" font-size="24.10" fill="#1b2c58" textLength="417.9" lengthAdjust="spacingAndGlyphs" stroke="#1b2c58" stroke-width="0.29">Overprioritizing safety and early-game</text>
<text x="2715.1" y="1392.3" font-size="24.10" fill="#1b2c58" textLength="490.6" lengthAdjust="spacingAndGlyphs" stroke="#1b2c58" stroke-width="0.29">potential over deeper states with uncertainty</text>
<text x="2715.1" y="1423.5" font-size="24.10" fill="#1b2c58" textLength="449.1" lengthAdjust="spacingAndGlyphs" stroke="#1b2c58" stroke-width="0.29"><tspan font-weight="bold">Multi-step dependency failure (Case 2)</tspan>:</text>
<circle cx="2692.6" cy="1414.5" r="3.3" fill="#1b2c58" />
<text x="2715.1" y="1454.7" font-size="24.10" fill="#1b2c58" textLength="450.4" lengthAdjust="spacingAndGlyphs" stroke="#1b2c58" stroke-width="0.29">LLM handles few-step lookahead well but</text>
<text x="2715.1" y="1485.9" font-size="24.10" fill="#1b2c58" textLength="380.3" lengthAdjust="spacingAndGlyphs" stroke="#1b2c58" stroke-width="0.29">struggles with longer causal chains</text>
<text x="2689.2" y="1549.2" font-size="24.10" fill="#1b2c58" textLength="125.7" lengthAdjust="spacingAndGlyphs" stroke="#1b2c58" stroke-width="0.29"><tspan font-weight="bold">Conclusion</tspan></text>
<text x="2715.1" y="1580.2" font-size="24.10" fill="#1b2c58" textLength="448.6" lengthAdjust="spacingAndGlyphs" stroke="#1b2c58" stroke-width="0.29">GLoW is a Go-Explore based approach for</text>
<circle cx="2692.6" cy="1571.2" r="3.3" fill="#1b2c58" />
<text x="2715.1" y="1611.5" font-size="24.10" fill="#1b2c58" textLength="369.9" lengthAdjust="spacingAndGlyphs" stroke="#1b2c58" stroke-width="0.29">hard exploration with LLM agents.</text>
<text x="2715.1" y="1642.8" font-size="24.10" fill="#1b2c58" textLength="483.3" lengthAdjust="spacingAndGlyphs" stroke="#1b2c58" stroke-width="0.29">It leverages a dual-scale world memory, that</text>
<circle cx="2692.6" cy="1633.8" r="3.3" fill="#1b2c58" />
<text x="2715.1" y="1674.2" font-size="24.10" fill="#1b2c58" textLength="469.2" lengthAdjust="spacingAndGlyphs" stroke="#1b2c58" stroke-width="0.29">combines a global value decomposition for</text>
<text x="2715.1" y="1705.5" font-size="24.10" fill="#1b2c58" textLength="397.5" lengthAdjust="spacingAndGlyphs" stroke="#1b2c58" stroke-width="0.29">state selection, with local advantage</text>
<text x="2715.1" y="1737.0" font-size="24.10" fill="#1b2c58" textLength="275.2" lengthAdjust="spacingAndGlyphs" stroke="#1b2c58" stroke-width="0.29">inference for exploration.</text>
<text x="2715.1" y="1768.2" font-size="24.10" fill="#1b2c58" textLength="464.0" lengthAdjust="spacingAndGlyphs" stroke="#1b2c58" stroke-width="0.29">We establish new strong performance with</text>
<circle cx="2692.6" cy="1759.2" r="3.3" fill="#1b2c58" />
<text x="2715.1" y="1799.7" font-size="24.10" fill="#1b2c58" textLength="454.7" lengthAdjust="spacingAndGlyphs" stroke="#1b2c58" stroke-width="0.29">an LLM-based agent on Jericho, matching</text>
<text x="2715.1" y="1831.0" font-size="24.10" fill="#1b2c58" textLength="465.1" lengthAdjust="spacingAndGlyphs" stroke="#1b2c58" stroke-width="0.29">RL-based approaches with 100–800× fewer</text>
<text x="2715.1" y="1862.4" font-size="24.10" fill="#1b2c58" textLength="406.3" lengthAdjust="spacingAndGlyphs" stroke="#1b2c58" stroke-width="0.29">interactions and demonstrate further</text>
<text x="2715.1" y="1893.8" font-size="24.10" fill="#1b2c58" textLength="430.2" lengthAdjust="spacingAndGlyphs" stroke="#1b2c58" stroke-width="0.29">performance scaling with stronger LLM.</text>
<rect x="3233.3" y="1285.0" width="708.3" height="309.0" fill="#fafafa" />
<rect x="3233.3" y="1285.0" width="708.3" height="23.3" fill="#ebebeb" />
<path d="M3233.3 1594 V1285 H3941.6 V1594" fill="none" stroke="#c9c9c9" stroke-width="1.2" />
<line x1="3233.3" y1="1308.3" x2="3941.6" y2="1308.3" stroke="#d6d6d6" stroke-width="1" />
<text x="3259.4" y="1303.0" font-size="16.00" fill="#000000" font-family="'Liberation Serif', serif" textLength="97.1" lengthAdjust="spacingAndGlyphs" stroke-width="0"><tspan font-weight="bold">Case 1: Zork1</tspan></text>
<text x="3259.4" y="1331.8" font-size="16.00" fill="#000000" font-family="'Liberation Serif', serif" textLength="103.4" lengthAdjust="spacingAndGlyphs" stroke-width="0"><tspan font-weight="bold">Game Context:</tspan></text>
<circle cx="3262.0" cy="1345.3" r="1.9" fill="#000000" />
<text x="3274.0" y="1349.9" font-size="16.00" fill="#000000" font-family="'Liberation Serif', serif" textLength="598.1" lengthAdjust="spacingAndGlyphs" stroke-width="0">Reached deeper frontier states through Troll Room to Maze (score 50) and Chasm (score 45).</text>
<circle cx="3262.0" cy="1363.1" r="1.9" fill="#000000" />
<text x="3274.0" y="1367.7" font-size="16.00" fill="#000000" font-family="'Liberation Serif', serif" textLength="143.6" lengthAdjust="spacingAndGlyphs" stroke-width="0">State archive includes:</text>
<line x1="3273.8" y1="1381.6" x2="3281.8" y2="1381.6" stroke="#000000" stroke-width="1.5" />
<text x="3291.0" y="1385.8" font-size="16.00" fill="#000000" font-family="'Liberation Serif', serif" textLength="417.4" lengthAdjust="spacingAndGlyphs" stroke-width="0">State 72: Score 50, Location: Maze, Inventory: lantern, sword, ...</text>
<line x1="3273.8" y1="1399.4" x2="3281.8" y2="1399.4" stroke="#000000" stroke-width="1.5" />
<text x="3291.0" y="1403.6" font-size="16.00" fill="#000000" font-family="'Liberation Serif', serif" textLength="406.7" lengthAdjust="spacingAndGlyphs" stroke-width="0">State 58: Score 45, Location: Chasm, Inventory: lantern, sword</text>
<line x1="3273.8" y1="1417.2" x2="3281.8" y2="1417.2" stroke="#000000" stroke-width="1.5" />
<text x="3291.0" y="1421.4" font-size="16.00" fill="#000000" font-family="'Liberation Serif', serif" textLength="360.8" lengthAdjust="spacingAndGlyphs" stroke-width="0">State 37: Score 15, Location: Kitchen, Inventory: empty</text>
<text x="3259.4" y="1445.8" font-size="16.00" fill="#000000" font-family="'Liberation Serif', serif" textLength="135.8" lengthAdjust="spacingAndGlyphs" stroke-width="0"><tspan font-weight="bold">Observed Behavior:</tspan></text>
<text x="3259.4" y="1463.9" font-size="16.00" fill="#000000" font-family="'Liberation Serif', serif" textLength="164.0" lengthAdjust="spacingAndGlyphs" stroke-width="0"><tspan font-style="italic">Repetitive state selection:</tspan></text>
<circle cx="3262.0" cy="1477.4" r="1.9" fill="#000000" />
<text x="3274.0" y="1482.0" font-size="16.00" fill="#000000" font-family="'Liberation Serif', serif" textLength="232.7" lengthAdjust="spacingAndGlyphs" stroke-width="0">Selection Iter. 2: <tspan font-weight="bold">State 37</tspan> (score 15)</text>
<circle cx="3262.0" cy="1495.2" r="1.9" fill="#000000" />
<text x="3274.0" y="1499.8" font-size="16.00" fill="#000000" font-family="'Liberation Serif', serif" textLength="232.7" lengthAdjust="spacingAndGlyphs" stroke-width="0">Selection Iter. 3: <tspan font-weight="bold">State 37</tspan> (score 15)</text>
<circle cx="3262.0" cy="1513.1" r="1.9" fill="#000000" />
<text x="3274.0" y="1517.7" font-size="16.00" fill="#000000" font-family="'Liberation Serif', serif" textLength="232.7" lengthAdjust="spacingAndGlyphs" stroke-width="0">Selection Iter. 4: <tspan font-weight="bold">State 37</tspan> (score 15)</text>
<text x="3259.4" y="1542.0" font-size="16.00" fill="#000000" font-family="'Liberation Serif', serif" textLength="655.2" lengthAdjust="spacingAndGlyphs" stroke-width="0"><tspan font-weight="bold">Reasoning for state selection:</tspan>  <tspan font-style="italic">“State 37 is in the living room where the brass lantern and the elvish</tspan></text>
<text x="3259.4" y="1560.1" font-size="16.00" fill="#000000" font-family="'Liberation Serif', serif" textLength="655.2" lengthAdjust="spacingAndGlyphs" stroke-width="0"><tspan font-style="italic">sword are present.  Acquiring and activating these items is crucial for safe exploration...  This state</tspan></text>
<text x="3259.4" y="1578.2" font-size="16.00" fill="#000000" font-family="'Liberation Serif', serif" textLength="243.6" lengthAdjust="spacingAndGlyphs" stroke-width="0"><tspan font-style="italic">aligns well with investigation goals...”</tspan></text>
<rect x="3234.3" y="1631.0" width="707.3" height="249.6" fill="#fafafa" />
<rect x="3234.3" y="1631.0" width="707.3" height="26.7" fill="#ebebeb" />
<path d="M3234.3 1880.6 V1631 H3941.6 V1880.6" fill="none" stroke="#c9c9c9" stroke-width="1.2" />
<text x="3260.2" y="1648.8" font-size="16.00" fill="#000000" font-family="'Liberation Serif', serif" textLength="127.0" lengthAdjust="spacingAndGlyphs" stroke-width="0"><tspan font-weight="bold">Case 2: Deephome</tspan></text>
<text x="3260.2" y="1681.0" font-size="16.00" fill="#000000" font-family="'Liberation Serif', serif" textLength="104.0" lengthAdjust="spacingAndGlyphs" stroke-width="0"><tspan font-weight="bold">Game Context:</tspan></text>
<circle cx="3263.0" cy="1693.9" r="1.9" fill="#000000" />
<text x="3275.4" y="1698.5" font-size="16.00" fill="#000000" font-family="'Liberation Serif', serif" textLength="616.8" lengthAdjust="spacingAndGlyphs" stroke-width="0">Agent has activated the City Generator (+30 points), which powers the Railway Station controls.</text>
<circle cx="3263.0" cy="1711.2" r="1.9" fill="#000000" />
<text x="3275.4" y="1715.8" font-size="16.00" fill="#000000" font-family="'Liberation Serif', serif" textLength="619.7" lengthAdjust="spacingAndGlyphs" stroke-width="0">Further progress requires using the Railway to access intermediate areas (Blacksmith, Waterfall).</text>
<text x="3260.2" y="1740.7" font-size="16.00" fill="#000000" font-family="'Liberation Serif', serif" textLength="135.9" lengthAdjust="spacingAndGlyphs" stroke-width="0"><tspan font-weight="bold">Observed Behavior:</tspan></text>
<circle cx="3263.0" cy="1753.9" r="1.9" fill="#000000" />
<text x="3275.4" y="1758.5" font-size="16.00" fill="#000000" font-family="'Liberation Serif', serif" textLength="333.9" lengthAdjust="spacingAndGlyphs" stroke-width="0">Step 827: Activates generator (+30 points, score 65)</text>
<text x="3260.2" y="1776.6" font-size="16.00" fill="#000000" font-family="'Liberation Serif', serif" textLength="274.9" lengthAdjust="spacingAndGlyphs" stroke-width="0"><tspan font-style="italic">Failed subsequent multi-stage progression:</tspan></text>
<circle cx="3263.0" cy="1789.4" r="1.9" fill="#000000" />
<text x="3275.4" y="1794.0" font-size="16.00" fill="#000000" font-family="'Liberation Serif', serif" textLength="105.5" lengthAdjust="spacingAndGlyphs" stroke-width="0">Steps 828–1000:</text>
<line x1="3275.2" y1="1807.8" x2="3283.2" y2="1807.8" stroke="#000000" stroke-width="1.5" />
<text x="3292.4" y="1812.0" font-size="16.00" fill="#000000" font-family="'Liberation Serif', serif" textLength="156.6" lengthAdjust="spacingAndGlyphs" stroke-width="0">Railway Station visits: <tspan font-weight="bold">0</tspan></text>
<line x1="3275.2" y1="1825.2" x2="3283.2" y2="1825.2" stroke="#000000" stroke-width="1.5" />
<text x="3292.4" y="1829.4" font-size="16.00" fill="#000000" font-family="'Liberation Serif', serif" textLength="127.3" lengthAdjust="spacingAndGlyphs" stroke-width="0">Blacksmith visits: <tspan font-weight="bold">0</tspan></text>
<line x1="3275.2" y1="1842.9" x2="3283.2" y2="1842.9" stroke="#000000" stroke-width="1.5" />
<text x="3292.4" y="1847.1" font-size="16.00" fill="#000000" font-family="'Liberation Serif', serif" textLength="113.5" lengthAdjust="spacingAndGlyphs" stroke-width="0">Waterfall visits: <tspan font-weight="bold">0</tspan></text>
<line x1="3275.2" y1="1860.6" x2="3283.2" y2="1860.6" stroke="#000000" stroke-width="1.5" />
<text x="3292.4" y="1864.8" font-size="16.00" fill="#000000" font-family="'Liberation Serif', serif" textLength="277.2" lengthAdjust="spacingAndGlyphs" stroke-width="0">Water Works: 2 attempts at wheel, both fail</text>
<g>
<polygon points="33.2,59.1 93.5,119.2 104.1,108.7 44.9,47.5" fill="#1d2f5f" />
<circle cx="39.1" cy="53.3" r="8.2" fill="#1d2f5f" />
<polygon points="166.3,179.4 207.9,212.5 209.0,211.5 173.9,171.5" fill="#1d2f5f" />
<line x1="32.8" y1="48.0" x2="89.9" y2="105.0" stroke="#fff" stroke-width="0.7" />
<line x1="32.8" y1="68.5" x2="52.4" y2="68.5" stroke="#fff" stroke-width="0.7" />
<polygon points="44.3,217.9 77.1,183.9 70.5,177.8 39.2,213.2" fill="#1d2f5f" />
<polygon points="152.4,113.5 185.8,82.7 174.1,70.3 141.4,101.9" fill="#1d2f5f" />
<polygon points="174.0,97.1 199.1,75.9 182.1,57.5 159.1,80.9" fill="#1d2f5f" />
<polygon points="157.0,78.8 173.1,96.7 174.3,95.6 158.2,77.8" fill="#fff" />
<polygon points="160.7,75.1 176.8,93.0 177.7,92.2 161.6,74.3" fill="#fff" />
<path d="M176.3 31.4 C193.3 33.7 213.8 41.7 212.5 57.8 C211.1 68.5 202.2 72.9 196.0 68.5 C188.8 63.1 179.9 56.9 182.6 48.9 C176.3 43.5 174.6 37.3 176.3 31.4 Z" fill="#1d2f5f" />
<path d="M190.6 53.3 A5 5 0 1 1 198.6 59.6" fill="none" stroke="#fff" stroke-width="1.6" />
<polyline points="113.5,215.9 107.6,215.0 101.7,213.7 96.0,212.1 90.3,210.0 84.8,207.5 79.6,204.6 74.5,201.4 69.7,197.8 65.1,193.8 60.9,189.6 57.0,185.1 53.4,180.3 50.1,175.2 47.2,169.9 44.7,164.5 42.6,158.8 40.9,153.1 39.7,147.2 38.8,141.2 38.4,135.2 38.4,129.2 38.8,123.2 39.7,117.3 41.0,111.4 42.7,105.7 44.8,100.0 47.3,94.6 50.2,89.3 53.4,84.3 57.0,79.4 61.0,74.9 65.3,70.7 69.8,66.8 74.6,63.2 79.7,59.9 85.0,57.1 90.5,54.6 96.1,52.5 101.9,50.8 107.7,49.6" fill="none" stroke="#1d2f5f" stroke-width="2"/>
<path d="M-10.5 0 Q0 -8.8 10.5 0 Q0 8.8 -10.5 0Z" fill="#1d2f5f" stroke="#fff" stroke-width="0.8" transform="translate(107.9 223.2) rotate(-211.0)"/>
<path d="M-9.5 0 Q0 -8.2 9.5 0 Q0 8.2 -9.5 0Z" fill="#1d2f5f" stroke="#fff" stroke-width="0.8" transform="translate(110.4 207.9) rotate(-135.0)"/>
<path d="M-10.5 0 Q0 -8.8 10.5 0 Q0 8.8 -10.5 0Z" fill="#1d2f5f" stroke="#fff" stroke-width="0.8" transform="translate(92.4 219.3) rotate(-201.0)"/>
<path d="M-9.5 0 Q0 -8.2 9.5 0 Q0 8.2 -9.5 0Z" fill="#1d2f5f" stroke="#fff" stroke-width="0.8" transform="translate(97.4 204.6) rotate(-125.0)"/>
<path d="M-10.5 0 Q0 -8.8 10.5 0 Q0 8.8 -10.5 0Z" fill="#1d2f5f" stroke="#fff" stroke-width="0.8" transform="translate(77.7 212.8) rotate(-191.0)"/>
<path d="M-9.5 0 Q0 -8.2 9.5 0 Q0 8.2 -9.5 0Z" fill="#1d2f5f" stroke="#fff" stroke-width="0.8" transform="translate(85.2 199.2) rotate(-115.0)"/>
<path d="M-10.5 0 Q0 -8.8 10.5 0 Q0 8.8 -10.5 0Z" fill="#1d2f5f" stroke="#fff" stroke-width="0.8" transform="translate(64.4 203.8) rotate(-181.0)"/>
<path d="M-9.5 0 Q0 -8.2 9.5 0 Q0 8.2 -9.5 0Z" fill="#1d2f5f" stroke="#fff" stroke-width="0.8" transform="translate(74.2 191.8) rotate(-105.0)"/>
<path d="M-10.5 0 Q0 -8.8 10.5 0 Q0 8.8 -10.5 0Z" fill="#1d2f5f" stroke="#fff" stroke-width="0.8" transform="translate(52.9 192.7) rotate(-171.0)"/>
<path d="M-9.5 0 Q0 -8.2 9.5 0 Q0 8.2 -9.5 0Z" fill="#1d2f5f" stroke="#fff" stroke-width="0.8" transform="translate(64.6 182.5) rotate(-95.0)"/>
<path d="M-10.5 0 Q0 -8.8 10.5 0 Q0 8.8 -10.5 0Z" fill="#1d2f5f" stroke="#fff" stroke-width="0.8" transform="translate(43.5 179.7) rotate(-161.0)"/>
<path d="M-9.5 0 Q0 -8.2 9.5 0 Q0 8.2 -9.5 0Z" fill="#1d2f5f" stroke="#fff" stroke-width="0.8" transform="translate(56.8 171.7) rotate(-85.0)"/>
<path d="M-10.5 0 Q0 -8.8 10.5 0 Q0 8.8 -10.5 0Z" fill="#1d2f5f" stroke="#fff" stroke-width="0.8" transform="translate(36.4 165.3) rotate(-151.0)"/>
<path d="M-9.5 0 Q0 -8.2 9.5 0 Q0 8.2 -9.5 0Z" fill="#1d2f5f" stroke="#fff" stroke-width="0.8" transform="translate(50.9 159.7) rotate(-75.0)"/>
<path d="M-10.5 0 Q0 -8.8 10.5 0 Q0 8.8 -10.5 0Z" fill="#1d2f5f" stroke="#fff" stroke-width="0.8" transform="translate(32.0 149.9) rotate(-141.0)"/>
<path d="M-9.5 0 Q0 -8.2 9.5 0 Q0 8.2 -9.5 0Z" fill="#1d2f5f" stroke="#fff" stroke-width="0.8" transform="translate(47.2 146.9) rotate(-65.0)"/>
<path d="M-10.5 0 Q0 -8.8 10.5 0 Q0 8.8 -10.5 0Z" fill="#1d2f5f" stroke="#fff" stroke-width="0.8" transform="translate(30.3 133.9) rotate(-131.0)"/>
<path d="M-9.5 0 Q0 -8.2 9.5 0 Q0 8.2 -9.5 0Z" fill="#1d2f5f" stroke="#fff" stroke-width="0.8" transform="translate(45.8 133.6) rotate(-55.0)"/>
<path d="M-10.5 0 Q0 -8.8 10.5 0 Q0 8.8 -10.5 0Z" fill="#1d2f5f" stroke="#fff" stroke-width="0.8" transform="translate(31.5 117.9) rotate(-121.0)"/>
<path d="M-9.5 0 Q0 -8.2 9.5 0 Q0 8.2 -9.5 0Z" fill="#1d2f5f" stroke="#fff" stroke-width="0.8" transform="translate(46.8 120.3) rotate(-45.0)"/>
<path d="M-10.5 0 Q0 -8.8 10.5 0 Q0 8.8 -10.5 0Z" fill="#1d2f5f" stroke="#fff" stroke-width="0.8" transform="translate(35.3 102.4) rotate(-111.0)"/>
<path d="M-9.5 0 Q0 -8.2 9.5 0 Q0 8.2 -9.5 0Z" fill="#1d2f5f" stroke="#fff" stroke-width="0.8" transform="translate(50.0 107.4) rotate(-35.0)"/>
<path d="M-10.5 0 Q0 -8.8 10.5 0 Q0 8.8 -10.5 0Z" fill="#1d2f5f" stroke="#fff" stroke-width="0.8" transform="translate(41.9 87.7) rotate(-101.0)"/>
<path d="M-9.5 0 Q0 -8.2 9.5 0 Q0 8.2 -9.5 0Z" fill="#1d2f5f" stroke="#fff" stroke-width="0.8" transform="translate(55.4 95.2) rotate(-25.0)"/>
<path d="M-10.5 0 Q0 -8.8 10.5 0 Q0 8.8 -10.5 0Z" fill="#1d2f5f" stroke="#fff" stroke-width="0.8" transform="translate(50.8 74.4) rotate(-91.0)"/>
<path d="M-9.5 0 Q0 -8.2 9.5 0 Q0 8.2 -9.5 0Z" fill="#1d2f5f" stroke="#fff" stroke-width="0.8" transform="translate(62.9 84.2) rotate(-15.0)"/>
<path d="M-10.5 0 Q0 -8.8 10.5 0 Q0 8.8 -10.5 0Z" fill="#1d2f5f" stroke="#fff" stroke-width="0.8" transform="translate(62.0 62.9) rotate(-81.0)"/>
<path d="M-9.5 0 Q0 -8.2 9.5 0 Q0 8.2 -9.5 0Z" fill="#1d2f5f" stroke="#fff" stroke-width="0.8" transform="translate(72.1 74.6) rotate(-5.0)"/>
<path d="M-10.5 0 Q0 -8.8 10.5 0 Q0 8.8 -10.5 0Z" fill="#1d2f5f" stroke="#fff" stroke-width="0.8" transform="translate(74.9 53.5) rotate(-71.0)"/>
<path d="M-9.5 0 Q0 -8.2 9.5 0 Q0 8.2 -9.5 0Z" fill="#1d2f5f" stroke="#fff" stroke-width="0.8" transform="translate(82.9 66.7) rotate(5.0)"/>
<path d="M-10.5 0 Q0 -8.8 10.5 0 Q0 8.8 -10.5 0Z" fill="#1d2f5f" stroke="#fff" stroke-width="0.8" transform="translate(89.4 46.4) rotate(-61.0)"/>
<path d="M-9.5 0 Q0 -8.2 9.5 0 Q0 8.2 -9.5 0Z" fill="#1d2f5f" stroke="#fff" stroke-width="0.8" transform="translate(94.9 60.9) rotate(15.0)"/>
<path d="M-10.5 0 Q0 -8.8 10.5 0 Q0 8.8 -10.5 0Z" fill="#1d2f5f" stroke="#fff" stroke-width="0.8" transform="translate(104.8 42.0) rotate(-51.0)"/>
<path d="M-9.5 0 Q0 -8.2 9.5 0 Q0 8.2 -9.5 0Z" fill="#1d2f5f" stroke="#fff" stroke-width="0.8" transform="translate(107.7 57.2) rotate(25.0)"/>
<polyline points="131.1,215.9 137.1,215.0 142.9,213.7 148.7,212.1 154.3,210.0 159.8,207.5 165.1,204.6 170.1,201.4 175.0,197.8 179.5,193.8 183.8,189.6 187.7,185.1 191.3,180.3 194.6,175.2 197.4,169.9 199.9,164.5 202.0,158.8 203.7,153.1 205.0,147.2 205.9,141.2 206.3,135.2 206.3,129.2 205.8,123.2 205.0,117.3 203.7,111.4 202.0,105.7 199.9,100.0 197.4,94.6 194.5,89.3 191.2,84.3 187.6,79.4 183.7,74.9 179.4,70.7 174.8,66.8 170.0,63.2 165.0,59.9 159.7,57.1 154.2,54.6 148.6,52.5 142.8,50.8 136.9,49.6" fill="none" stroke="#1d2f5f" stroke-width="2"/>
<path d="M-10.5 0 Q0 -8.8 10.5 0 Q0 8.8 -10.5 0Z" fill="#1d2f5f" stroke="#fff" stroke-width="0.8" transform="translate(136.7 223.2) rotate(31.0)"/>
<path d="M-9.5 0 Q0 -8.2 9.5 0 Q0 8.2 -9.5 0Z" fill="#1d2f5f" stroke="#fff" stroke-width="0.8" transform="translate(134.3 207.9) rotate(-45.0)"/>
<path d="M-10.5 0 Q0 -8.8 10.5 0 Q0 8.8 -10.5 0Z" fill="#1d2f5f" stroke="#fff" stroke-width="0.8" transform="translate(152.3 219.3) rotate(21.0)"/>
<path d="M-9.5 0 Q0 -8.2 9.5 0 Q0 8.2 -9.5 0Z" fill="#1d2f5f" stroke="#fff" stroke-width="0.8" transform="translate(147.2 204.6) rotate(-55.0)"/>
<path d="M-10.5 0 Q0 -8.8 10.5 0 Q0 8.8 -10.5 0Z" fill="#1d2f5f" stroke="#fff" stroke-width="0.8" transform="translate(166.9 212.8) rotate(11.0)"/>
<path d="M-9.5 0 Q0 -8.2 9.5 0 Q0 8.2 -9.5 0Z" fill="#1d2f5f" stroke="#fff" stroke-width="0.8" transform="translate(159.4 199.2) rotate(-65.0)"/>
<path d="M-10.5 0 Q0 -8.8 10.5 0 Q0 8.8 -10.5 0Z" fill="#1d2f5f" stroke="#fff" stroke-width="0.8" transform="translate(180.2 203.8) rotate(1.0)"/>
<path d="M-9.5 0 Q0 -8.2 9.5 0 Q0 8.2 -9.5 0Z" fill="#1d2f5f" stroke="#fff" stroke-width="0.8" transform="translate(170.5 191.8) rotate(-75.0)"/>
<path d="M-10.5 0 Q0 -8.8 10.5 0 Q0 8.8 -10.5 0Z" fill="#1d2f5f" stroke="#fff" stroke-width="0.8" transform="translate(191.8 192.7) rotate(-9.0)"/>
<path d="M-9.5 0 Q0 -8.2 9.5 0 Q0 8.2 -9.5 0Z" fill="#1d2f5f" stroke="#fff" stroke-width="0.8" transform="translate(180.1 182.5) rotate(-85.0)"/>
<path d="M-10.5 0 Q0 -8.8 10.5 0 Q0 8.8 -10.5 0Z" fill="#1d2f5f" stroke="#fff" stroke-width="0.8" transform="translate(201.2 179.7) rotate(-19.0)"/>
<path d="M-9.5 0 Q0 -8.2 9.5 0 Q0 8.2 -9.5 0Z" fill="#1d2f5f" stroke="#fff" stroke-width="0.8" transform="translate(187.9 171.7) rotate(-95.0)"/>
<path d="M-10.5 0 Q0 -8.8 10.5 0 Q0 8.8 -10.5 0Z" fill="#1d2f5f" stroke="#fff" stroke-width="0.8" transform="translate(208.2 165.3) rotate(-29.0)"/>
<path d="M-9.5 0 Q0 -8.2 9.5 0 Q0 8.2 -9.5 0Z" fill="#1d2f5f" stroke="#fff" stroke-width="0.8" transform="translate(193.7 159.7) rotate(-105.0)"/>
<path d="M-10.5 0 Q0 -8.8 10.5 0 Q0 8.8 -10.5 0Z" fill="#1d2f5f" stroke="#fff" stroke-width="0.8" transform="translate(212.6 149.9) rotate(-39.0)"/>
<path d="M-9.5 0 Q0 -8.2 9.5 0 Q0 8.2 -9.5 0Z" fill="#1d2f5f" stroke="#fff" stroke-width="0.8" transform="translate(197.4 146.9) rotate(-115.0)"/>
<path d="M-10.5 0 Q0 -8.8 10.5 0 Q0 8.8 -10.5 0Z" fill="#1d2f5f" stroke="#fff" stroke-width="0.8" transform="translate(214.3 133.9) rotate(-49.0)"/>
<path d="M-9.5 0 Q0 -8.2 9.5 0 Q0 8.2 -9.5 0Z" fill="#1d2f5f" stroke="#fff" stroke-width="0.8" transform="translate(198.8 133.6) rotate(-125.0)"/>
<path d="M-10.5 0 Q0 -8.8 10.5 0 Q0 8.8 -10.5 0Z" fill="#1d2f5f" stroke="#fff" stroke-width="0.8" transform="translate(213.2 117.9) rotate(-59.0)"/>
<path d="M-9.5 0 Q0 -8.2 9.5 0 Q0 8.2 -9.5 0Z" fill="#1d2f5f" stroke="#fff" stroke-width="0.8" transform="translate(197.9 120.3) rotate(-135.0)"/>
<path d="M-10.5 0 Q0 -8.8 10.5 0 Q0 8.8 -10.5 0Z" fill="#1d2f5f" stroke="#fff" stroke-width="0.8" transform="translate(209.3 102.4) rotate(-69.0)"/>
<path d="M-9.5 0 Q0 -8.2 9.5 0 Q0 8.2 -9.5 0Z" fill="#1d2f5f" stroke="#fff" stroke-width="0.8" transform="translate(194.7 107.4) rotate(-145.0)"/>
<path d="M-10.5 0 Q0 -8.8 10.5 0 Q0 8.8 -10.5 0Z" fill="#1d2f5f" stroke="#fff" stroke-width="0.8" transform="translate(202.8 87.7) rotate(-79.0)"/>
<path d="M-9.5 0 Q0 -8.2 9.5 0 Q0 8.2 -9.5 0Z" fill="#1d2f5f" stroke="#fff" stroke-width="0.8" transform="translate(189.2 95.2) rotate(-155.0)"/>
<path d="M-10.5 0 Q0 -8.8 10.5 0 Q0 8.8 -10.5 0Z" fill="#1d2f5f" stroke="#fff" stroke-width="0.8" transform="translate(193.8 74.4) rotate(-89.0)"/>
<path d="M-9.5 0 Q0 -8.2 9.5 0 Q0 8.2 -9.5 0Z" fill="#1d2f5f" stroke="#fff" stroke-width="0.8" transform="translate(181.8 84.2) rotate(-165.0)"/>
<path d="M-10.5 0 Q0 -8.8 10.5 0 Q0 8.8 -10.5 0Z" fill="#1d2f5f" stroke="#fff" stroke-width="0.8" transform="translate(182.7 62.9) rotate(-99.0)"/>
<path d="M-9.5 0 Q0 -8.2 9.5 0 Q0 8.2 -9.5 0Z" fill="#1d2f5f" stroke="#fff" stroke-width="0.8" transform="translate(172.5 74.6) rotate(-175.0)"/>
<path d="M-10.5 0 Q0 -8.8 10.5 0 Q0 8.8 -10.5 0Z" fill="#1d2f5f" stroke="#fff" stroke-width="0.8" transform="translate(169.7 53.5) rotate(-109.0)"/>
<path d="M-9.5 0 Q0 -8.2 9.5 0 Q0 8.2 -9.5 0Z" fill="#1d2f5f" stroke="#fff" stroke-width="0.8" transform="translate(161.7 66.7) rotate(-185.0)"/>
<path d="M-10.5 0 Q0 -8.8 10.5 0 Q0 8.8 -10.5 0Z" fill="#1d2f5f" stroke="#fff" stroke-width="0.8" transform="translate(155.3 46.4) rotate(-119.0)"/>
<path d="M-9.5 0 Q0 -8.2 9.5 0 Q0 8.2 -9.5 0Z" fill="#1d2f5f" stroke="#fff" stroke-width="0.8" transform="translate(149.7 60.9) rotate(-195.0)"/>
<path d="M-10.5 0 Q0 -8.8 10.5 0 Q0 8.8 -10.5 0Z" fill="#1d2f5f" stroke="#fff" stroke-width="0.8" transform="translate(139.9 42.0) rotate(-129.0)"/>
<path d="M-9.5 0 Q0 -8.2 9.5 0 Q0 8.2 -9.5 0Z" fill="#1d2f5f" stroke="#fff" stroke-width="0.8" transform="translate(136.9 57.2) rotate(-205.0)"/>
<rect x="120.5" y="211.1" width="3.4" height="11" fill="#1d2f5f"/>
<rect x="72.4" y="118.0" width="99.1" height="75.6" fill="#1d2f5f" />
<path d="M114.8 193.3 L122.0 197.2 L129.1 193.3 Z" fill="#1d2f5f" />
<path d="M77.4 120.2 V186.2 H119.3 L122.0 188.8 L124.6 186.2 H166.5 V120.2" fill="none" stroke="#fff" stroke-width="0.9" />
<line x1="122.0" y1="129.1" x2="122.0" y2="188.8" stroke="#fff" stroke-width="0.9" />
<rect x="65.8" y="130.0" width="6.0" height="6.2" fill="#1d2f5f" />
<rect x="171.5" y="130.0" width="6.0" height="6.2" fill="#1d2f5f" />
<rect x="65.8" y="166.5" width="6.0" height="6.2" fill="#1d2f5f" />
<rect x="171.9" y="166.5" width="6.0" height="6.2" fill="#1d2f5f" />
<text x="85.4" y="152.3" font-size="18.60" fill="#fff" textLength="33.0" lengthAdjust="spacingAndGlyphs" stroke-width="0"><tspan font-weight="bold">VERI</tspan></text>
<text x="88.1" y="171.9" font-size="18.60" fill="#fff" textLength="28.5" lengthAdjust="spacingAndGlyphs" stroke-width="0"><tspan font-weight="bold">TAS</tspan></text>
<text x="127.3" y="152.3" font-size="18.60" fill="#fff" textLength="30.7" lengthAdjust="spacingAndGlyphs" stroke-width="0"><tspan font-weight="bold">LUX</tspan></text>
<text x="126.4" y="171.9" font-size="18.60" fill="#fff" textLength="33.9" lengthAdjust="spacingAndGlyphs" stroke-width="0"><tspan font-weight="bold">MEA</tspan></text>
<path d="M97.9 58.7 H146.0 V107.7 A24.1 24.1 0 0 1 97.9 107.7 Z" fill="#1d2f5f" stroke="#fff" stroke-width="1.2" />
<polygon points="108.6,65.8 131.8,65.8 131.8,76.5 138.9,76.5 138.9,81.9 131.8,81.9 131.8,87.2 138.0,87.2 138.0,93.4 131.8,93.4 131.8,119.3 125.5,119.3 117.5,112.2 108.6,117.5 104.1,111.3 116.6,102.4 123.8,107.7 123.8,72.4 108.6,72.4" fill="#fff"/>
</g>
<text x="3620.7" y="136.0" font-size="106.50" fill="#37474f" textLength="313.5" lengthAdjust="spacingAndGlyphs" stroke="#37474f" stroke-width="6" stroke-linejoin="miter"><tspan font-weight="bold">ICLR</tspan></text>
<rect x="3624.7" y="148.1" width="316.6" height="2.8" fill="#37474f" />
<text x="3625.3" y="176.9" font-size="20.50" fill="#6b7a81" textLength="317.4" lengthAdjust="spacingAndGlyphs" stroke-width="0">International Conference On</text>
<text x="3625.3" y="203.3" font-size="20.50" fill="#6b7a81" textLength="275.8" lengthAdjust="spacingAndGlyphs" stroke-width="0">Learning Representations</text>
<polygon points="3453.8,70.1 3465.8,66.8 3477.9,65.6 3488.0,66.3 3497.5,68.6 3507.1,73.1 3515.5,79.2 3526.1,89.7 3529.1,95.7 3539.1,101.1 3571.2,113.8 3563.0,129.6 3568.2,136.4 3566.7,140.9 3570.5,145.4 3570.5,151.4 3568.2,157.5 3575.8,168.0 3577.3,172.5 3572.8,180.1 3560.7,187.6 3545.7,195.1 3536.6,202.7 3531.4,211.7 3534.2,199.7 3536.6,190.6 3536.6,171.0 3542.7,171.0 3542.7,153.0 3533.6,151.4 3533.6,142.4 3536.6,139.4 3536.6,133.4 3530.6,130.4 3530.6,121.3 3521.6,119.8 3520.1,110.8 3511.0,103.3 3511.0,94.2 3500.5,92.7 3495.9,88.2 3495.9,79.9 3476.4,78.4 3470.4,74.6" fill="#464f5f"/>
<rect x="3500.0" y="79.1" width="4.9" height="4.9" fill="#fff" />
<rect x="3518.1" y="97.7" width="6.8" height="6.8" fill="#fff" />
<rect x="3536.5" y="141.2" width="4.1" height="4.1" fill="#fff" />
<rect x="3544.8" y="172.8" width="7.6" height="7.6" fill="#fff" />
<rect x="3525.8" y="154.6" width="7.6" height="7.6" fill="#464f5f" />
<line x1="3416.8" y1="108.7" x2="3425.0" y2="101.1" stroke="#d9e021" stroke-width="2" />
<line x1="3412.8" y1="135.9" x2="3401.9" y2="146.7" stroke="#d5de24" stroke-width="2" />
<line x1="3441.3" y1="135.1" x2="3463.0" y2="114.1" stroke="#a8cf38" stroke-width="2" />
<line x1="3471.2" y1="132.3" x2="3490.2" y2="114.1" stroke="#7ac143" stroke-width="2" />
<line x1="3476.6" y1="153.5" x2="3495.7" y2="134.5" stroke="#5bb947" stroke-width="2" />
<line x1="3453.0" y1="150.8" x2="3470.7" y2="132.6" stroke="#8cc63f" stroke-width="2" />
<line x1="3500.5" y1="156.2" x2="3514.7" y2="142.7" stroke="#3fb8a0" stroke-width="2" />
<line x1="3435.3" y1="186.7" x2="3452.2" y2="170.7" stroke="#62bb46" stroke-width="2" />
<line x1="3462.5" y1="188.9" x2="3478.0" y2="175.3" stroke="#3fb8a0" stroke-width="2" />
<line x1="3517.4" y1="172.6" x2="3503.8" y2="187.5" stroke="#29b6e8" stroke-width="2" />
<rect x="3425.0" y="74.7" width="5.4" height="5.4" fill="#d9e021" />
<rect x="3444.0" y="71.5" width="2.7" height="2.7" fill="#d9e021" />
<rect x="3432.1" y="83.2" width="7.6" height="7.6" fill="#d0dc27" />
<rect x="3448.4" y="79.1" width="10.3" height="10.3" fill="#c8d92b" />
<rect x="3465.5" y="85.3" width="6.0" height="6.0" fill="#bdd531" />
<rect x="3478.3" y="84.5" width="10.3" height="10.3" fill="#a3cd3a" />
<rect x="3412.8" y="104.6" width="8.2" height="8.2" fill="#d9e021" />
<rect x="3437.2" y="97.8" width="13.6" height="13.6" fill="#cdda29" />
<rect x="3458.3" y="98.5" width="17.7" height="17.7" fill="#a8cf38" />
<rect x="3485.1" y="102.2" width="15.8" height="15.8" fill="#85c441" />
<rect x="3506.2" y="112.2" width="4.9" height="4.9" fill="#6cbf4b" />
<rect x="3423.9" y="121.2" width="4.9" height="4.9" fill="#d5de24" />
<rect x="3438.3" y="117.7" width="4.9" height="4.9" fill="#c8d92b" />
<rect x="3407.6" y="130.7" width="10.3" height="10.3" fill="#d5de24" />
<rect x="3435.6" y="129.3" width="11.4" height="11.4" fill="#a8cf38" />
<rect x="3463.7" y="124.9" width="14.9" height="14.9" fill="#7ac143" />
<rect x="3488.2" y="127.0" width="14.9" height="14.9" fill="#5bb947" />
<rect x="3518.1" y="127.0" width="6.8" height="6.8" fill="#41bf9a" />
<rect x="3423.5" y="146.9" width="4.1" height="4.1" fill="#c8d92b" />
<rect x="3449.5" y="146.7" width="8.2" height="8.2" fill="#8cc63f" />
<rect x="3471.2" y="148.1" width="10.9" height="10.9" fill="#5cb948" />
<rect x="3494.4" y="150.1" width="12.2" height="12.2" fill="#3fb8a0" />
<rect x="3511.7" y="139.7" width="6.0" height="6.0" fill="#41bf9a" />
<rect x="3448.8" y="167.3" width="6.8" height="6.8" fill="#6cbf4b" />
<rect x="3471.2" y="167.1" width="13.6" height="13.6" fill="#3fb8a0" />
<rect x="3495.1" y="170.4" width="5.4" height="5.4" fill="#29b6e8" />
<rect x="3511.3" y="166.4" width="12.2" height="12.2" fill="#29b6e8" />
<rect x="3428.8" y="180.2" width="13.0" height="13.0" fill="#62bb46" />
<rect x="3459.1" y="185.5" width="6.8" height="6.8" fill="#3fb8a0" />
<rect x="3500.8" y="184.5" width="6.0" height="6.0" fill="#29b6e8" />
<rect x="3519.8" y="185.1" width="4.9" height="4.9" fill="#29b6e8" />
<rect x="3399.7" y="144.6" width="4.3" height="4.3" fill="#d9e021" />
<rect x="3423.1" y="99.2" width="3.8" height="3.8" fill="#d9e021" />
<defs><marker id="mo" viewBox="0 0 10 10" refX="9" refY="5" markerWidth="7" markerHeight="7" orient="auto-start-reverse"><path d="M1,1 L9,5 L1,9" fill="none" stroke="context-stroke" stroke-width="1.4"/></marker></defs>
<g font-style="italic">
<text x="1061.0" y="382.0" font-size="8.60" fill="#222" text-anchor="middle" stroke-width="0"><tspan font-weight="bold">ZORK I: Complete Game Map</tspan></text>
<text x="1060.0" y="390.0" font-size="4.40" fill="#666" text-anchor="middle" stroke-width="0">All Locations &amp; Connections</text>
<rect x="854.1" y="395.3" width="456.9" height="61.2" fill="#f3f7ff" stroke="#cfe0fb" stroke-width="0.8" rx="8" />
<text x="857.4" y="401.5" font-size="5.40" fill="#2563eb" textLength="41.0" lengthAdjust="spacingAndGlyphs" stroke-width="0"><tspan font-weight="bold">Above Ground</tspan></text>
<rect x="854.1" y="521.4" width="192.5" height="178.9" fill="#fff4e8" stroke="#fde3c7" stroke-width="0.8" rx="8" />
<text x="857.4" y="527.6" font-size="5.40" fill="#c2570c" textLength="39.0" lengthAdjust="spacingAndGlyphs" stroke-width="0"><tspan font-weight="bold">Cellar / Maze</tspan></text>
<rect x="1154.7" y="521.4" width="112.2" height="144.7" fill="#f6f3ff" stroke="#e2dcfb" stroke-width="0.8" rx="8" />
<text x="1158.0" y="527.6" font-size="5.40" fill="#6d28d9" textLength="35.0" lengthAdjust="spacingAndGlyphs" stroke-width="0"><tspan font-weight="bold">Temple Area</tspan></text>
<rect x="918.8" y="666.6" width="127.8" height="91.7" fill="#fffbea" stroke="#fdeec5" stroke-width="0.8" rx="8" />
<text x="922.1" y="672.8" font-size="5.40" fill="#b45309" textLength="30.5" lengthAdjust="spacingAndGlyphs" stroke-width="0"><tspan font-weight="bold">River Area</tspan></text>
<rect x="1054.2" y="597.0" width="95.7" height="141.9" fill="#effdf6" stroke="#cff5e0" stroke-width="0.8" rx="8" />
<text x="1057.5" y="603.2" font-size="5.40" fill="#166534" textLength="48.0" lengthAdjust="spacingAndGlyphs" stroke-width="0"><tspan font-weight="bold">Dam / Reservoir</tspan></text>
<rect x="1154.7" y="691.7" width="112.2" height="92.3" fill="#fff1f1" stroke="#fdd5d5" stroke-width="0.8" rx="8" />
<text x="1158.0" y="697.9" font-size="5.40" fill="#b91c1c" textLength="26.5" lengthAdjust="spacingAndGlyphs" stroke-width="0"><tspan font-weight="bold">Coal Mine</tspan></text>
<rect x="854.1" y="735.9" width="59.4" height="44.3" fill="#f2fdf5" stroke="#cdf5d9" stroke-width="0.8" rx="8" />
<text x="857.4" y="742.1" font-size="5.40" fill="#166534" textLength="24.6" lengthAdjust="spacingAndGlyphs" stroke-width="0"><tspan font-weight="bold">Endgame</tspan></text>
<line x1="982.3" y1="427.0" x2="982.3" y2="731.0" stroke="#3ecf7a" stroke-width="1.25" stroke-dasharray="3.2 2.2" marker-end="url(#mo)"/>
<line x1="894.1" y1="573.0" x2="894.1" y2="447.0" stroke="#ef4444" stroke-width="0.9" stroke-dasharray="2.6 2" marker-end="url(#mo)"/>
<text x="892.6" y="507.5" font-size="4.40" fill="#ef4444" text-anchor="middle" stroke-width="0">up to</text>
<text x="892.6" y="512.9" font-size="4.40" fill="#ef4444" text-anchor="middle" stroke-width="0">Forest</text>
<rect x="884.0" y="503.0" width="17.0" height="11.5" fill="#fff" opacity="0"/>
<line x1="1147.5" y1="427.6" x2="1069.5" y2="473.6" stroke="#3b82f6" stroke-width="0.9" marker-end="url(#mo)"/>
<line x1="1066.6" y1="499.3" x2="1066.6" y2="528.5" stroke="#f59e0b" stroke-width="0.9" marker-end="url(#mo)"/>
<rect x="1052.0" y="510.0" width="29.0" height="6.5" fill="#ffffff" />
<text x="1066.6" y="515.2" font-size="4.40" fill="#f59e0b" text-anchor="middle" stroke-width="0">trapdoor ↓</text>
<line x1="1085.6" y1="537.0" x2="1165.5" y2="537.0" stroke="#8b5cf6" stroke-width="0.9" marker-end="url(#mo)"/>
<rect x="1106.0" y="533.5" width="39.0" height="6.5" fill="#ffffff" />
<text x="1125.6" y="538.6" font-size="4.30" fill="#8b5cf6" text-anchor="middle" stroke-width="0">long path E/SE</text>
<path d="M1001 616.6 L1037 547 L1030 518 L1023.5 488" fill="none" stroke="#ef4444" stroke-width="0.9" stroke-dasharray="2.6 2" marker-end="url(#mo)"/>
<path d="M1008.6 632.8 L1037 552" fill="none" stroke="#5fd38d" stroke-width="0.9" stroke-dasharray="2.6 2"/>
<path d="M1008.6 640 L1010.5 655.6 L1040.9 699.4 L1063.8 737.4" fill="none" stroke="#8fe0ae" stroke-width="0.8" stroke-dasharray="2.6 2"/>
<text x="1004.8" y="641.9" font-size="4.00" fill="#22c55e" text-anchor="middle" stroke-width="0">slide Rm</text>
<text x="1004.8" y="647.6" font-size="4.00" fill="#22c55e" text-anchor="middle" stroke-width="0">→ Cellar</text>
<text x="1042.0" y="548.2" font-size="4.20" fill="#ef4444" text-anchor="middle" stroke-width="0">SW: shortcut</text>
<text x="1049.0" y="555.0" font-size="4.00" fill="#ef4444" text-anchor="middle" stroke-width="0">to Living Rm (egg there)</text>
<path d="M1255.9 638.5 L1296 553 M1299.5 527 L1284.5 444" fill="none" stroke="#ef4444" stroke-width="0.9" stroke-dasharray="2.6 2"/>
<path d="M1287 452 L1284.5 443.5 L1280.5 451" fill="none" stroke="#ef4444" stroke-width="0.9" />
<text x="1300.6" y="531.6" font-size="4.40" fill="#ef4444" text-anchor="middle" stroke-width="0">pray →</text>
<text x="1300.6" y="538.2" font-size="4.40" fill="#ef4444" text-anchor="middle" stroke-width="0">teleport</text>
<text x="1300.6" y="544.8" font-size="4.40" fill="#ef4444" text-anchor="middle" stroke-width="0">to Forest!</text>
<path d="M1077 550.3 L1083 568 L1088.5 606" fill="none" stroke="#16a34a" stroke-width="1.2" marker-end="url(#mo)"/>
<path d="M1060 551 L1078 566" fill="none" stroke="#22c55e" stroke-width="0.9" marker-end="url(#mo)"/>
<line x1="962.0" y1="634.7" x2="897.8" y2="743.2" stroke="#22c55e" stroke-width="1.1" marker-end="url(#mo)"/>
<text x="929.6" y="687.4" font-size="4.40" fill="#22c55e" text-anchor="middle" stroke-width="0">up from</text>
<text x="929.6" y="693.8" font-size="4.40" fill="#22c55e" text-anchor="middle" stroke-width="0">Cyclops</text>
<rect x="864.0" y="407.7" width="61.3" height="18.6" fill="#a8d3fd" stroke="#5aa5f8" stroke-width="1.0" rx="3.2" />
<text x="894.6" y="415.8" font-size="5.70" fill="#2f7df0" text-anchor="middle" stroke-width="0">Forest Path</text>
<text x="894.6" y="422.6" font-size="5.70" fill="#2f7df0" text-anchor="middle" stroke-width="0">/ Tree</text>
<text x="894.6" y="431.0" font-size="4.60" fill="#4a4a4a" text-anchor="middle" stroke-width="0">(jeweled egg, bauble)</text>
<rect x="948.7" y="407.7" width="67.5" height="18.6" fill="#a8d3fd" stroke="#2563eb" stroke-width="1.0" rx="3.2" />
<text x="982.5" y="419.0" font-size="6.20" fill="#1d4ed8" text-anchor="middle" stroke-width="0"><tspan font-weight="bold">West of House</tspan></text>
<text x="981.0" y="430.9" font-size="4.60" fill="#2563eb" text-anchor="middle" stroke-width="0">(START / mailbox)</text>
<rect x="1037.5" y="407.7" width="66.6" height="18.6" fill="#a8d3fd" stroke="#5aa5f8" stroke-width="1.0" rx="3.2" />
<text x="1070.8" y="419.0" font-size="6.20" fill="#2f7df0" text-anchor="middle" stroke-width="0">Behind House</text>
<rect x="1122.3" y="407.7" width="52.7" height="18.6" fill="#a8d3fd" stroke="#5aa5f8" stroke-width="1.0" rx="3.2" />
<text x="1148.7" y="419.0" font-size="6.20" fill="#2f7df0" text-anchor="middle" stroke-width="0">Kitchen</text>
<text x="1148.7" y="431.0" font-size="4.60" fill="#4a4a4a" text-anchor="middle" stroke-width="0">(sack, bottle, garlic)</text>
<rect x="1195.4" y="407.7" width="51.4" height="18.6" fill="#a8d3fd" stroke="#5aa5f8" stroke-width="1.0" rx="3.2" />
<text x="1221.1" y="419.0" font-size="6.20" fill="#2f7df0" text-anchor="middle" stroke-width="0">Attic</text>
<text x="1215.0" y="431.0" font-size="4.60" fill="#4a4a4a" text-anchor="middle" stroke-width="0">(rope, knife)</text>
<line x1="925.3" y1="417.0" x2="947.7" y2="417.0" stroke="#3b82f6" stroke-width="0.9" marker-end="url(#mo)"/>
<line x1="1016.2" y1="417.0" x2="1036.5" y2="417.0" stroke="#3b82f6" stroke-width="0.9" marker-end="url(#mo)"/>
<line x1="1104.1" y1="417.0" x2="1121.3" y2="417.0" stroke="#3b82f6" stroke-width="0.9" marker-end="url(#mo)"/>
<line x1="1175.0" y1="417.0" x2="1194.4" y2="417.0" stroke="#3b82f6" stroke-width="0.9" marker-end="url(#mo)"/>
<rect x="1022.9" y="475.6" width="88.0" height="23.7" fill="#a8d3fd" stroke="#2563eb" stroke-width="1.2" rx="3.2" />
<text x="1066.9" y="489.5" font-size="7.40" fill="#1d4ed8" text-anchor="middle" stroke-width="0">Living Room</text>
<text x="1060.3" y="504.8" font-size="4.60" fill="#2563eb" text-anchor="middle" stroke-width="0">(Trophy Case, sword, lantern)</text>
<rect x="935.4" y="531.3" width="58.9" height="19.0" fill="#fdcb8e" stroke="#f59e0b" stroke-width="1.0" rx="3.2" />
<text x="964.8" y="542.8" font-size="6.20" fill="#ef9206" text-anchor="middle" stroke-width="0">Troll Room</text>
<text x="964.8" y="555.0" font-size="4.60" fill="#4a4a4a" text-anchor="middle" stroke-width="0">(kill troll w/ sword)</text>
<rect x="1032.9" y="531.3" width="52.7" height="19.0" fill="#fdcb8e" stroke="#f59e0b" stroke-width="1.0" rx="3.2" />
<text x="1059.2" y="542.8" font-size="6.20" fill="#ef9206" text-anchor="middle" stroke-width="0">Cellar</text>
<rect x="864.0" y="573.5" width="54.8" height="18.7" fill="#fdcb8e" stroke="#f59e0b" stroke-width="1.0" rx="3.2" />
<text x="891.4" y="584.9" font-size="6.20" fill="#ef9206" text-anchor="middle" stroke-width="0">Grating</text>
<text x="883.0" y="596.9" font-size="4.60" fill="#4a4a4a" text-anchor="middle" stroke-width="0">(unlock w/ key)</text>
<rect x="928.1" y="573.5" width="73.5" height="18.7" fill="#fdcb8e" stroke="#f59e0b" stroke-width="1.0" rx="3.2" />
<text x="964.9" y="584.9" font-size="6.20" fill="#ef9206" text-anchor="middle" stroke-width="0">Maze</text>
<text x="969.6" y="596.9" font-size="4.60" fill="#4a4a4a" text-anchor="middle" stroke-width="0">(bag of coins, skeleton key)</text>
<rect x="928.1" y="615.3" width="73.5" height="18.8" fill="#fdcb8e" stroke="#f59e0b" stroke-width="1.0" rx="3.2" />
<text x="964.9" y="626.7" font-size="6.20" fill="#ef9206" text-anchor="middle" stroke-width="0">Cyclops Room</text>
<text x="964.9" y="638.8" font-size="4.60" fill="#4a4a4a" text-anchor="middle" stroke-width="0">(say "Odysseus" = shortcut)</text>
<line x1="1032.9" y1="540.4" x2="995.5" y2="540.4" stroke="#f59e0b" stroke-width="0.9" marker-end="url(#mo)"/>
<text x="1013.5" y="542.0" font-size="4.00" fill="#f59e0b" text-anchor="middle" stroke-width="0">W</text>
<line x1="964.5" y1="557.0" x2="964.5" y2="572.0" stroke="#f59e0b" stroke-width="0.9" marker-end="url(#mo)"/>
<line x1="928.1" y1="583.0" x2="920.0" y2="583.0" stroke="#f59e0b" stroke-width="0.9" marker-end="url(#mo)"/>
<line x1="964.5" y1="597.5" x2="964.5" y2="612.5" stroke="#f59e0b" stroke-width="0.9" marker-end="url(#mo)"/>
<rect x="1061.3" y="568.4" width="53.2" height="19.0" fill="#b4f5d6" stroke="#1fc16b" stroke-width="1.0" rx="3.2" />
<text x="1087.9" y="579.9" font-size="6.20" fill="#14a85a" text-anchor="middle" stroke-width="0">Gallery</text>
<text x="1080.9" y="592.1" font-size="4.60" fill="#4a4a4a" text-anchor="middle" stroke-width="0">(painting)</text>
<rect x="1063.2" y="607.1" width="68.1" height="18.4" fill="#b4f5d6" stroke="#1fc16b" stroke-width="1.0" rx="3.2" />
<text x="1097.2" y="618.3" font-size="6.20" fill="#14a85a" text-anchor="middle" stroke-width="0">Loud Room</text>
<text x="1092.3" y="630.2" font-size="4.60" fill="#4a4a4a" text-anchor="middle" stroke-width="0">(platinum bar / "echo")</text>
<rect x="1061.3" y="639.4" width="73.4" height="18.5" fill="#b4f5d6" stroke="#1fc16b" stroke-width="1.0" rx="3.2" />
<text x="1098.0" y="647.4" font-size="5.70" fill="#14a85a" text-anchor="middle" stroke-width="0">Dam Lobby /</text>
<text x="1098.0" y="654.2" font-size="5.70" fill="#14a85a" text-anchor="middle" stroke-width="0">Maintenance</text>
<text x="1062.2" y="662.6" font-size="4.60" fill="#4a4a4a" text-anchor="start" stroke-width="0">(matchbook, wrench,</text>
<text x="1062.2" y="667.8" font-size="4.60" fill="#4a4a4a" text-anchor="start" stroke-width="0">screwdriver)</text>
<rect x="1068.1" y="669.5" width="59.8" height="17.1" fill="#b4f5d6" stroke="#1fc16b" stroke-width="1.0" rx="3.2" />
<text x="1098.0" y="680.0" font-size="6.20" fill="#14a85a" text-anchor="middle" stroke-width="0">Dam</text>
<text x="1084.7" y="691.3" font-size="4.60" fill="#4a4a4a" text-anchor="middle" stroke-width="0">(turn bolt)</text>
<rect x="1063.2" y="698.8" width="71.5" height="18.6" fill="#b4f5d6" stroke="#1fc16b" stroke-width="1.0" rx="3.2" />
<text x="1099.0" y="710.1" font-size="6.20" fill="#14a85a" text-anchor="middle" stroke-width="0">Reservoir S / N</text>
<text x="1099.9" y="722.1" font-size="4.60" fill="#4a4a4a" text-anchor="middle" stroke-width="0">(trunk of jewels, air pump)</text>
<rect x="1064.7" y="730.7" width="68.1" height="19.1" fill="#b4f5d6" stroke="#1fc16b" stroke-width="1.0" rx="3.2" />
<text x="1098.8" y="742.2" font-size="6.20" fill="#14a85a" text-anchor="middle" stroke-width="0">Atlantis Room</text>
<text x="1089.0" y="754.5" font-size="4.60" fill="#4a4a4a" text-anchor="middle" stroke-width="0">(crystal trident)</text>
<line x1="1097.0" y1="626.0" x2="1097.0" y2="638.5" stroke="#1fc16b" stroke-width="0.7" stroke-dasharray="1.5 1.5"/>
<line x1="1097.0" y1="658.0" x2="1097.0" y2="669.0" stroke="#1fc16b" stroke-width="0.7" stroke-dasharray="1.5 1.5"/>
<line x1="1097.0" y1="687.0" x2="1097.0" y2="698.0" stroke="#1fc16b" stroke-width="0.7" stroke-dasharray="1.5 1.5"/>
<line x1="1097.0" y1="718.0" x2="1097.0" y2="730.0" stroke="#1fc16b" stroke-width="0.7" stroke-dasharray="1.5 1.5"/>
<rect x="1166.5" y="531.3" width="68.1" height="19.0" fill="#cebcfb" stroke="#8b5cf6" stroke-width="1.0" rx="3.2" />
<text x="1200.5" y="542.8" font-size="6.20" fill="#7c3aed" text-anchor="middle" stroke-width="0">Dome Room</text>
<text x="1196.0" y="555.0" font-size="4.60" fill="#4a4a4a" text-anchor="middle" stroke-width="0">(tie rope, descend)</text>
<rect x="1166.5" y="565.0" width="68.1" height="19.2" fill="#cebcfb" stroke="#8b5cf6" stroke-width="1.0" rx="3.2" />
<text x="1200.5" y="576.6" font-size="6.20" fill="#7c3aed" text-anchor="middle" stroke-width="0">Torch Room</text>
<text x="1190.6" y="588.9" font-size="4.60" fill="#4a4a4a" text-anchor="middle" stroke-width="0">(ivory torch)</text>
<rect x="1163.6" y="597.0" width="74.2" height="18.7" fill="#cebcfb" stroke="#8b5cf6" stroke-width="1.0" rx="3.2" />
<text x="1200.7" y="608.4" font-size="6.20" fill="#7c3aed" text-anchor="middle" stroke-width="0">Temple</text>
<rect x="1256.4" y="597.0" width="59.4" height="18.7" fill="#cebcfb" stroke="#8b5cf6" stroke-width="1.0" rx="3.2" />
<text x="1286.1" y="608.4" font-size="6.20" fill="#7c3aed" text-anchor="middle" stroke-width="0">Egyptian Rm</text>
<text x="1278.7" y="620.4" font-size="4.60" fill="#4a4a4a" text-anchor="middle" stroke-width="0">(coffin, sceptre)</text>
<rect x="1163.6" y="629.0" width="74.2" height="18.6" fill="#cebcfb" stroke="#8b5cf6" stroke-width="1.0" rx="3.2" />
<text x="1200.7" y="640.3" font-size="6.20" fill="#7c3aed" text-anchor="middle" stroke-width="0">Altar</text>
<text x="1182.6" y="652.3" font-size="4.60" fill="#4a4a4a" text-anchor="middle" stroke-width="0">(candles, book)</text>
<rect x="1158.3" y="661.3" width="84.6" height="18.7" fill="#cebcfb" stroke="#8b5cf6" stroke-width="1.0" rx="3.2" />
<text x="1200.6" y="669.4" font-size="5.70" fill="#7c3aed" text-anchor="middle" stroke-width="0">Hades / Land</text>
<text x="1200.6" y="676.2" font-size="5.70" fill="#7c3aed" text-anchor="middle" stroke-width="0">of the Dead</text>
<text x="1190.6" y="684.7" font-size="4.60" fill="#4a4a4a" text-anchor="middle" stroke-width="0">(crystal skull, bell ritual)</text>
<line x1="1200.5" y1="550.3" x2="1200.5" y2="565.0" stroke="#8b5cf6" stroke-width="0.7" stroke-dasharray="1.5 1.5"/>
<line x1="1200.5" y1="584.2" x2="1200.5" y2="597.0" stroke="#8b5cf6" stroke-width="0.7" stroke-dasharray="1.5 1.5"/>
<line x1="1200.5" y1="615.7" x2="1200.5" y2="629.0" stroke="#8b5cf6" stroke-width="0.7" stroke-dasharray="1.5 1.5"/>
<line x1="1200.5" y1="647.6" x2="1200.5" y2="661.3" stroke="#8b5cf6" stroke-width="0.7" stroke-dasharray="1.5 1.5"/>
<line x1="1237.8" y1="606.3" x2="1255.4" y2="606.3" stroke="#8b5cf6" stroke-width="0.8" stroke-dasharray="2 1.5" marker-end="url(#mo)"/>
<text x="1200.5" y="622.5" font-size="3.80" fill="#8b5cf6" text-anchor="middle" stroke-width="0">S</text>
<text x="1203.5" y="655.0" font-size="3.80" fill="#8b5cf6" text-anchor="middle" stroke-width="0">S</text>
<rect x="962.4" y="674.2" width="67.5" height="17.5" fill="#fdf0bd" stroke="#f5b942" stroke-width="1.0" rx="3.2" />
<text x="996.2" y="685.0" font-size="6.20" fill="#ea9a12" text-anchor="middle" stroke-width="0">Dam Base</text>
<text x="985.8" y="696.4" font-size="4.60" fill="#4a4a4a" text-anchor="middle" stroke-width="0">(inflate boat)</text>
<rect x="931.9" y="703.5" width="67.6" height="18.7" fill="#fdf0bd" stroke="#f5b942" stroke-width="1.0" rx="3.2" />
<text x="965.7" y="714.9" font-size="6.20" fill="#ea9a12" text-anchor="middle" stroke-width="0">Sandy Beach</text>
<text x="958.2" y="726.9" font-size="4.60" fill="#4a4a4a" text-anchor="middle" stroke-width="0">(emerald from buoy)</text>
<rect x="1017.5" y="703.5" width="59.2" height="18.7" fill="#fdf0bd" stroke="#f5b942" stroke-width="1.0" rx="3.2" />
<text x="1047.1" y="714.9" font-size="6.20" fill="#ea9a12" text-anchor="middle" stroke-width="0">Sandy Cave</text>
<text x="1038.0" y="726.9" font-size="4.60" fill="#4a4a4a" text-anchor="middle" stroke-width="0">(dig → scarab)</text>
<rect x="923.4" y="737.4" width="84.8" height="19.0" fill="#fdf0bd" stroke="#f5b942" stroke-width="1.0" rx="3.2" />
<text x="965.8" y="748.9" font-size="6.20" fill="#ea9a12" text-anchor="middle" stroke-width="0"></text>
<rect x="942.0" y="735.5" width="57.5" height="19.4" fill="#b2f2bf" stroke="#22c55e" stroke-width="1.3" rx="3.2" />
<text x="970.8" y="747.2" font-size="6.20" fill="#16a34a" text-anchor="middle" stroke-width="0">Stone Barrow</text>
<text x="962.0" y="759.6" font-size="4.60" fill="#4a4a4a" text-anchor="middle" stroke-width="0">(west sceptre → go into barrow)</text>
<path d="M1096.1 686.4 L1062 685.5 L1031.2 682" fill="none" stroke="#f59e0b" stroke-width="0.9" marker-end="url(#mo)"/>
<text x="1063.0" y="685.8" font-size="4.00" fill="#f59e0b" text-anchor="middle" stroke-width="0">boat</text>
<line x1="999.5" y1="712.8" x2="1016.5" y2="712.8" stroke="#f59e0b" stroke-width="0.9" stroke-dasharray="2 1.5" marker-end="url(#mo)"/>
<text x="965.5" y="730.0" font-size="3.80" fill="#f59e0b" text-anchor="middle" stroke-width="0">SW</text>
<rect x="857.4" y="744.6" width="52.3" height="18.5" fill="#b2f2bf" stroke="#22c55e" stroke-width="1.1" rx="3.2" />
<text x="883.5" y="752.6" font-size="5.70" fill="#16a34a" text-anchor="middle" stroke-width="0">Treasure</text>
<text x="883.5" y="759.5" font-size="5.70" fill="#16a34a" text-anchor="middle" stroke-width="0">Room</text>
<text x="857.4" y="767.8" font-size="4.60" fill="#4a4a4a" text-anchor="start" stroke-width="0">(chalice, canary,</text>
<text x="857.4" y="773.0" font-size="4.60" fill="#4a4a4a" text-anchor="start" stroke-width="0">all 19x(!))</text>
<text x="1200.5" y="690.2" font-size="3.90" fill="#ef4444" text-anchor="middle" stroke-width="0">S Mirror</text>
<text x="1200.5" y="696.6" font-size="3.90" fill="#ef4444" text-anchor="middle" stroke-width="0">→ N Mirror</text>
<line x1="1200.5" y1="680.5" x2="1200.5" y2="704.5" stroke="#ef4444" stroke-width="0.8" stroke-dasharray="1.5 1.5" marker-end="url(#mo)" opacity=".8"/>
<rect x="1161.3" y="705.4" width="91.7" height="18.3" fill="#fec7c7" stroke="#ef4444" stroke-width="1.0" rx="3.2" />
<text x="1207.2" y="716.5" font-size="6.20" fill="#dc2626" text-anchor="middle" stroke-width="0">Bat Rm → Shaft Rm</text>
<text x="1193.1" y="728.4" font-size="4.60" fill="#4a4a4a" text-anchor="middle" stroke-width="0">(jade figurine, need garlic)</text>
<rect x="1168.4" y="737.4" width="78.0" height="18.6" fill="#fec7c7" stroke="#ef4444" stroke-width="1.0" rx="3.2" />
<text x="1207.4" y="748.7" font-size="6.20" fill="#dc2626" text-anchor="middle" stroke-width="0">Gas Room</text>
<text x="1196.5" y="760.7" font-size="4.60" fill="#4a4a4a" text-anchor="middle" stroke-width="0">(sapphire bracelet)</text>
<rect x="1158.3" y="769.4" width="98.5" height="19.0" fill="#fec7c7" stroke="#ef4444" stroke-width="1.0" rx="3.2" />
<text x="1207.5" y="777.7" font-size="5.70" fill="#dc2626" text-anchor="middle" stroke-width="0">Mine / Drafty /</text>
<text x="1207.5" y="784.5" font-size="5.70" fill="#dc2626" text-anchor="middle" stroke-width="0">Machine Room</text>
<text x="1196.5" y="793.1" font-size="4.60" fill="#4a4a4a" text-anchor="middle" stroke-width="0">(coal → machine → diamond)</text>
<line x1="1207.0" y1="723.7" x2="1207.0" y2="736.4" stroke="#dc2626" stroke-width="1" marker-end="url(#mo)"/>
<line x1="1207.0" y1="756.0" x2="1207.0" y2="768.4" stroke="#dc2626" stroke-width="1" marker-end="url(#mo)"/>
<path d="M1256.8 775.4 Q1270 752 1267.5 733 L1257.5 718" fill="none" stroke="#ef4444" stroke-width="0.9" stroke-dasharray="2.6 2" marker-end="url(#mo)"/>
<text x="1273.6" y="742.2" font-size="4.20" fill="#ef4444" text-anchor="middle" stroke-width="0">basket</text>
<text x="1273.6" y="748.8" font-size="4.20" fill="#ef4444" text-anchor="middle" stroke-width="0">system</text>
<text x="1273.4" y="414.2" font-size="6.00" fill="#222" stroke-width="0"><tspan font-weight="bold">Legend</tspan></text>
<rect x="1273.4" y="418.2" width="7.2" height="5.2" fill="#a8d3fd" stroke="#5aa5f8" stroke-width="0.6" />
<text x="1283.5" y="422.4" font-size="4.40" fill="#333" text-anchor="start" stroke-width="0">Above Ground</text>
<rect x="1273.4" y="427.0" width="7.2" height="5.2" fill="#fdcb8e" stroke="#f59e0b" stroke-width="0.6" />
<text x="1283.5" y="431.2" font-size="4.40" fill="#333" text-anchor="start" stroke-width="0">Cellar / Maze</text>
<rect x="1273.4" y="435.8" width="7.2" height="5.2" fill="#d5fae6" stroke="#34d399" stroke-width="0.6" />
<text x="1283.5" y="440.0" font-size="4.40" fill="#333" text-anchor="start" stroke-width="0">Dam / Reservoir</text>
<rect x="1273.4" y="444.7" width="7.2" height="5.2" fill="#cebcfb" stroke="#8b5cf6" stroke-width="0.6" />
<text x="1283.5" y="448.9" font-size="4.40" fill="#333" text-anchor="start" stroke-width="0">Temple Area</text>
<rect x="1273.4" y="453.5" width="7.2" height="5.2" fill="#fdf0bd" stroke="#f5b942" stroke-width="0.6" />
<text x="1283.5" y="457.7" font-size="4.40" fill="#333" text-anchor="start" stroke-width="0">River Area</text>
<rect x="1273.4" y="462.3" width="7.2" height="5.2" fill="#fec7c7" stroke="#ef4444" stroke-width="0.6" />
<text x="1283.5" y="466.5" font-size="4.40" fill="#333" text-anchor="start" stroke-width="0">Coal Mine</text>
<rect x="1273.4" y="471.1" width="7.2" height="5.2" fill="#b2f2bf" stroke="#22c55e" stroke-width="0.6" />
<text x="1283.5" y="475.3" font-size="4.40" fill="#333" text-anchor="start" stroke-width="0">Endgame</text>
<line x1="1273.4" y1="482.8" x2="1280.8" y2="482.8" stroke="#ef4444" stroke-width="0.9" stroke-dasharray="2 1.3" marker-end="url(#mo)"/>
<text x="1283.5" y="484.6" font-size="4.40" fill="#333" text-anchor="start" stroke-width="0">Shortcut / Teleport</text>
<line x1="1273.4" y1="491.9" x2="1280.8" y2="491.9" stroke="#222" stroke-width="1" marker-end="url(#mo)"/>
<text x="1283.5" y="493.6" font-size="4.40" fill="#333" text-anchor="start" stroke-width="0">Normal Path</text>
</g>
</svg>
</body></html>
